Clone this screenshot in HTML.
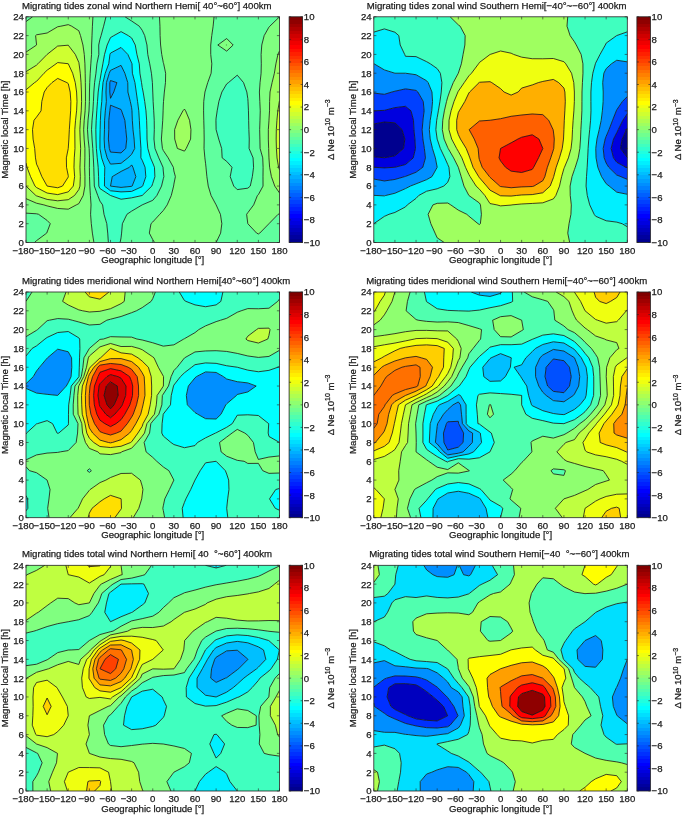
<!DOCTYPE html>
<html><head><meta charset="utf-8"><style>
html,body{margin:0;padding:0;background:#fff;width:685px;height:815px;overflow:hidden}
svg{display:block;will-change:transform}
text{font-family:"Liberation Sans",sans-serif;stroke:#1a1a1a;stroke-width:0.25px}
</style></head><body>
<svg xmlns="http://www.w3.org/2000/svg" width="685" height="815" viewBox="0 0 685 815" font-family="Liberation Sans, sans-serif" font-size="9.6" fill="#1a1a1a">
<clipPath id="clip00"><rect x="26" y="16.8" width="253.5" height="225.7"/></clipPath>
<g clip-path="url(#clip00)">
<path d="M110.5 152.08L121.06 152.88L125.76 148.46L126.75 139.05L125.8 129.65L124.83 120.25L121.59 110.84L121.06 109.5L110.5 105.2L109.83 110.84L108.81 120.25L108.78 129.65L108.39 139.05L109.33 148.46ZM110.5 98.3L113.75 92.03L116.9 82.63L110.5 80.54L109.82 82.63L109.75 92.03Z" fill="#008fff" stroke="#008fff" stroke-width="0.3" fill-rule="evenodd"/>
<path d="M110.5 186.07L121.06 187.42L131.62 186.33L132.15 186.07L135.85 176.67L132.95 167.27L131.62 164.92L129.51 167.27L121.06 171.45L112.26 176.67L110.5 186.07L110.5 186.07ZM110.5 164.13L121.06 163.31L127.9 157.86L131.62 154.34L134.73 148.46L134.11 139.05L132.99 129.65L132.33 120.25L131.97 110.84L131.62 107.71L130.3 101.44L127.9 92.03L127.77 82.63L124.83 73.22L121.06 65.39L110.5 70.4L109.28 73.22L106.41 82.63L105.97 92.03L106.37 101.44L105.33 110.84L104.58 120.25L104.46 129.65L104.16 139.05L104.63 148.46L107.16 157.86ZM109.33 148.46L108.39 139.05L108.78 129.65L108.81 120.25L109.83 110.84L110.5 105.2L121.06 109.5L121.59 110.84L124.83 120.25L125.8 129.65L126.75 139.05L125.76 148.46L121.06 152.88L110.5 152.08ZM109.75 92.03L109.82 82.63L110.5 80.54L116.9 82.63L113.75 92.03L110.5 98.3Z" fill="#00afff" stroke="#00afff" stroke-width="0.3" fill-rule="evenodd"/>
<path d="M110.5 190.78L121.06 191.9L131.62 191.41L142.19 186.52L142.65 186.07L145.83 176.67L145.07 167.27L142.19 160.21L140.87 157.86L140.94 148.46L140.32 139.05L139.8 129.65L139.37 120.25L138.78 110.84L137.57 101.44L136.25 92.03L134.93 82.63L132.38 73.22L131.99 63.82L131.62 62.88L127.82 54.42L121.06 47.45L110.5 53.11L109.96 54.42L108.74 63.82L105.22 73.22L103 82.63L102.2 92.03L101.77 101.44L100.84 110.84L100.36 120.25L100.15 129.65L99.94 139.05L99.94 139.05L99.94 148.46L99.94 148.46L101.61 157.86L104.81 167.27L104.56 176.67L104.46 186.07ZM110.5 186.07L110.5 186.07L112.26 176.67L121.06 171.45L129.51 167.27L131.62 164.92L132.95 167.27L135.85 176.67L132.15 186.07L131.62 186.33L121.06 187.42L110.5 186.07ZM107.16 157.86L104.63 148.46L104.16 139.05L104.46 129.65L104.58 120.25L105.33 110.84L106.37 101.44L105.97 92.03L106.41 82.63L109.28 73.22L110.5 70.4L121.06 65.39L124.83 73.22L127.77 82.63L127.9 92.03L130.3 101.44L131.62 107.71L131.97 110.84L132.33 120.25L132.99 129.65L134.11 139.05L134.73 148.46L131.62 154.34L127.9 157.86L121.06 163.31L110.5 164.13Z" fill="#00cfff" stroke="#00cfff" stroke-width="0.3" fill-rule="evenodd"/>
<path d="M110.5 195.48L121.06 199.24L131.62 197.83L142.19 195.48L142.19 195.48L151.83 186.07L152.75 183.3L154.88 176.67L154.46 167.27L152.75 162.98L150.53 157.86L147.82 148.46L147.01 139.05L146.92 129.65L146.63 120.25L145.96 110.84L144.7 101.44L143.15 92.03L142.19 87.33L141.53 82.63L139.92 73.22L139.27 63.82L136.91 54.42L135.25 45.01L131.62 37.95L128.27 35.61L121.06 31.63L113.86 35.61L110.5 37.57L107.18 45.01L104.54 54.42L102.87 63.82L101.16 73.22L99.94 80.28L99.45 82.63L98.19 92.03L97.5 101.44L96.81 110.84L96.2 120.25L95.84 129.65L96 139.05L96.36 148.46L97.22 157.86L98.18 167.27L98.58 176.67L98.81 186.07L99.94 188.55L110.5 195.48ZM104.46 186.07L104.56 176.67L104.81 167.27L101.61 157.86L99.94 148.46L99.94 148.46L99.94 139.05L99.94 139.05L100.15 129.65L100.36 120.25L100.84 110.84L101.77 101.44L102.2 92.03L103 82.63L105.22 73.22L108.74 63.82L109.96 54.42L110.5 53.11L121.06 47.45L127.82 54.42L131.62 62.88L131.99 63.82L132.38 73.22L134.93 82.63L136.25 92.03L137.57 101.44L138.78 110.84L139.37 120.25L139.8 129.65L140.32 139.05L140.94 148.46L140.87 157.86L142.19 160.21L145.07 167.27L145.83 176.67L142.65 186.07L142.19 186.52L131.62 191.41L121.06 191.9L110.5 190.78Z" fill="#00ffff" stroke="#00ffff" stroke-width="0.3" fill-rule="evenodd"/>
<path d="M110.5 242.5L120.1 242.5L121.06 237.8L121.59 233.1L122.38 223.69L126.93 214.29L131.62 211.15L142.19 204.88L142.19 204.88L152.75 200.33L156.87 195.48L161.54 186.07L163.31 178.75L163.87 176.67L163.31 171.04L163.02 167.27L158.8 157.86L154.98 148.46L153.98 139.05L154.31 129.65L154.23 120.25L153.69 110.84L153.15 101.44L152.75 92.03L152.75 92.03L152.4 82.63L151.43 73.22L149.72 63.82L147.78 54.42L146.95 45.01L144.69 35.61L142.19 30.28L139.27 26.2L131.62 20.99L125.07 16.8L121.06 16.8L110.5 16.8L105.99 16.8L103.62 26.2L101.07 35.61L99.94 39.22L98.71 45.01L98.84 54.42L96.9 63.82L95.94 73.22L94.58 82.63L93.83 92.03L93.45 101.44L92.9 110.84L92.05 120.25L91.53 129.65L92.07 139.05L92.78 148.46L93.34 157.86L93.78 167.27L94.05 176.67L94.32 186.07L97.74 195.48L99.94 201.12L102.58 204.88L104.01 214.29L106.77 223.69L107.72 233.1L108.39 242.5ZM110.5 195.48L99.94 188.55L98.81 186.07L98.58 176.67L98.18 167.27L97.22 157.86L96.36 148.46L96 139.05L95.84 129.65L96.2 120.25L96.81 110.84L97.5 101.44L98.19 92.03L99.45 82.63L99.94 80.28L101.16 73.22L102.87 63.82L104.54 54.42L107.18 45.01L110.5 37.57L113.86 35.61L121.06 31.63L128.27 35.61L131.62 37.95L135.25 45.01L136.91 54.42L139.27 63.82L139.92 73.22L141.53 82.63L142.19 87.33L143.15 92.03L144.7 101.44L145.96 110.84L146.63 120.25L146.92 129.65L147.01 139.05L147.82 148.46L150.53 157.86L152.75 162.98L154.46 167.27L154.88 176.67L152.75 183.3L151.83 186.07L142.19 195.48L142.19 195.48L131.62 197.83L121.06 199.24L110.5 195.48ZM237.25 189.6L247.81 188.18L250.25 186.07L252.34 176.67L253.57 167.27L253.09 157.86L249.08 148.46L249.26 139.05L248.87 129.65L248.65 120.25L248.46 110.84L248.03 101.44L247.81 98.63L246.82 92.03L243.54 82.63L237.25 75.18L228.44 82.63L226.69 83.87L221.89 92.03L218.88 101.44L217.18 110.84L216.12 118.09L215.95 120.25L216.12 129.65L216.12 129.65L218.71 139.05L221.65 148.46L222.16 157.86L226.69 161.39L231.97 167.27L230.21 176.67L233.73 186.07Z" fill="#40ffbf" stroke="#40ffbf" stroke-width="0.3" fill-rule="evenodd"/>
<path d="M36.56 240.62L46.69 233.1L47.12 232.05L50.26 223.69L47.12 220.42L38.54 214.29L36.56 213.79L26 213.15L26 214.29L26 223.69L26 233.1L26 242.5L34.52 242.5ZM99.94 242.5L108.39 242.5L107.72 233.1L106.77 223.69L104.01 214.29L102.58 204.88L99.94 201.12L97.74 195.48L94.32 186.07L94.05 176.67L93.78 167.27L93.34 157.86L92.78 148.46L92.07 139.05L91.53 129.65L92.05 120.25L92.9 110.84L93.45 101.44L93.83 92.03L94.58 82.63L95.94 73.22L96.9 63.82L98.84 54.42L98.71 45.01L99.94 39.22L101.07 35.61L103.62 26.2L105.99 16.8L99.94 16.8L92.91 16.8L92.41 26.2L92.03 35.61L91.61 45.01L91.56 54.42L90.82 63.82L90.23 73.22L89.71 82.63L89.46 92.03L89.39 101.44L89.38 101.71L88.99 110.84L88.02 120.25L87.47 129.65L88.12 139.05L89.16 148.46L89.38 154.99L89.46 157.86L89.38 167.27L89.38 167.27L89.38 167.27L89.53 176.67L89.82 186.07L90.42 195.48L91.04 204.88L90.58 214.29L91.3 223.69L92.39 233.1L93.9 242.5ZM121.06 242.5L131.62 242.5L142.19 242.5L152.75 242.5L154.56 242.5L152.75 239.64L149.32 233.1L150.99 223.69L152.75 221.99L159.77 214.29L163.31 210.56L167.19 204.88L171.29 195.48L173.62 186.07L173.88 184.14L175.38 176.67L173.88 170.97L173.35 167.27L168.19 157.86L163.31 150.48L162.43 148.46L161.39 139.05L162.09 129.65L162.73 120.25L163.12 110.84L163.31 105L163.53 101.44L164.35 92.03L165.47 82.63L165.64 73.22L163.68 63.82L163.31 62.59L161.73 54.42L160.59 45.01L160.12 35.61L159.95 26.2L159.47 16.8L152.75 16.8L142.19 16.8L131.62 16.8L125.07 16.8L131.62 20.99L139.27 26.2L142.19 30.28L144.69 35.61L146.95 45.01L147.78 54.42L149.72 63.82L151.43 73.22L152.4 82.63L152.75 92.03L152.75 92.03L153.15 101.44L153.69 110.84L154.23 120.25L154.31 129.65L153.98 139.05L154.98 148.46L158.8 157.86L163.02 167.27L163.31 171.04L163.87 176.67L163.31 178.75L161.54 186.07L156.87 195.48L152.75 200.33L142.19 204.88L142.19 204.88L131.62 211.15L126.93 214.29L122.38 223.69L121.59 233.1L121.06 237.8L120.1 242.5ZM226.69 242.5L237.25 242.5L247.81 242.5L258.38 242.5L268.94 242.5L279.5 242.5L279.5 233.1L279.5 223.69L279.5 214.29L279.5 213.76L278.12 214.29L268.94 223.69L268.94 223.69L259.75 233.1L258.38 233.95L256.61 233.1L247.81 223.69L247.81 223.69L246.64 214.29L247.81 212.71L253.67 204.88L257.41 195.48L258.38 194.65L263.04 186.07L262.99 176.67L263.1 167.27L262.72 157.86L260.09 148.46L259.88 139.05L259.67 129.65L259.99 120.25L260.25 110.84L259.8 101.44L259.42 92.03L260.06 82.63L261.1 73.22L261.31 63.82L261.11 54.42L261.77 45.01L264.16 35.61L268.94 27.14L269.83 26.2L279.5 16.8L279.5 16.8L268.94 16.8L258.38 16.8L247.81 16.8L237.25 16.8L226.69 16.8L216.12 16.8L214.06 16.8L213.14 26.2L211.75 35.61L210.73 45.01L210.72 54.42L211.81 63.82L211.13 73.22L207.73 82.63L205.56 89.95L204.94 92.03L203.73 101.44L203.58 110.84L203.78 120.25L204.04 129.65L204.18 139.05L204.02 148.46L204.87 157.86L205.56 163.24L205.99 167.27L206.88 176.67L208.24 186.07L211.07 195.48L216.12 204.88L216.12 204.88L220.41 214.29L221.83 223.69L220.61 233.1L216.13 242.5ZM233.73 186.07L230.21 176.67L231.97 167.27L226.69 161.39L222.16 157.86L221.65 148.46L218.71 139.05L216.12 129.65L216.12 129.65L215.95 120.25L216.12 118.09L217.18 110.84L218.88 101.44L221.89 92.03L226.69 83.87L228.44 82.63L237.25 75.18L243.54 82.63L246.82 92.03L247.81 98.63L248.03 101.44L248.46 110.84L248.65 120.25L248.87 129.65L249.26 139.05L249.08 148.46L253.09 157.86L253.57 167.27L252.34 176.67L250.25 186.07L247.81 188.18L237.25 189.6ZM217.84 45.01L226.69 38.53L233.17 45.01L226.69 51.14ZM32.55 16.8L26 16.8L26 21.56Z" fill="#60ff9f" stroke="#60ff9f" stroke-width="0.3" fill-rule="evenodd"/>
<path d="M36.56 242.5L47.12 242.5L57.69 242.5L68.25 242.5L78.81 242.5L89.38 242.5L93.9 242.5L92.39 233.1L91.3 223.69L90.58 214.29L91.04 204.88L90.42 195.48L89.82 186.07L89.53 176.67L89.38 167.27L89.38 167.27L89.38 167.27L89.46 157.86L89.38 154.99L89.16 148.46L88.12 139.05L87.47 129.65L88.02 120.25L88.99 110.84L89.38 101.71L89.39 101.44L89.46 92.03L89.71 82.63L90.23 73.22L90.82 63.82L91.56 54.42L91.61 45.01L92.03 35.61L92.41 26.2L92.91 16.8L89.38 16.8L78.81 16.8L68.25 16.8L57.69 16.8L47.12 16.8L36.56 16.8L32.55 16.8L26 21.56L26 26.2L26 35.61L26 45.01L26 52.1L36.56 45.04L36.58 45.01L36.56 44.81L35.6 35.61L36.56 34.79L47.12 33L57.69 26.74L60.86 26.2L68.25 24.64L71.68 26.2L78.81 30.73L80.51 35.61L82.93 45.01L84.28 54.42L84.92 63.82L85.2 73.22L85.35 82.63L85.44 92.03L85.48 101.44L85.11 110.84L84.21 120.25L83.65 129.65L84.14 139.05L84.9 148.46L84.89 157.86L84.66 167.27L84.94 176.67L84.92 186.07L83.23 195.48L78.81 203.66L76.33 204.88L68.25 209.19L57.69 208.45L47.12 205.91L43.87 204.88L36.56 203.23L26 198.66L26 204.88L26 213.15L36.56 213.79L38.54 214.29L47.12 220.42L50.26 223.69L47.12 232.05L46.69 233.1L36.56 240.62L34.52 242.5ZM152.75 239.64L154.56 242.5L163.31 242.5L173.88 242.5L184.44 242.5L195 242.5L205.56 242.5L216.12 242.5L216.13 242.5L220.61 233.1L221.83 223.69L220.41 214.29L216.12 204.88L216.12 204.88L211.07 195.48L208.24 186.07L206.88 176.67L205.99 167.27L205.56 163.24L204.87 157.86L204.02 148.46L204.18 139.05L204.04 129.65L203.78 120.25L203.58 110.84L203.73 101.44L204.94 92.03L205.56 89.95L207.73 82.63L211.13 73.22L211.81 63.82L210.72 54.42L210.73 45.01L211.75 35.61L213.14 26.2L214.06 16.8L205.56 16.8L195 16.8L184.44 16.8L173.88 16.8L163.31 16.8L159.47 16.8L159.95 26.2L160.12 35.61L160.59 45.01L161.73 54.42L163.31 62.59L163.68 63.82L165.64 73.22L165.47 82.63L164.35 92.03L163.53 101.44L163.31 105L163.12 110.84L162.73 120.25L162.09 129.65L161.39 139.05L162.43 148.46L163.31 150.48L168.19 157.86L173.35 167.27L173.88 170.97L175.38 176.67L173.88 184.14L173.62 186.07L171.29 195.48L167.19 204.88L163.31 210.56L159.77 214.29L152.75 221.99L150.99 223.69L149.32 233.1ZM177.4 148.46L174.71 139.05L174.61 129.65L177.86 120.25L182.93 110.84L184.44 109.08L185.61 110.84L189.55 120.25L190.94 129.65L190.6 139.05L186.2 148.46L184.44 151.12ZM258.38 233.95L259.75 233.1L268.94 223.69L268.94 223.69L278.12 214.29L279.5 213.76L279.5 204.88L279.5 195.48L279.5 192.95L274.75 186.07L271.43 176.67L269.61 167.27L268.94 157.88L268.94 157.86L268.65 148.46L268.33 139.05L268.33 129.65L268.94 120.9L268.98 120.25L269.54 110.84L269.59 101.44L270.02 92.03L272.08 82.63L274.38 73.22L275.9 63.82L277.93 54.42L279.5 50.96L279.5 45.01L279.5 35.61L279.5 26.2L279.5 16.8L269.83 26.2L268.94 27.14L264.16 35.61L261.77 45.01L261.11 54.42L261.31 63.82L261.1 73.22L260.06 82.63L259.42 92.03L259.8 101.44L260.25 110.84L259.99 120.25L259.67 129.65L259.88 139.05L260.09 148.46L262.72 157.86L263.1 167.27L262.99 176.67L263.04 186.07L258.38 194.65L257.41 195.48L253.67 204.88L247.81 212.71L246.64 214.29L247.81 223.69L247.81 223.69L256.61 233.1ZM226.69 51.14L233.17 45.01L226.69 38.53L217.84 45.01ZM226.51 45.01L226.69 44.89L226.81 45.01L226.69 45.13Z" fill="#80ff80" stroke="#80ff80" stroke-width="0.3" fill-rule="evenodd"/>
<path d="M47.12 205.91L57.69 208.45L68.25 209.19L76.33 204.88L78.81 203.66L83.23 195.48L84.92 186.07L84.94 176.67L84.66 167.27L84.89 157.86L84.9 148.46L84.14 139.05L83.65 129.65L84.21 120.25L85.11 110.84L85.48 101.44L85.44 92.03L85.35 82.63L85.2 73.22L84.92 63.82L84.28 54.42L82.93 45.01L80.51 35.61L78.81 30.73L71.68 26.2L68.25 24.64L60.86 26.2L57.69 26.74L47.12 33L36.56 34.79L35.6 35.61L36.56 44.81L36.58 45.01L36.56 45.04L26 52.1L26 54.42L26 63.82L26 71.66L36.56 65.12L37.88 63.82L47.12 54.42L47.12 54.42L57.69 46.06L68.25 45.2L75.3 54.42L78.81 62.41L79.07 63.82L80.29 73.22L81.02 82.63L81.43 92.03L81.57 101.44L81.24 110.84L80.4 120.25L79.84 129.65L80.17 139.05L80.63 148.46L80.31 157.86L79.95 167.27L80.34 176.67L79.96 186.07L78.81 189.62L74.56 195.48L68.25 199.69L57.69 200.79L47.12 199.42L36.56 195.89L35.83 195.48L26 186.08L26 195.48L26 198.66L36.56 203.23L43.87 204.88ZM279.5 192.95L279.5 186.07L279.5 176.67L279.5 169.84L278.6 167.27L277 157.86L276.41 148.46L276.18 139.05L276.32 129.65L276.91 120.25L277.84 110.84L279.34 101.44L279.5 100.73L279.5 92.03L279.5 82.63L279.5 73.22L279.5 63.82L279.5 54.42L279.5 50.96L277.93 54.42L275.9 63.82L274.38 73.22L272.08 82.63L270.02 92.03L269.59 101.44L269.54 110.84L268.98 120.25L268.94 120.9L268.33 129.65L268.33 139.05L268.65 148.46L268.94 157.86L268.94 157.88L269.61 167.27L271.43 176.67L274.75 186.07ZM184.44 151.12L186.2 148.46L190.6 139.05L190.94 129.65L189.55 120.25L185.61 110.84L184.44 109.08L182.93 110.84L177.86 120.25L174.61 129.65L174.71 139.05L177.4 148.46ZM226.69 45.13L226.81 45.01L226.69 44.89L226.51 45.01Z" fill="#9fff60" stroke="#9fff60" stroke-width="0.3" fill-rule="evenodd"/>
<path d="M36.56 195.89L47.12 199.42L57.69 200.79L68.25 199.69L74.56 195.48L78.81 189.62L79.96 186.07L80.34 176.67L79.95 167.27L80.31 157.86L80.63 148.46L80.17 139.05L79.84 129.65L80.4 120.25L81.24 110.84L81.57 101.44L81.43 92.03L81.02 82.63L80.29 73.22L79.07 63.82L78.81 62.41L75.3 54.42L68.25 45.2L57.69 46.06L47.12 54.42L47.12 54.42L37.88 63.82L36.56 65.12L26 71.66L26 73.22L26 82.63L26 89.81L34.52 82.63L36.56 81.32L44.02 73.22L47.12 70.19L56.03 63.82L57.69 62.57L68.25 63.72L68.31 63.82L72.65 73.22L75.26 82.63L76.59 92.03L77.01 101.44L76.59 110.84L75.55 120.25L74.81 129.65L74.86 139.05L74.96 148.46L74.28 157.86L73.98 167.27L74.62 176.67L73.29 186.07L68.25 191.89L57.69 194.62L47.12 193.04L36.56 187.56L34.97 186.07L30.57 176.67L27.01 167.27L26 163.02L26 167.27L26 176.67L26 186.07L26 186.08L35.83 195.48ZM279.5 169.84L279.5 167.27L279.5 157.86L279.5 148.46L279.5 139.05L279.5 129.65L279.5 120.25L279.5 110.84L279.5 101.44L279.5 100.73L279.34 101.44L277.84 110.84L276.91 120.25L276.32 129.65L276.18 139.05L276.41 148.46L277 157.86L278.6 167.27Z" fill="#cfff30" stroke="#cfff30" stroke-width="0.3" fill-rule="evenodd"/>
<path d="M36.56 187.56L47.12 193.04L57.69 194.62L68.25 191.89L73.29 186.07L74.62 176.67L73.98 167.27L74.28 157.86L74.96 148.46L74.86 139.05L74.81 129.65L75.55 120.25L76.59 110.84L77.01 101.44L76.59 92.03L75.26 82.63L72.65 73.22L68.31 63.82L68.25 63.72L57.69 62.57L56.03 63.82L47.12 70.19L44.02 73.22L36.56 81.32L34.52 82.63L26 89.81L26 92.03L26 101.44L26 110.84L26 120.25L26 129.65L26 139.05L26 148.46L26 157.86L26 163.02L27.01 167.27L30.57 176.67L34.97 186.07ZM47.12 186.07L41.87 176.67L38.07 167.27L36.56 164.13L35.48 157.86L34.7 148.46L33.08 139.05L32.5 129.65L33.99 120.25L36.56 117.08L41.05 110.84L41.81 101.44L44.21 92.03L47.12 87.52L51.95 82.63L57.69 78.43L66.96 82.63L68.25 83.63L70.17 92.03L70.86 101.44L70.63 110.84L69.97 120.25L69.34 129.65L68.86 139.05L68.25 148.46L68.25 148.46L66.36 157.86L66.53 167.27L68.25 175.65L68.33 176.67L68.25 177.04L62.47 186.07L57.69 187.77L47.12 186.07Z" fill="#ffff00" stroke="#ffff00" stroke-width="0.3" fill-rule="evenodd"/>
<path d="M47.12 186.07L57.69 187.77L62.47 186.07L68.25 177.04L68.33 176.67L68.25 175.65L66.53 167.27L66.36 157.86L68.25 148.46L68.25 148.46L68.86 139.05L69.34 129.65L69.97 120.25L70.63 110.84L70.86 101.44L70.17 92.03L68.25 83.63L66.96 82.63L57.69 78.43L51.95 82.63L47.12 87.52L44.21 92.03L41.81 101.44L41.05 110.84L36.56 117.08L33.99 120.25L32.5 129.65L33.08 139.05L34.7 148.46L35.48 157.86L36.56 164.13L38.07 167.27L41.87 176.67L47.12 186.07Z" fill="#ffdf00" stroke="#ffdf00" stroke-width="0.3" fill-rule="evenodd"/>
<path d="M110.5 152.08L109.33 148.46L108.39 139.05L108.78 129.65L108.81 120.25L109.83 110.84L110.5 105.2L121.06 109.5L121.59 110.84L124.83 120.25L125.8 129.65L126.75 139.05L125.76 148.46L121.06 152.88ZM110.5 98.3L109.75 92.03L109.82 82.63L110.5 80.54L116.9 82.63L113.75 92.03Z" fill="none" stroke="#111" stroke-width="0.8" stroke-linejoin="round"/>
<path d="M110.5 186.07L110.5 186.07L110.5 186.07L112.26 176.67L121.06 171.45L129.51 167.27L131.62 164.92L132.95 167.27L135.85 176.67L132.15 186.07L131.62 186.33L121.06 187.42ZM110.5 164.13L107.16 157.86L104.63 148.46L104.16 139.05L104.46 129.65L104.58 120.25L105.33 110.84L106.37 101.44L105.97 92.03L106.41 82.63L109.28 73.22L110.5 70.4L121.06 65.39L124.83 73.22L127.77 82.63L127.9 92.03L130.3 101.44L131.62 107.71L131.97 110.84L132.33 120.25L132.99 129.65L134.11 139.05L134.73 148.46L131.62 154.34L127.9 157.86L121.06 163.31Z" fill="none" stroke="#111" stroke-width="0.8" stroke-linejoin="round"/>
<path d="M110.5 190.78L104.46 186.07L104.56 176.67L104.81 167.27L101.61 157.86L99.94 148.46L99.94 148.46L99.94 139.05L99.94 139.05L100.15 129.65L100.36 120.25L100.84 110.84L101.77 101.44L102.2 92.03L103 82.63L105.22 73.22L108.74 63.82L109.96 54.42L110.5 53.11L121.06 47.45L127.82 54.42L131.62 62.88L131.99 63.82L132.38 73.22L134.93 82.63L136.25 92.03L137.57 101.44L138.78 110.84L139.37 120.25L139.8 129.65L140.32 139.05L140.94 148.46L140.87 157.86L142.19 160.21L145.07 167.27L145.83 176.67L142.65 186.07L142.19 186.52L131.62 191.41L121.06 191.9Z" fill="none" stroke="#111" stroke-width="0.8" stroke-linejoin="round"/>
<path d="M110.5 195.48L110.5 195.48L99.94 188.55L98.81 186.07L98.58 176.67L98.18 167.27L97.22 157.86L96.36 148.46L96 139.05L95.84 129.65L96.2 120.25L96.81 110.84L97.5 101.44L98.19 92.03L99.45 82.63L99.94 80.28L101.16 73.22L102.87 63.82L104.54 54.42L107.18 45.01L110.5 37.57L113.86 35.61L121.06 31.63L128.27 35.61L131.62 37.95L135.25 45.01L136.91 54.42L139.27 63.82L139.92 73.22L141.53 82.63L142.19 87.33L143.15 92.03L144.7 101.44L145.96 110.84L146.63 120.25L146.92 129.65L147.01 139.05L147.82 148.46L150.53 157.86L152.75 162.98L154.46 167.27L154.88 176.67L152.75 183.3L151.83 186.07L142.19 195.48L142.19 195.48L131.62 197.83L121.06 199.24Z" fill="none" stroke="#111" stroke-width="0.8" stroke-linejoin="round"/>
<path d="M108.39 242.5L107.72 233.1L106.77 223.69L104.01 214.29L102.58 204.88L99.94 201.12L97.74 195.48L94.32 186.07L94.05 176.67L93.78 167.27L93.34 157.86L92.78 148.46L92.07 139.05L91.53 129.65L92.05 120.25L92.9 110.84L93.45 101.44L93.83 92.03L94.58 82.63L95.94 73.22L96.9 63.82L98.84 54.42L98.71 45.01L99.94 39.22L101.07 35.61L103.62 26.2L105.99 16.8M125.07 16.8L131.62 20.99L139.27 26.2L142.19 30.28L144.69 35.61L146.95 45.01L147.78 54.42L149.72 63.82L151.43 73.22L152.4 82.63L152.75 92.03L152.75 92.03L153.15 101.44L153.69 110.84L154.23 120.25L154.31 129.65L153.98 139.05L154.98 148.46L158.8 157.86L163.02 167.27L163.31 171.04L163.87 176.67L163.31 178.75L161.54 186.07L156.87 195.48L152.75 200.33L142.19 204.88L142.19 204.88L131.62 211.15L126.93 214.29L122.38 223.69L121.59 233.1L121.06 237.8L120.1 242.5M237.25 189.6L233.73 186.07L230.21 176.67L231.97 167.27L226.69 161.39L222.16 157.86L221.65 148.46L218.71 139.05L216.12 129.65L216.12 129.65L215.95 120.25L216.12 118.09L217.18 110.84L218.88 101.44L221.89 92.03L226.69 83.87L228.44 82.63L237.25 75.18L243.54 82.63L246.82 92.03L247.81 98.63L248.03 101.44L248.46 110.84L248.65 120.25L248.87 129.65L249.26 139.05L249.08 148.46L253.09 157.86L253.57 167.27L252.34 176.67L250.25 186.07L247.81 188.18Z" fill="none" stroke="#111" stroke-width="0.8" stroke-linejoin="round"/>
<path d="M93.9 242.5L92.39 233.1L91.3 223.69L90.58 214.29L91.04 204.88L90.42 195.48L89.82 186.07L89.53 176.67L89.38 167.27L89.38 167.27L89.38 167.27L89.46 157.86L89.38 154.99L89.16 148.46L88.12 139.05L87.47 129.65L88.02 120.25L88.99 110.84L89.38 101.71L89.39 101.44L89.46 92.03L89.71 82.63L90.23 73.22L90.82 63.82L91.56 54.42L91.61 45.01L92.03 35.61L92.41 26.2L92.91 16.8M216.13 242.5L220.61 233.1L221.83 223.69L220.41 214.29L216.12 204.88L216.12 204.88L211.07 195.48L208.24 186.07L206.88 176.67L205.99 167.27L205.56 163.24L204.87 157.86L204.02 148.46L204.18 139.05L204.04 129.65L203.78 120.25L203.58 110.84L203.73 101.44L204.94 92.03L205.56 89.95L207.73 82.63L211.13 73.22L211.81 63.82L210.72 54.42L210.73 45.01L211.75 35.61L213.14 26.2L214.06 16.8M26 213.15L36.56 213.79L38.54 214.29L47.12 220.42L50.26 223.69L47.12 232.05L46.69 233.1L36.56 240.62L34.52 242.5M32.55 16.8L26 21.56M159.47 16.8L159.95 26.2L160.12 35.61L160.59 45.01L161.73 54.42L163.31 62.59L163.68 63.82L165.64 73.22L165.47 82.63L164.35 92.03L163.53 101.44L163.31 105L163.12 110.84L162.73 120.25L162.09 129.65L161.39 139.05L162.43 148.46L163.31 150.48L168.19 157.86L173.35 167.27L173.88 170.97L175.38 176.67L173.88 184.14L173.62 186.07L171.29 195.48L167.19 204.88L163.31 210.56L159.77 214.29L152.75 221.99L150.99 223.69L149.32 233.1L152.75 239.64L154.56 242.5M279.5 16.8L269.83 26.2L268.94 27.14L264.16 35.61L261.77 45.01L261.11 54.42L261.31 63.82L261.1 73.22L260.06 82.63L259.42 92.03L259.8 101.44L260.25 110.84L259.99 120.25L259.67 129.65L259.88 139.05L260.09 148.46L262.72 157.86L263.1 167.27L262.99 176.67L263.04 186.07L258.38 194.65L257.41 195.48L253.67 204.88L247.81 212.71L246.64 214.29L247.81 223.69L247.81 223.69L256.61 233.1L258.38 233.95L259.75 233.1L268.94 223.69L268.94 223.69L278.12 214.29L279.5 213.76M226.69 51.14L233.17 45.01L226.69 38.53L217.84 45.01Z" fill="none" stroke="#111" stroke-width="0.8" stroke-linejoin="round"/>
<path d="M26 198.66L36.56 203.23L43.87 204.88L47.12 205.91L57.69 208.45L68.25 209.19L76.33 204.88L78.81 203.66L83.23 195.48L84.92 186.07L84.94 176.67L84.66 167.27L84.89 157.86L84.9 148.46L84.14 139.05L83.65 129.65L84.21 120.25L85.11 110.84L85.48 101.44L85.44 92.03L85.35 82.63L85.2 73.22L84.92 63.82L84.28 54.42L82.93 45.01L80.51 35.61L78.81 30.73L71.68 26.2L68.25 24.64L60.86 26.2L57.69 26.74L47.12 33L36.56 34.79L35.6 35.61L36.56 44.81L36.58 45.01L36.56 45.04L26 52.1M279.5 50.96L277.93 54.42L275.9 63.82L274.38 73.22L272.08 82.63L270.02 92.03L269.59 101.44L269.54 110.84L268.98 120.25L268.94 120.9L268.33 129.65L268.33 139.05L268.65 148.46L268.94 157.86L268.94 157.88L269.61 167.27L271.43 176.67L274.75 186.07L279.5 192.95M184.44 151.12L186.2 148.46L190.6 139.05L190.94 129.65L189.55 120.25L185.61 110.84L184.44 109.08L182.93 110.84L177.86 120.25L174.61 129.65L174.71 139.05L177.4 148.46ZM226.69 45.13L226.81 45.01L226.69 44.89L226.51 45.01Z" fill="none" stroke="#111" stroke-width="0.8" stroke-linejoin="round"/>
<path d="M26 186.08L35.83 195.48L36.56 195.89L47.12 199.42L57.69 200.79L68.25 199.69L74.56 195.48L78.81 189.62L79.96 186.07L80.34 176.67L79.95 167.27L80.31 157.86L80.63 148.46L80.17 139.05L79.84 129.65L80.4 120.25L81.24 110.84L81.57 101.44L81.43 92.03L81.02 82.63L80.29 73.22L79.07 63.82L78.81 62.41L75.3 54.42L68.25 45.2L57.69 46.06L47.12 54.42L47.12 54.42L37.88 63.82L36.56 65.12L26 71.66M279.5 100.73L279.34 101.44L277.84 110.84L276.91 120.25L276.32 129.65L276.18 139.05L276.41 148.46L277 157.86L278.6 167.27L279.5 169.84" fill="none" stroke="#111" stroke-width="0.8" stroke-linejoin="round"/>
<path d="M26 163.02L27.01 167.27L30.57 176.67L34.97 186.07L36.56 187.56L47.12 193.04L57.69 194.62L68.25 191.89L73.29 186.07L74.62 176.67L73.98 167.27L74.28 157.86L74.96 148.46L74.86 139.05L74.81 129.65L75.55 120.25L76.59 110.84L77.01 101.44L76.59 92.03L75.26 82.63L72.65 73.22L68.31 63.82L68.25 63.72L57.69 62.57L56.03 63.82L47.12 70.19L44.02 73.22L36.56 81.32L34.52 82.63L26 89.81" fill="none" stroke="#111" stroke-width="0.8" stroke-linejoin="round"/>
<path d="M47.12 186.07L57.69 187.77L62.47 186.07L68.25 177.04L68.33 176.67L68.25 175.65L66.53 167.27L66.36 157.86L68.25 148.46L68.25 148.46L68.86 139.05L69.34 129.65L69.97 120.25L70.63 110.84L70.86 101.44L70.17 92.03L68.25 83.63L66.96 82.63L57.69 78.43L51.95 82.63L47.12 87.52L44.21 92.03L41.81 101.44L41.05 110.84L36.56 117.08L33.99 120.25L32.5 129.65L33.08 139.05L34.7 148.46L35.48 157.86L36.56 164.13L38.07 167.27L41.87 176.67L47.12 186.07Z" fill="none" stroke="#111" stroke-width="0.8" stroke-linejoin="round"/>
</g>
<path d="M26 242.5v-2.6M26 16.8v2.6M47.12 242.5v-2.6M47.12 16.8v2.6M68.25 242.5v-2.6M68.25 16.8v2.6M89.38 242.5v-2.6M89.38 16.8v2.6M110.5 242.5v-2.6M110.5 16.8v2.6M131.62 242.5v-2.6M131.62 16.8v2.6M152.75 242.5v-2.6M152.75 16.8v2.6M173.88 242.5v-2.6M173.88 16.8v2.6M195 242.5v-2.6M195 16.8v2.6M216.12 242.5v-2.6M216.12 16.8v2.6M237.25 242.5v-2.6M237.25 16.8v2.6M258.38 242.5v-2.6M258.38 16.8v2.6M279.5 242.5v-2.6M279.5 16.8v2.6M26 16.8h2.6M279.5 16.8h-2.6M26 35.61h2.6M279.5 35.61h-2.6M26 54.42h2.6M279.5 54.42h-2.6M26 73.22h2.6M279.5 73.22h-2.6M26 92.03h2.6M279.5 92.03h-2.6M26 110.84h2.6M279.5 110.84h-2.6M26 129.65h2.6M279.5 129.65h-2.6M26 148.46h2.6M279.5 148.46h-2.6M26 167.27h2.6M279.5 167.27h-2.6M26 186.07h2.6M279.5 186.07h-2.6M26 204.88h2.6M279.5 204.88h-2.6M26 223.69h2.6M279.5 223.69h-2.6M26 242.5h2.6M279.5 242.5h-2.6" stroke="#222" stroke-width="0.6" fill="none"/>
<rect x="26" y="16.8" width="253.5" height="225.7" fill="none" stroke="#222" stroke-width="0.8"/>
<text x="23.2" y="253.5" text-anchor="middle">−180</text>
<text x="44.33" y="253.5" text-anchor="middle">−150</text>
<text x="65.45" y="253.5" text-anchor="middle">−120</text>
<text x="86.58" y="253.5" text-anchor="middle">−90</text>
<text x="107.7" y="253.5" text-anchor="middle">−60</text>
<text x="128.82" y="253.5" text-anchor="middle">−30</text>
<text x="152.75" y="253.5" text-anchor="middle">0</text>
<text x="173.88" y="253.5" text-anchor="middle">30</text>
<text x="195" y="253.5" text-anchor="middle">60</text>
<text x="216.12" y="253.5" text-anchor="middle">90</text>
<text x="237.25" y="253.5" text-anchor="middle">120</text>
<text x="258.38" y="253.5" text-anchor="middle">150</text>
<text x="279.5" y="253.5" text-anchor="middle">180</text>
<text x="23.8" y="245.9" text-anchor="end">0</text>
<text x="23.8" y="227.09" text-anchor="end">2</text>
<text x="23.8" y="208.28" text-anchor="end">4</text>
<text x="23.8" y="189.47" text-anchor="end">6</text>
<text x="23.8" y="170.67" text-anchor="end">8</text>
<text x="23.8" y="151.86" text-anchor="end">10</text>
<text x="23.8" y="133.05" text-anchor="end">12</text>
<text x="23.8" y="114.24" text-anchor="end">14</text>
<text x="23.8" y="95.43" text-anchor="end">16</text>
<text x="23.8" y="76.63" text-anchor="end">18</text>
<text x="23.8" y="57.82" text-anchor="end">20</text>
<text x="23.8" y="39.01" text-anchor="end">22</text>
<text x="23.8" y="20.2" text-anchor="end">24</text>
<text x="152.75" y="263.1" text-anchor="middle">Geographic longitude [°]</text>
<text transform="translate(8.4 129.65) rotate(-90)" text-anchor="middle">Magnetic local Time [h]</text>
<text x="22" y="8.8">Migrating tides zonal wind Northern Hemi[ 40°~60°] 400km</text>
<linearGradient id="cb00" x1="0" y1="0" x2="0" y2="1"><stop offset="0.0000%" stop-color="#800000"/><stop offset="1.5625%" stop-color="#800000"/><stop offset="1.5625%" stop-color="#8f0000"/><stop offset="3.1250%" stop-color="#8f0000"/><stop offset="3.1250%" stop-color="#9f0000"/><stop offset="4.6875%" stop-color="#9f0000"/><stop offset="4.6875%" stop-color="#af0000"/><stop offset="6.2500%" stop-color="#af0000"/><stop offset="6.2500%" stop-color="#bf0000"/><stop offset="7.8125%" stop-color="#bf0000"/><stop offset="7.8125%" stop-color="#cf0000"/><stop offset="9.3750%" stop-color="#cf0000"/><stop offset="9.3750%" stop-color="#df0000"/><stop offset="10.9375%" stop-color="#df0000"/><stop offset="10.9375%" stop-color="#ef0000"/><stop offset="12.5000%" stop-color="#ef0000"/><stop offset="12.5000%" stop-color="#ff0000"/><stop offset="14.0625%" stop-color="#ff0000"/><stop offset="14.0625%" stop-color="#ff1000"/><stop offset="15.6250%" stop-color="#ff1000"/><stop offset="15.6250%" stop-color="#ff2000"/><stop offset="17.1875%" stop-color="#ff2000"/><stop offset="17.1875%" stop-color="#ff3000"/><stop offset="18.7500%" stop-color="#ff3000"/><stop offset="18.7500%" stop-color="#ff4000"/><stop offset="20.3125%" stop-color="#ff4000"/><stop offset="20.3125%" stop-color="#ff5000"/><stop offset="21.8750%" stop-color="#ff5000"/><stop offset="21.8750%" stop-color="#ff6000"/><stop offset="23.4375%" stop-color="#ff6000"/><stop offset="23.4375%" stop-color="#ff7000"/><stop offset="25.0000%" stop-color="#ff7000"/><stop offset="25.0000%" stop-color="#ff8000"/><stop offset="26.5625%" stop-color="#ff8000"/><stop offset="26.5625%" stop-color="#ff8f00"/><stop offset="28.1250%" stop-color="#ff8f00"/><stop offset="28.1250%" stop-color="#ff9f00"/><stop offset="29.6875%" stop-color="#ff9f00"/><stop offset="29.6875%" stop-color="#ffaf00"/><stop offset="31.2500%" stop-color="#ffaf00"/><stop offset="31.2500%" stop-color="#ffbf00"/><stop offset="32.8125%" stop-color="#ffbf00"/><stop offset="32.8125%" stop-color="#ffcf00"/><stop offset="34.3750%" stop-color="#ffcf00"/><stop offset="34.3750%" stop-color="#ffdf00"/><stop offset="35.9375%" stop-color="#ffdf00"/><stop offset="35.9375%" stop-color="#ffef00"/><stop offset="37.5000%" stop-color="#ffef00"/><stop offset="37.5000%" stop-color="#ffff00"/><stop offset="39.0625%" stop-color="#ffff00"/><stop offset="39.0625%" stop-color="#efff10"/><stop offset="40.6250%" stop-color="#efff10"/><stop offset="40.6250%" stop-color="#dfff20"/><stop offset="42.1875%" stop-color="#dfff20"/><stop offset="42.1875%" stop-color="#cfff30"/><stop offset="43.7500%" stop-color="#cfff30"/><stop offset="43.7500%" stop-color="#bfff40"/><stop offset="45.3125%" stop-color="#bfff40"/><stop offset="45.3125%" stop-color="#afff50"/><stop offset="46.8750%" stop-color="#afff50"/><stop offset="46.8750%" stop-color="#9fff60"/><stop offset="48.4375%" stop-color="#9fff60"/><stop offset="48.4375%" stop-color="#8fff70"/><stop offset="50.0000%" stop-color="#8fff70"/><stop offset="50.0000%" stop-color="#80ff80"/><stop offset="51.5625%" stop-color="#80ff80"/><stop offset="51.5625%" stop-color="#70ff8f"/><stop offset="53.1250%" stop-color="#70ff8f"/><stop offset="53.1250%" stop-color="#60ff9f"/><stop offset="54.6875%" stop-color="#60ff9f"/><stop offset="54.6875%" stop-color="#50ffaf"/><stop offset="56.2500%" stop-color="#50ffaf"/><stop offset="56.2500%" stop-color="#40ffbf"/><stop offset="57.8125%" stop-color="#40ffbf"/><stop offset="57.8125%" stop-color="#30ffcf"/><stop offset="59.3750%" stop-color="#30ffcf"/><stop offset="59.3750%" stop-color="#20ffdf"/><stop offset="60.9375%" stop-color="#20ffdf"/><stop offset="60.9375%" stop-color="#10ffef"/><stop offset="62.5000%" stop-color="#10ffef"/><stop offset="62.5000%" stop-color="#00ffff"/><stop offset="64.0625%" stop-color="#00ffff"/><stop offset="64.0625%" stop-color="#00efff"/><stop offset="65.6250%" stop-color="#00efff"/><stop offset="65.6250%" stop-color="#00dfff"/><stop offset="67.1875%" stop-color="#00dfff"/><stop offset="67.1875%" stop-color="#00cfff"/><stop offset="68.7500%" stop-color="#00cfff"/><stop offset="68.7500%" stop-color="#00bfff"/><stop offset="70.3125%" stop-color="#00bfff"/><stop offset="70.3125%" stop-color="#00afff"/><stop offset="71.8750%" stop-color="#00afff"/><stop offset="71.8750%" stop-color="#009fff"/><stop offset="73.4375%" stop-color="#009fff"/><stop offset="73.4375%" stop-color="#008fff"/><stop offset="75.0000%" stop-color="#008fff"/><stop offset="75.0000%" stop-color="#0080ff"/><stop offset="76.5625%" stop-color="#0080ff"/><stop offset="76.5625%" stop-color="#0070ff"/><stop offset="78.1250%" stop-color="#0070ff"/><stop offset="78.1250%" stop-color="#0060ff"/><stop offset="79.6875%" stop-color="#0060ff"/><stop offset="79.6875%" stop-color="#0050ff"/><stop offset="81.2500%" stop-color="#0050ff"/><stop offset="81.2500%" stop-color="#0040ff"/><stop offset="82.8125%" stop-color="#0040ff"/><stop offset="82.8125%" stop-color="#0030ff"/><stop offset="84.3750%" stop-color="#0030ff"/><stop offset="84.3750%" stop-color="#0020ff"/><stop offset="85.9375%" stop-color="#0020ff"/><stop offset="85.9375%" stop-color="#0010ff"/><stop offset="87.5000%" stop-color="#0010ff"/><stop offset="87.5000%" stop-color="#0000ff"/><stop offset="89.0625%" stop-color="#0000ff"/><stop offset="89.0625%" stop-color="#0000ef"/><stop offset="90.6250%" stop-color="#0000ef"/><stop offset="90.6250%" stop-color="#0000df"/><stop offset="92.1875%" stop-color="#0000df"/><stop offset="92.1875%" stop-color="#0000cf"/><stop offset="93.7500%" stop-color="#0000cf"/><stop offset="93.7500%" stop-color="#0000bf"/><stop offset="95.3125%" stop-color="#0000bf"/><stop offset="95.3125%" stop-color="#0000af"/><stop offset="96.8750%" stop-color="#0000af"/><stop offset="96.8750%" stop-color="#00009f"/><stop offset="98.4375%" stop-color="#00009f"/><stop offset="98.4375%" stop-color="#00008f"/><stop offset="100.0000%" stop-color="#00008f"/></linearGradient>
<rect x="289.1" y="16.8" width="13.5" height="225.7" fill="url(#cb00)"/>
<path d="M289.1 242.5h2M302.6 242.5h-2M289.1 219.93h2M302.6 219.93h-2M289.1 197.36h2M302.6 197.36h-2M289.1 174.79h2M302.6 174.79h-2M289.1 152.22h2M302.6 152.22h-2M289.1 129.65h2M302.6 129.65h-2M289.1 107.08h2M302.6 107.08h-2M289.1 84.51h2M302.6 84.51h-2M289.1 61.94h2M302.6 61.94h-2M289.1 39.37h2M302.6 39.37h-2M289.1 16.8h2M302.6 16.8h-2" stroke="#222" stroke-width="0.6" fill="none"/>
<rect x="289.1" y="16.8" width="13.5" height="225.7" fill="none" stroke="#222" stroke-width="0.8"/>
<text x="303.8" y="245.9">−10</text>
<text x="303.8" y="223.33">−8</text>
<text x="303.8" y="200.76">−6</text>
<text x="303.8" y="178.19">−4</text>
<text x="303.8" y="155.62">−2</text>
<text x="303.8" y="133.05">0</text>
<text x="303.8" y="110.48">2</text>
<text x="303.8" y="87.91">4</text>
<text x="303.8" y="65.34">6</text>
<text x="303.8" y="42.77">8</text>
<text x="303.8" y="20.2">10</text>
<text transform="translate(333.6 129.65) rotate(-90)" text-anchor="middle">Δ Ne 10<tspan dy="-3.5" font-size="7">10</tspan><tspan dy="3.5"> m</tspan><tspan dy="-3.5" font-size="7">−3</tspan></text>
<clipPath id="clip01"><rect x="373.8" y="16.8" width="253.5" height="225.7"/></clipPath>
<g clip-path="url(#clip01)">
<path d="M384.36 157.77L394.93 155.77L403.54 148.46L404.84 139.05L402 129.65L394.93 122.84L384.36 122.06L373.8 123.97L373.8 129.65L373.8 139.05L373.8 148.46L373.8 156.75ZM627.3 157.54L627.3 148.46L627.3 139.05L627.3 129.65L627.3 128.18L626.48 129.65L622.21 139.05L620.48 148.46Z" fill="#00008f" stroke="#00008f" stroke-width="0.3" fill-rule="evenodd"/>
<path d="M384.36 167.88L394.93 167.27L394.93 167.27L405.49 164.5L413.24 157.86L415.49 148.46L414.9 139.05L413.94 129.65L413.51 120.25L410.98 110.84L405.49 106.32L394.93 107.64L384.36 110.35L373.8 110.84L373.8 110.84L373.8 120.25L373.8 123.97L384.36 122.06L394.93 122.84L402 129.65L404.84 139.05L403.54 148.46L394.93 155.77L384.36 157.77L373.8 156.75L373.8 157.86L373.8 167.27L373.8 167.27ZM627.3 167.82L627.3 167.27L627.3 157.86L627.3 157.54L620.48 148.46L622.21 139.05L626.48 129.65L627.3 128.18L627.3 120.25L627.3 113.69L622.85 120.25L618.26 129.65L616.74 132.73L613.54 139.05L611.16 148.46L613.49 157.86L616.74 162.28L626.07 167.27Z" fill="#0000df" stroke="#0000df" stroke-width="0.3" fill-rule="evenodd"/>
<path d="M384.36 180.94L394.93 179.45L404.47 176.67L405.49 176.42L416.05 172.23L422.8 167.27L425.46 157.86L424.38 148.46L422.88 139.05L422.16 129.65L422.96 120.25L424.1 110.84L423.25 101.44L417.85 92.03L416.05 90.41L405.49 88.85L394.93 91.22L391.9 92.03L384.36 94.31L373.8 93.07L373.8 101.44L373.8 110.84L384.36 110.35L394.93 107.64L405.49 106.32L410.98 110.84L413.51 120.25L413.94 129.65L414.9 139.05L415.49 148.46L413.24 157.86L405.49 164.5L394.93 167.27L394.93 167.27L384.36 167.88L373.8 167.27L373.8 176.67L373.8 179.04ZM627.3 179.39L627.3 176.67L627.3 167.82L626.07 167.27L616.74 162.28L613.49 157.86L611.16 148.46L613.54 139.05L616.74 132.73L618.26 129.65L622.85 120.25L627.3 113.69L627.3 110.84L627.3 101.44L627.3 96.55L622.45 101.44L616.74 109.84L616.3 110.84L612.58 120.25L609.02 129.65L606.17 136.3L605.16 139.05L603.2 148.46L604.19 157.86L606.17 163.03L608.75 167.27L616.74 175.02L620.9 176.67Z" fill="#0040ff" stroke="#0040ff" stroke-width="0.3" fill-rule="evenodd"/>
<path d="M384.36 195.86L385.71 195.48L394.93 193.24L405.49 188.58L410.37 186.07L416.05 183.84L426.61 179.66L431.95 176.67L437.18 167.27L437.18 167.27L437.18 167.27L435.38 157.86L432.46 148.46L430.21 139.05L429.34 129.65L430.24 120.25L431.73 110.84L432.55 101.44L431.96 92.03L428.13 82.63L426.61 80.75L416.05 74.74L405.55 73.22L405.49 73.22L394.93 73.22L394.93 73.23L394.92 73.22L384.36 69.91L374.11 63.82L373.8 63.74L373.8 63.82L373.8 73.22L373.8 82.63L373.8 92.03L373.8 93.07L384.36 94.31L391.9 92.03L394.93 91.22L405.49 88.85L416.05 90.41L417.85 92.03L423.25 101.44L424.1 110.84L422.96 120.25L422.16 129.65L422.88 139.05L424.38 148.46L425.46 157.86L422.8 167.27L416.05 172.23L405.49 176.42L404.47 176.67L394.93 179.45L384.36 180.94L373.8 179.04L373.8 186.07L373.8 195.36L376.07 195.48ZM616.74 192.17L627.3 194.28L627.3 186.07L627.3 179.39L620.9 176.67L616.74 175.02L608.75 167.27L606.17 163.03L604.19 157.86L603.2 148.46L605.16 139.05L606.17 136.3L609.02 129.65L612.58 120.25L616.3 110.84L616.74 109.84L622.45 101.44L627.3 96.55L627.3 92.03L627.3 82.63L627.3 73.22L627.3 63.82L627.3 61.86L616.74 60.25L611.38 63.82L606.17 68.67L603.85 73.22L602.69 82.63L603.22 92.03L603.15 101.44L602.36 110.84L601.19 120.25L599.23 129.65L596.96 139.05L595.76 148.46L596.05 157.86L597.79 167.27L601.58 176.67L606.17 183.73L609.16 186.07Z" fill="#008fff" stroke="#008fff" stroke-width="0.3" fill-rule="evenodd"/>
<path d="M373.8 223.69L384.36 216.36L388.97 214.29L394.93 212.45L405.49 206.92L407.32 204.88L416.05 198.4L418.72 195.48L426.61 191.22L437.18 188.76L443.79 186.07L447.74 182.22L449.88 176.67L448.95 167.27L447.74 164.52L444.8 157.86L440.31 148.46L437.18 139.14L437.15 139.05L435.87 129.65L436.68 120.25L437.18 117.64L438.37 110.84L439.96 101.44L441.27 92.03L441.89 82.63L440.34 73.22L437.18 68.6L430.37 63.82L426.61 61.68L416.05 56.61L405.49 56.3L404.68 54.42L400.21 45.01L398.79 35.61L394.93 32.22L384.36 28.91L373.8 32.12L373.8 35.61L373.8 45.01L373.8 54.42L373.8 63.74L374.11 63.82L384.36 69.91L394.92 73.22L394.93 73.23L394.93 73.22L405.49 73.22L405.55 73.22L416.05 74.74L426.61 80.75L428.13 82.63L431.96 92.03L432.55 101.44L431.73 110.84L430.24 120.25L429.34 129.65L430.21 139.05L432.46 148.46L435.38 157.86L437.18 167.27L437.18 167.27L437.18 167.27L431.95 176.67L426.61 179.66L416.05 183.84L410.37 186.07L405.49 188.58L394.93 193.24L385.71 195.48L384.36 195.86L376.07 195.48L373.8 195.36L373.8 195.48L373.8 204.88L373.8 214.29L373.8 223.69L373.8 223.69ZM627.3 226.8L627.3 223.69L627.3 214.29L627.3 204.88L627.3 195.48L627.3 194.28L616.74 192.17L609.16 186.07L606.17 183.73L601.58 176.67L597.79 167.27L596.05 157.86L595.76 148.46L596.96 139.05L599.23 129.65L601.19 120.25L602.36 110.84L603.15 101.44L603.22 92.03L602.69 82.63L603.85 73.22L606.17 68.67L611.38 63.82L616.74 60.25L627.3 61.86L627.3 54.42L627.3 45.01L627.3 35.61L627.3 31.83L616.74 35.55L616.6 35.61L606.17 43.13L605.3 45.01L600.05 54.42L595.61 63.05L595.38 63.82L592.8 73.22L591.5 82.63L590.9 92.03L590.9 101.44L590.97 110.84L590.57 120.25L589.7 129.65L588.77 139.05L588.11 148.46L587.66 157.86L587.18 167.27L586.49 176.67L586.09 186.07L587.28 195.48L589.73 204.88L594.17 214.29L595.61 216.24L606.17 220.75L616.74 222.12L622.14 223.69Z" fill="#00efff" stroke="#00efff" stroke-width="0.3" fill-rule="evenodd"/>
<path d="M384.36 242.5L394.93 242.5L405.49 242.5L416.05 242.5L426.61 242.5L437.18 242.5L444.22 242.5L437.18 237.8L435.06 233.1L430.84 223.69L428.12 214.29L432.95 204.88L437.18 203.32L447.74 203L450.76 204.88L458.3 210.11L466.75 214.29L468.86 216.17L478.05 223.69L479.43 224.55L480.39 223.69L481.41 214.29L480.47 204.88L479.43 203L468.86 195.48L468.86 195.48L463.98 186.07L461.2 176.67L458.3 167.27L458.3 167.27L453.62 157.86L448.17 148.46L447.74 147.61L444.12 139.05L442.3 129.65L442.74 120.25L444.36 110.84L446.54 101.44L447.74 97.07L449.49 92.03L453.26 82.63L458.3 73.22L458.3 73.22L461.35 63.82L463.08 54.42L464.87 45.01L465.16 35.61L460.15 26.2L458.3 24.82L450.17 16.8L447.74 16.8L437.18 16.8L426.61 16.8L416.05 16.8L405.49 16.8L394.93 16.8L384.36 16.8L373.8 16.8L373.8 26.2L373.8 32.12L384.36 28.91L394.93 32.22L398.79 35.61L400.21 45.01L404.68 54.42L405.49 56.3L416.05 56.61L426.61 61.68L430.37 63.82L437.18 68.6L440.34 73.22L441.89 82.63L441.27 92.03L439.96 101.44L438.37 110.84L437.18 117.64L436.68 120.25L435.87 129.65L437.15 139.05L437.18 139.14L440.31 148.46L444.8 157.86L447.74 164.52L448.95 167.27L449.88 176.67L447.74 182.22L443.79 186.07L437.18 188.76L426.61 191.22L418.72 195.48L416.05 198.4L407.32 204.88L405.49 206.92L394.93 212.45L388.97 214.29L384.36 216.36L373.8 223.69L373.8 223.69L373.8 233.1L373.8 242.5ZM574.49 242.5L585.05 242.5L595.61 242.5L606.17 242.5L616.74 242.5L627.3 242.5L627.3 233.1L627.3 226.8L622.14 223.69L616.74 222.12L606.17 220.75L595.61 216.24L594.17 214.29L589.73 204.88L587.28 195.48L586.09 186.07L586.49 176.67L587.18 167.27L587.66 157.86L588.11 148.46L588.77 139.05L589.7 129.65L590.57 120.25L590.97 110.84L590.9 101.44L590.9 92.03L591.5 82.63L592.8 73.22L595.38 63.82L595.61 63.05L600.05 54.42L605.3 45.01L606.17 43.13L616.6 35.61L616.74 35.55L627.3 31.83L627.3 26.2L627.3 16.8L616.74 16.8L606.17 16.8L595.61 16.8L585.05 16.8L574.49 16.8L567.73 16.8L566.99 26.2L570.11 35.61L574.49 41.85L576.3 45.01L581.11 54.42L582.91 63.82L582.96 73.22L582.43 82.63L582.01 92.03L581.95 101.44L581.88 110.84L581.45 120.25L580.89 129.65L580.5 139.05L579.83 148.46L578.21 157.86L575.27 167.27L574.49 169.41L572.01 176.67L570.09 186.07L570.24 195.48L571.32 204.88L570.93 214.29L569.05 223.69L567.76 233.1L569.67 242.5Z" fill="#40ffbf" stroke="#40ffbf" stroke-width="0.3" fill-rule="evenodd"/>
<path d="M437.18 237.8L444.22 242.5L447.74 242.5L458.3 242.5L468.86 242.5L479.43 242.5L489.99 242.5L500.55 242.5L511.11 242.5L521.67 242.5L532.24 242.5L542.8 242.5L553.36 242.5L563.92 242.5L569.67 242.5L567.76 233.1L569.05 223.69L570.93 214.29L571.32 204.88L570.24 195.48L570.09 186.07L572.01 176.67L574.49 169.41L575.27 167.27L578.21 157.86L579.83 148.46L580.5 139.05L580.89 129.65L581.45 120.25L581.88 110.84L581.95 101.44L582.01 92.03L582.43 82.63L582.96 73.22L582.91 63.82L581.11 54.42L576.3 45.01L574.49 41.85L570.11 35.61L566.99 26.2L567.73 16.8L563.92 16.8L553.36 16.8L542.8 16.8L532.24 16.8L521.67 16.8L511.11 16.8L500.55 16.8L489.99 16.8L479.43 16.8L468.86 16.8L458.3 16.8L450.17 16.8L458.3 24.82L460.15 26.2L465.16 35.61L464.87 45.01L463.08 54.42L461.35 63.82L458.3 73.22L458.3 73.22L453.26 82.63L449.49 92.03L447.74 97.07L446.54 101.44L444.36 110.84L442.74 120.25L442.3 129.65L444.12 139.05L447.74 147.61L448.17 148.46L453.62 157.86L458.3 167.27L458.3 167.27L461.2 176.67L463.98 186.07L468.86 195.48L468.86 195.48L479.43 203L480.47 204.88L481.41 214.29L480.39 223.69L479.43 224.55L478.05 223.69L468.86 216.17L466.75 214.29L458.3 210.11L450.76 204.88L447.74 203L437.18 203.32L432.95 204.88L428.12 214.29L430.84 223.69L435.06 233.1ZM496.88 204.88L489.99 203.55L484.85 195.48L479.43 189.21L476.11 186.07L470.11 176.67L468.86 174.44L465.5 167.27L461.86 157.86L458.3 151.33L456.61 148.46L451.66 139.05L448.93 129.65L449.03 120.25L451.06 110.84L454.03 101.44L457.88 92.03L458.3 91.23L464.21 82.63L468.86 75.87L471.48 73.22L478.53 63.82L479.43 62.47L489.99 54.49L490.24 54.42L500.55 51L511.11 53.21L513.59 54.42L521.67 57.16L532.24 58.72L542.8 58.78L553.36 58.49L563.92 61.71L565.8 63.82L571.56 73.22L573.77 82.63L574.39 92.03L574.36 101.44L573.89 110.84L573.14 120.25L572.51 129.65L572.09 139.05L571.05 148.46L568.41 157.86L564.46 167.27L563.92 168.65L561.62 176.67L559.5 186.07L555.83 195.48L553.36 198.92L542.8 202.82L532.24 203.45L521.67 203.97L511.96 204.88L511.11 205.08L500.55 205.89Z" fill="#9fff60" stroke="#9fff60" stroke-width="0.3" fill-rule="evenodd"/>
<path d="M500.55 205.89L511.11 205.08L511.96 204.88L521.67 203.97L532.24 203.45L542.8 202.82L553.36 198.92L555.83 195.48L559.5 186.07L561.62 176.67L563.92 168.65L564.46 167.27L568.41 157.86L571.05 148.46L572.09 139.05L572.51 129.65L573.14 120.25L573.89 110.84L574.36 101.44L574.39 92.03L573.77 82.63L571.56 73.22L565.8 63.82L563.92 61.71L553.36 58.49L542.8 58.78L532.24 58.72L521.67 57.16L513.59 54.42L511.11 53.21L500.55 51L490.24 54.42L489.99 54.49L479.43 62.47L478.53 63.82L471.48 73.22L468.86 75.87L464.21 82.63L458.3 91.23L457.88 92.03L454.03 101.44L451.06 110.84L449.03 120.25L448.93 129.65L451.66 139.05L456.61 148.46L458.3 151.33L461.86 157.86L465.5 167.27L468.86 174.44L470.11 176.67L476.11 186.07L479.43 189.21L484.85 195.48L489.99 203.55L496.88 204.88ZM499.85 195.48L489.99 190.12L486.64 186.07L479.43 177.68L478.7 176.67L473.09 167.27L469.83 157.86L468.86 155.22L466.2 148.46L460.45 139.05L458.3 134.54L456.74 129.65L456.69 120.25L458.3 112.65L459.25 110.84L464.86 101.44L468.86 93.03L469.65 92.03L479.08 82.63L479.43 82.27L489.99 81.68L491.81 82.63L500.55 88.6L504.07 92.03L511.11 95.1L518.15 92.03L521.67 88.08L532.24 84.94L538.29 82.63L542.8 81.44L553.36 79.44L558.72 82.63L563.92 88.02L564.88 92.03L565.3 101.44L564.83 110.84L564.3 120.25L563.92 129.65L563.92 129.65L563.5 139.05L562.23 148.46L559.45 157.86L556.16 167.27L553.68 176.67L553.36 177.74L550.14 186.07L542.8 192.75L532.24 194.58L521.67 194.94L516.35 195.48L511.11 196.06L500.55 195.77Z" fill="#efff10" stroke="#efff10" stroke-width="0.3" fill-rule="evenodd"/>
<path d="M500.55 195.77L511.11 196.06L516.35 195.48L521.67 194.94L532.24 194.58L542.8 192.75L550.14 186.07L553.36 177.74L553.68 176.67L556.16 167.27L559.45 157.86L562.23 148.46L563.5 139.05L563.92 129.65L563.92 129.65L564.3 120.25L564.83 110.84L565.3 101.44L564.88 92.03L563.92 88.02L558.72 82.63L553.36 79.44L542.8 81.44L538.29 82.63L532.24 84.94L521.67 88.08L518.15 92.03L511.11 95.1L504.07 92.03L500.55 88.6L491.81 82.63L489.99 81.68L479.43 82.27L479.08 82.63L469.65 92.03L468.86 93.03L464.86 101.44L459.25 110.84L458.3 112.65L456.69 120.25L456.74 129.65L458.3 134.54L460.45 139.05L466.2 148.46L468.86 155.22L469.83 157.86L473.09 167.27L478.7 176.67L479.43 177.68L486.64 186.07L489.99 190.12L499.85 195.48ZM499.82 186.07L489.99 177.27L489.49 176.67L482.23 167.27L479.43 159.67L478.99 157.86L478.15 148.46L474.27 139.05L469.16 129.65L479.43 121.03L489.99 120.27L490.18 120.25L500.55 118.71L511.11 116.32L521.67 115L532.24 114L542.8 114.67L548.71 120.25L553.07 129.65L553.36 131.03L554.29 139.05L553.75 148.46L553.36 149.85L550.73 157.86L547.36 167.27L544.82 176.67L542.8 180.72L533.92 186.07L532.24 186.53L521.67 186.88L511.11 187.73L500.55 186.54Z" fill="#ffaf00" stroke="#ffaf00" stroke-width="0.3" fill-rule="evenodd"/>
<path d="M500.55 186.54L511.11 187.73L521.67 186.88L532.24 186.53L533.92 186.07L542.8 180.72L544.82 176.67L547.36 167.27L550.73 157.86L553.36 149.85L553.75 148.46L554.29 139.05L553.36 131.03L553.07 129.65L548.71 120.25L542.8 114.67L532.24 114L521.67 115L511.11 116.32L500.55 118.71L490.18 120.25L489.99 120.27L479.43 121.03L469.16 129.65L474.27 139.05L478.15 148.46L478.99 157.86L479.43 159.67L482.23 167.27L489.49 176.67L489.99 177.27L499.82 186.07ZM505.54 167.27L500.55 160.87L499.05 157.86L500.55 148.46L500.55 148.46L511.11 142.83L517.92 139.05L521.67 137.28L532.24 134.81L538.94 139.05L542.8 148.46L538.5 157.86L533.63 167.27L532.24 169.42L521.67 172.49L511.11 171.13Z" fill="#ff6000" stroke="#ff6000" stroke-width="0.3" fill-rule="evenodd"/>
<path d="M511.11 171.13L521.67 172.49L532.24 169.42L533.63 167.27L538.5 157.86L542.8 148.46L538.94 139.05L532.24 134.81L521.67 137.28L517.92 139.05L511.11 142.83L500.55 148.46L500.55 148.46L499.05 157.86L500.55 160.87L505.54 167.27Z" fill="#ff0000" stroke="#ff0000" stroke-width="0.3" fill-rule="evenodd"/>
<path d="M627.3 157.54L620.48 148.46L622.21 139.05L626.48 129.65L627.3 128.18M373.8 123.97L384.36 122.06L394.93 122.84L402 129.65L404.84 139.05L403.54 148.46L394.93 155.77L384.36 157.77L373.8 156.75" fill="none" stroke="#111" stroke-width="0.8" stroke-linejoin="round"/>
<path d="M627.3 167.82L626.07 167.27L616.74 162.28L613.49 157.86L611.16 148.46L613.54 139.05L616.74 132.73L618.26 129.65L622.85 120.25L627.3 113.69M373.8 110.84L384.36 110.35L394.93 107.64L405.49 106.32L410.98 110.84L413.51 120.25L413.94 129.65L414.9 139.05L415.49 148.46L413.24 157.86L405.49 164.5L394.93 167.27L394.93 167.27L384.36 167.88L373.8 167.27" fill="none" stroke="#111" stroke-width="0.8" stroke-linejoin="round"/>
<path d="M627.3 179.39L620.9 176.67L616.74 175.02L608.75 167.27L606.17 163.03L604.19 157.86L603.2 148.46L605.16 139.05L606.17 136.3L609.02 129.65L612.58 120.25L616.3 110.84L616.74 109.84L622.45 101.44L627.3 96.55M373.8 93.07L384.36 94.31L391.9 92.03L394.93 91.22L405.49 88.85L416.05 90.41L417.85 92.03L423.25 101.44L424.1 110.84L422.96 120.25L422.16 129.65L422.88 139.05L424.38 148.46L425.46 157.86L422.8 167.27L416.05 172.23L405.49 176.42L404.47 176.67L394.93 179.45L384.36 180.94L373.8 179.04" fill="none" stroke="#111" stroke-width="0.8" stroke-linejoin="round"/>
<path d="M627.3 194.28L616.74 192.17L609.16 186.07L606.17 183.73L601.58 176.67L597.79 167.27L596.05 157.86L595.76 148.46L596.96 139.05L599.23 129.65L601.19 120.25L602.36 110.84L603.15 101.44L603.22 92.03L602.69 82.63L603.85 73.22L606.17 68.67L611.38 63.82L616.74 60.25L627.3 61.86M373.8 63.74L374.11 63.82L384.36 69.91L394.92 73.22L394.93 73.23L394.93 73.22L405.49 73.22L405.55 73.22L416.05 74.74L426.61 80.75L428.13 82.63L431.96 92.03L432.55 101.44L431.73 110.84L430.24 120.25L429.34 129.65L430.21 139.05L432.46 148.46L435.38 157.86L437.18 167.27L437.18 167.27L437.18 167.27L431.95 176.67L426.61 179.66L416.05 183.84L410.37 186.07L405.49 188.58L394.93 193.24L385.71 195.48L384.36 195.86L376.07 195.48L373.8 195.36" fill="none" stroke="#111" stroke-width="0.8" stroke-linejoin="round"/>
<path d="M627.3 226.8L622.14 223.69L616.74 222.12L606.17 220.75L595.61 216.24L594.17 214.29L589.73 204.88L587.28 195.48L586.09 186.07L586.49 176.67L587.18 167.27L587.66 157.86L588.11 148.46L588.77 139.05L589.7 129.65L590.57 120.25L590.97 110.84L590.9 101.44L590.9 92.03L591.5 82.63L592.8 73.22L595.38 63.82L595.61 63.05L600.05 54.42L605.3 45.01L606.17 43.13L616.6 35.61L616.74 35.55L627.3 31.83M373.8 32.12L384.36 28.91L394.93 32.22L398.79 35.61L400.21 45.01L404.68 54.42L405.49 56.3L416.05 56.61L426.61 61.68L430.37 63.82L437.18 68.6L440.34 73.22L441.89 82.63L441.27 92.03L439.96 101.44L438.37 110.84L437.18 117.64L436.68 120.25L435.87 129.65L437.15 139.05L437.18 139.14L440.31 148.46L444.8 157.86L447.74 164.52L448.95 167.27L449.88 176.67L447.74 182.22L443.79 186.07L437.18 188.76L426.61 191.22L418.72 195.48L416.05 198.4L407.32 204.88L405.49 206.92L394.93 212.45L388.97 214.29L384.36 216.36L373.8 223.69L373.8 223.69" fill="none" stroke="#111" stroke-width="0.8" stroke-linejoin="round"/>
<path d="M569.67 242.5L567.76 233.1L569.05 223.69L570.93 214.29L571.32 204.88L570.24 195.48L570.09 186.07L572.01 176.67L574.49 169.41L575.27 167.27L578.21 157.86L579.83 148.46L580.5 139.05L580.89 129.65L581.45 120.25L581.88 110.84L581.95 101.44L582.01 92.03L582.43 82.63L582.96 73.22L582.91 63.82L581.11 54.42L576.3 45.01L574.49 41.85L570.11 35.61L566.99 26.2L567.73 16.8M450.17 16.8L458.3 24.82L460.15 26.2L465.16 35.61L464.87 45.01L463.08 54.42L461.35 63.82L458.3 73.22L458.3 73.22L453.26 82.63L449.49 92.03L447.74 97.07L446.54 101.44L444.36 110.84L442.74 120.25L442.3 129.65L444.12 139.05L447.74 147.61L448.17 148.46L453.62 157.86L458.3 167.27L458.3 167.27L461.2 176.67L463.98 186.07L468.86 195.48L468.86 195.48L479.43 203L480.47 204.88L481.41 214.29L480.39 223.69L479.43 224.55L478.05 223.69L468.86 216.17L466.75 214.29L458.3 210.11L450.76 204.88L447.74 203L437.18 203.32L432.95 204.88L428.12 214.29L430.84 223.69L435.06 233.1L437.18 237.8L444.22 242.5" fill="none" stroke="#111" stroke-width="0.8" stroke-linejoin="round"/>
<path d="M500.55 205.89L511.11 205.08L511.96 204.88L521.67 203.97L532.24 203.45L542.8 202.82L553.36 198.92L555.83 195.48L559.5 186.07L561.62 176.67L563.92 168.65L564.46 167.27L568.41 157.86L571.05 148.46L572.09 139.05L572.51 129.65L573.14 120.25L573.89 110.84L574.36 101.44L574.39 92.03L573.77 82.63L571.56 73.22L565.8 63.82L563.92 61.71L553.36 58.49L542.8 58.78L532.24 58.72L521.67 57.16L513.59 54.42L511.11 53.21L500.55 51L490.24 54.42L489.99 54.49L479.43 62.47L478.53 63.82L471.48 73.22L468.86 75.87L464.21 82.63L458.3 91.23L457.88 92.03L454.03 101.44L451.06 110.84L449.03 120.25L448.93 129.65L451.66 139.05L456.61 148.46L458.3 151.33L461.86 157.86L465.5 167.27L468.86 174.44L470.11 176.67L476.11 186.07L479.43 189.21L484.85 195.48L489.99 203.55L496.88 204.88Z" fill="none" stroke="#111" stroke-width="0.8" stroke-linejoin="round"/>
<path d="M500.55 195.77L511.11 196.06L516.35 195.48L521.67 194.94L532.24 194.58L542.8 192.75L550.14 186.07L553.36 177.74L553.68 176.67L556.16 167.27L559.45 157.86L562.23 148.46L563.5 139.05L563.92 129.65L563.92 129.65L564.3 120.25L564.83 110.84L565.3 101.44L564.88 92.03L563.92 88.02L558.72 82.63L553.36 79.44L542.8 81.44L538.29 82.63L532.24 84.94L521.67 88.08L518.15 92.03L511.11 95.1L504.07 92.03L500.55 88.6L491.81 82.63L489.99 81.68L479.43 82.27L479.08 82.63L469.65 92.03L468.86 93.03L464.86 101.44L459.25 110.84L458.3 112.65L456.69 120.25L456.74 129.65L458.3 134.54L460.45 139.05L466.2 148.46L468.86 155.22L469.83 157.86L473.09 167.27L478.7 176.67L479.43 177.68L486.64 186.07L489.99 190.12L499.85 195.48Z" fill="none" stroke="#111" stroke-width="0.8" stroke-linejoin="round"/>
<path d="M500.55 186.54L511.11 187.73L521.67 186.88L532.24 186.53L533.92 186.07L542.8 180.72L544.82 176.67L547.36 167.27L550.73 157.86L553.36 149.85L553.75 148.46L554.29 139.05L553.36 131.03L553.07 129.65L548.71 120.25L542.8 114.67L532.24 114L521.67 115L511.11 116.32L500.55 118.71L490.18 120.25L489.99 120.27L479.43 121.03L469.16 129.65L474.27 139.05L478.15 148.46L478.99 157.86L479.43 159.67L482.23 167.27L489.49 176.67L489.99 177.27L499.82 186.07Z" fill="none" stroke="#111" stroke-width="0.8" stroke-linejoin="round"/>
<path d="M511.11 171.13L521.67 172.49L532.24 169.42L533.63 167.27L538.5 157.86L542.8 148.46L538.94 139.05L532.24 134.81L521.67 137.28L517.92 139.05L511.11 142.83L500.55 148.46L500.55 148.46L499.05 157.86L500.55 160.87L505.54 167.27Z" fill="none" stroke="#111" stroke-width="0.8" stroke-linejoin="round"/>
</g>
<path d="M373.8 242.5v-2.6M373.8 16.8v2.6M394.93 242.5v-2.6M394.93 16.8v2.6M416.05 242.5v-2.6M416.05 16.8v2.6M437.18 242.5v-2.6M437.18 16.8v2.6M458.3 242.5v-2.6M458.3 16.8v2.6M479.43 242.5v-2.6M479.43 16.8v2.6M500.55 242.5v-2.6M500.55 16.8v2.6M521.67 242.5v-2.6M521.67 16.8v2.6M542.8 242.5v-2.6M542.8 16.8v2.6M563.92 242.5v-2.6M563.92 16.8v2.6M585.05 242.5v-2.6M585.05 16.8v2.6M606.17 242.5v-2.6M606.17 16.8v2.6M627.3 242.5v-2.6M627.3 16.8v2.6M373.8 16.8h2.6M627.3 16.8h-2.6M373.8 35.61h2.6M627.3 35.61h-2.6M373.8 54.42h2.6M627.3 54.42h-2.6M373.8 73.22h2.6M627.3 73.22h-2.6M373.8 92.03h2.6M627.3 92.03h-2.6M373.8 110.84h2.6M627.3 110.84h-2.6M373.8 129.65h2.6M627.3 129.65h-2.6M373.8 148.46h2.6M627.3 148.46h-2.6M373.8 167.27h2.6M627.3 167.27h-2.6M373.8 186.07h2.6M627.3 186.07h-2.6M373.8 204.88h2.6M627.3 204.88h-2.6M373.8 223.69h2.6M627.3 223.69h-2.6M373.8 242.5h2.6M627.3 242.5h-2.6" stroke="#222" stroke-width="0.6" fill="none"/>
<rect x="373.8" y="16.8" width="253.5" height="225.7" fill="none" stroke="#222" stroke-width="0.8"/>
<text x="371" y="253.5" text-anchor="middle">−180</text>
<text x="392.12" y="253.5" text-anchor="middle">−150</text>
<text x="413.25" y="253.5" text-anchor="middle">−120</text>
<text x="434.38" y="253.5" text-anchor="middle">−90</text>
<text x="455.5" y="253.5" text-anchor="middle">−60</text>
<text x="476.62" y="253.5" text-anchor="middle">−30</text>
<text x="500.55" y="253.5" text-anchor="middle">0</text>
<text x="521.67" y="253.5" text-anchor="middle">30</text>
<text x="542.8" y="253.5" text-anchor="middle">60</text>
<text x="563.92" y="253.5" text-anchor="middle">90</text>
<text x="585.05" y="253.5" text-anchor="middle">120</text>
<text x="606.17" y="253.5" text-anchor="middle">150</text>
<text x="627.3" y="253.5" text-anchor="middle">180</text>
<text x="371.6" y="245.9" text-anchor="end">0</text>
<text x="371.6" y="227.09" text-anchor="end">2</text>
<text x="371.6" y="208.28" text-anchor="end">4</text>
<text x="371.6" y="189.47" text-anchor="end">6</text>
<text x="371.6" y="170.67" text-anchor="end">8</text>
<text x="371.6" y="151.86" text-anchor="end">10</text>
<text x="371.6" y="133.05" text-anchor="end">12</text>
<text x="371.6" y="114.24" text-anchor="end">14</text>
<text x="371.6" y="95.43" text-anchor="end">16</text>
<text x="371.6" y="76.63" text-anchor="end">18</text>
<text x="371.6" y="57.82" text-anchor="end">20</text>
<text x="371.6" y="39.01" text-anchor="end">22</text>
<text x="371.6" y="20.2" text-anchor="end">24</text>
<text x="500.55" y="263.1" text-anchor="middle">Geographic longitude [°]</text>
<text transform="translate(356.2 129.65) rotate(-90)" text-anchor="middle">Magnetic local Time [h]</text>
<text x="366.8" y="8.8">Migrating tides zonal wind Southern Hemi[−40°~−60°] 400km</text>
<linearGradient id="cb01" x1="0" y1="0" x2="0" y2="1"><stop offset="0.0000%" stop-color="#800000"/><stop offset="1.5625%" stop-color="#800000"/><stop offset="1.5625%" stop-color="#8f0000"/><stop offset="3.1250%" stop-color="#8f0000"/><stop offset="3.1250%" stop-color="#9f0000"/><stop offset="4.6875%" stop-color="#9f0000"/><stop offset="4.6875%" stop-color="#af0000"/><stop offset="6.2500%" stop-color="#af0000"/><stop offset="6.2500%" stop-color="#bf0000"/><stop offset="7.8125%" stop-color="#bf0000"/><stop offset="7.8125%" stop-color="#cf0000"/><stop offset="9.3750%" stop-color="#cf0000"/><stop offset="9.3750%" stop-color="#df0000"/><stop offset="10.9375%" stop-color="#df0000"/><stop offset="10.9375%" stop-color="#ef0000"/><stop offset="12.5000%" stop-color="#ef0000"/><stop offset="12.5000%" stop-color="#ff0000"/><stop offset="14.0625%" stop-color="#ff0000"/><stop offset="14.0625%" stop-color="#ff1000"/><stop offset="15.6250%" stop-color="#ff1000"/><stop offset="15.6250%" stop-color="#ff2000"/><stop offset="17.1875%" stop-color="#ff2000"/><stop offset="17.1875%" stop-color="#ff3000"/><stop offset="18.7500%" stop-color="#ff3000"/><stop offset="18.7500%" stop-color="#ff4000"/><stop offset="20.3125%" stop-color="#ff4000"/><stop offset="20.3125%" stop-color="#ff5000"/><stop offset="21.8750%" stop-color="#ff5000"/><stop offset="21.8750%" stop-color="#ff6000"/><stop offset="23.4375%" stop-color="#ff6000"/><stop offset="23.4375%" stop-color="#ff7000"/><stop offset="25.0000%" stop-color="#ff7000"/><stop offset="25.0000%" stop-color="#ff8000"/><stop offset="26.5625%" stop-color="#ff8000"/><stop offset="26.5625%" stop-color="#ff8f00"/><stop offset="28.1250%" stop-color="#ff8f00"/><stop offset="28.1250%" stop-color="#ff9f00"/><stop offset="29.6875%" stop-color="#ff9f00"/><stop offset="29.6875%" stop-color="#ffaf00"/><stop offset="31.2500%" stop-color="#ffaf00"/><stop offset="31.2500%" stop-color="#ffbf00"/><stop offset="32.8125%" stop-color="#ffbf00"/><stop offset="32.8125%" stop-color="#ffcf00"/><stop offset="34.3750%" stop-color="#ffcf00"/><stop offset="34.3750%" stop-color="#ffdf00"/><stop offset="35.9375%" stop-color="#ffdf00"/><stop offset="35.9375%" stop-color="#ffef00"/><stop offset="37.5000%" stop-color="#ffef00"/><stop offset="37.5000%" stop-color="#ffff00"/><stop offset="39.0625%" stop-color="#ffff00"/><stop offset="39.0625%" stop-color="#efff10"/><stop offset="40.6250%" stop-color="#efff10"/><stop offset="40.6250%" stop-color="#dfff20"/><stop offset="42.1875%" stop-color="#dfff20"/><stop offset="42.1875%" stop-color="#cfff30"/><stop offset="43.7500%" stop-color="#cfff30"/><stop offset="43.7500%" stop-color="#bfff40"/><stop offset="45.3125%" stop-color="#bfff40"/><stop offset="45.3125%" stop-color="#afff50"/><stop offset="46.8750%" stop-color="#afff50"/><stop offset="46.8750%" stop-color="#9fff60"/><stop offset="48.4375%" stop-color="#9fff60"/><stop offset="48.4375%" stop-color="#8fff70"/><stop offset="50.0000%" stop-color="#8fff70"/><stop offset="50.0000%" stop-color="#80ff80"/><stop offset="51.5625%" stop-color="#80ff80"/><stop offset="51.5625%" stop-color="#70ff8f"/><stop offset="53.1250%" stop-color="#70ff8f"/><stop offset="53.1250%" stop-color="#60ff9f"/><stop offset="54.6875%" stop-color="#60ff9f"/><stop offset="54.6875%" stop-color="#50ffaf"/><stop offset="56.2500%" stop-color="#50ffaf"/><stop offset="56.2500%" stop-color="#40ffbf"/><stop offset="57.8125%" stop-color="#40ffbf"/><stop offset="57.8125%" stop-color="#30ffcf"/><stop offset="59.3750%" stop-color="#30ffcf"/><stop offset="59.3750%" stop-color="#20ffdf"/><stop offset="60.9375%" stop-color="#20ffdf"/><stop offset="60.9375%" stop-color="#10ffef"/><stop offset="62.5000%" stop-color="#10ffef"/><stop offset="62.5000%" stop-color="#00ffff"/><stop offset="64.0625%" stop-color="#00ffff"/><stop offset="64.0625%" stop-color="#00efff"/><stop offset="65.6250%" stop-color="#00efff"/><stop offset="65.6250%" stop-color="#00dfff"/><stop offset="67.1875%" stop-color="#00dfff"/><stop offset="67.1875%" stop-color="#00cfff"/><stop offset="68.7500%" stop-color="#00cfff"/><stop offset="68.7500%" stop-color="#00bfff"/><stop offset="70.3125%" stop-color="#00bfff"/><stop offset="70.3125%" stop-color="#00afff"/><stop offset="71.8750%" stop-color="#00afff"/><stop offset="71.8750%" stop-color="#009fff"/><stop offset="73.4375%" stop-color="#009fff"/><stop offset="73.4375%" stop-color="#008fff"/><stop offset="75.0000%" stop-color="#008fff"/><stop offset="75.0000%" stop-color="#0080ff"/><stop offset="76.5625%" stop-color="#0080ff"/><stop offset="76.5625%" stop-color="#0070ff"/><stop offset="78.1250%" stop-color="#0070ff"/><stop offset="78.1250%" stop-color="#0060ff"/><stop offset="79.6875%" stop-color="#0060ff"/><stop offset="79.6875%" stop-color="#0050ff"/><stop offset="81.2500%" stop-color="#0050ff"/><stop offset="81.2500%" stop-color="#0040ff"/><stop offset="82.8125%" stop-color="#0040ff"/><stop offset="82.8125%" stop-color="#0030ff"/><stop offset="84.3750%" stop-color="#0030ff"/><stop offset="84.3750%" stop-color="#0020ff"/><stop offset="85.9375%" stop-color="#0020ff"/><stop offset="85.9375%" stop-color="#0010ff"/><stop offset="87.5000%" stop-color="#0010ff"/><stop offset="87.5000%" stop-color="#0000ff"/><stop offset="89.0625%" stop-color="#0000ff"/><stop offset="89.0625%" stop-color="#0000ef"/><stop offset="90.6250%" stop-color="#0000ef"/><stop offset="90.6250%" stop-color="#0000df"/><stop offset="92.1875%" stop-color="#0000df"/><stop offset="92.1875%" stop-color="#0000cf"/><stop offset="93.7500%" stop-color="#0000cf"/><stop offset="93.7500%" stop-color="#0000bf"/><stop offset="95.3125%" stop-color="#0000bf"/><stop offset="95.3125%" stop-color="#0000af"/><stop offset="96.8750%" stop-color="#0000af"/><stop offset="96.8750%" stop-color="#00009f"/><stop offset="98.4375%" stop-color="#00009f"/><stop offset="98.4375%" stop-color="#00008f"/><stop offset="100.0000%" stop-color="#00008f"/></linearGradient>
<rect x="636.9" y="16.8" width="13.5" height="225.7" fill="url(#cb01)"/>
<path d="M636.9 242.5h2M650.4 242.5h-2M636.9 219.93h2M650.4 219.93h-2M636.9 197.36h2M650.4 197.36h-2M636.9 174.79h2M650.4 174.79h-2M636.9 152.22h2M650.4 152.22h-2M636.9 129.65h2M650.4 129.65h-2M636.9 107.08h2M650.4 107.08h-2M636.9 84.51h2M650.4 84.51h-2M636.9 61.94h2M650.4 61.94h-2M636.9 39.37h2M650.4 39.37h-2M636.9 16.8h2M650.4 16.8h-2" stroke="#222" stroke-width="0.6" fill="none"/>
<rect x="636.9" y="16.8" width="13.5" height="225.7" fill="none" stroke="#222" stroke-width="0.8"/>
<text x="651.6" y="245.9">−10</text>
<text x="651.6" y="223.33">−8</text>
<text x="651.6" y="200.76">−6</text>
<text x="651.6" y="178.19">−4</text>
<text x="651.6" y="155.62">−2</text>
<text x="651.6" y="133.05">0</text>
<text x="651.6" y="110.48">2</text>
<text x="651.6" y="87.91">4</text>
<text x="651.6" y="65.34">6</text>
<text x="651.6" y="42.77">8</text>
<text x="651.6" y="20.2">10</text>
<text transform="translate(681.4 129.65) rotate(-90)" text-anchor="middle">Δ Ne 10<tspan dy="-3.5" font-size="7">10</tspan><tspan dy="3.5"> m</tspan><tspan dy="-3.5" font-size="7">−3</tspan></text>
<clipPath id="clip10"><rect x="26" y="292" width="253.5" height="225.7"/></clipPath>
<g clip-path="url(#clip10)">
<path d="M205.56 418.69L216.12 419.01L220.98 414.25L225.75 404.85L226.69 403.78L236.54 395.45L237.25 394.47L247.81 391.94L256.17 386.04L247.81 382.91L237.25 381.71L226.69 379L223.44 376.64L216.12 372.44L205.56 371.93L196.42 376.64L195 377.82L188.37 386.04L186.33 395.45L187.35 404.85L195 412.59L197.81 414.25ZM36.56 393.07L47.12 394.34L57.69 395.41L66.3 386.04L68.25 382.68L71.08 376.64L71.79 367.23L71.58 357.83L68.25 351.77L57.69 349.2L47.44 357.83L47.12 358.17L39.56 367.23L36.56 370.98L33.29 376.64L26 383.76L26 386.04L26 388.42Z" fill="#008fff" stroke="#008fff" stroke-width="0.3" fill-rule="evenodd"/>
<path d="M27.86 508.3L27.65 498.89L26 495.64L26 498.89L26 508.3L26 510.89ZM184.44 517.7L195 517.7L205.56 517.7L216.12 517.7L226.69 517.7L227.8 517.7L226.69 508.3L227.69 498.89L228.96 489.49L228.66 480.08L226.69 474.03L225.37 470.68L216.12 461.27L205.56 462.83L200.2 470.68L195 480.08L195 480.08L190.71 489.49L185.9 498.89L184.44 502.35L182.25 508.3L183.11 517.7ZM279.5 510.22L279.5 508.3L279.5 498.89L279.5 489.49L279.5 488.48L275.75 489.49L269.49 498.89L275.26 508.3ZM173.88 444.54L184.44 447.72L195 445.56L197.55 442.47L205.56 437.88L215.48 433.06L216.12 432.79L226.69 427.29L232.24 423.66L237.25 415.22L247.81 414.79L258.38 415.5L268.71 423.66L268.18 433.06L268.94 436.45L279.5 442.47L279.5 442.47L279.5 442.47L279.5 433.06L279.5 423.66L279.5 414.25L279.5 404.85L279.5 395.45L279.5 386.04L279.5 376.64L279.5 367.23L279.5 366.53L277.91 367.23L268.94 370.37L258.38 371.76L247.81 370.13L237.25 367.23L237.25 367.23L226.69 365.76L216.12 363.35L205.56 362.91L195 364.68L191.71 367.23L184.44 372.78L180.48 376.64L173.88 385.08L173.51 386.04L171.26 395.45L170.46 404.85L163.31 414.03L163.23 414.25L162.1 423.66L161.77 433.06L163.31 436.07L170.95 442.47ZM197.81 414.25L195 412.59L187.35 404.85L186.33 395.45L188.37 386.04L195 377.82L196.42 376.64L205.56 371.93L216.12 372.44L223.44 376.64L226.69 379L237.25 381.71L247.81 382.91L256.17 386.04L247.81 391.94L237.25 394.47L236.54 395.45L226.69 403.78L225.75 404.85L220.98 414.25L216.12 419.01L205.56 418.69ZM26.55 433.06L36.56 423.88L37.46 423.66L47.12 420.62L52.57 423.66L57.07 433.06L57.69 433.39L58.77 433.06L68.25 424.92L68.46 423.66L68.47 414.25L68.68 404.85L70.13 395.45L71.24 386.04L78.81 376.95L78.98 376.64L79.3 367.23L79.55 357.83L79.91 348.43L79.69 339.02L78.81 337.83L68.25 331.53L57.69 332.54L47.12 337.46L44.96 339.02L36.56 345.85L32.11 348.43L26 355.98L26 357.83L26 367.23L26 376.64L26 383.76L33.29 376.64L36.56 370.98L39.56 367.23L47.12 358.17L47.44 357.83L57.69 349.2L68.25 351.77L71.58 357.83L71.79 367.23L71.08 376.64L68.25 382.68L66.3 386.04L57.69 395.41L47.12 394.34L36.56 393.07L26 388.42L26 395.45L26 404.85L26 414.25L26 423.66L26 433.06L26 433.98ZM195 304.88L205.56 306.74L216.12 304.91L220.83 301.4L222.9 292L216.12 292L205.56 292L195 292L184.44 292L179.28 292L184.44 300.51L185.99 301.4Z" fill="#00ffff" stroke="#00ffff" stroke-width="0.3" fill-rule="evenodd"/>
<path d="M36.56 517.7L47.12 517.7L49.02 517.7L47.66 508.3L48.97 498.89L50.04 489.49L47.12 480.08L47.12 480.08L36.56 472.73L29.54 470.68L26 466.75L26 470.68L26 480.08L26 489.49L26 495.64L27.65 498.89L27.86 508.3L26 510.89L26 517.7ZM163.31 510.52L164.67 517.7L173.88 517.7L183.11 517.7L182.25 508.3L184.44 502.35L185.9 498.89L190.71 489.49L195 480.08L195 480.08L200.2 470.68L205.56 462.83L216.12 461.27L225.37 470.68L226.69 474.03L228.66 480.08L228.96 489.49L227.69 498.89L226.69 508.3L227.8 517.7L237.25 517.7L247.81 517.7L258.38 517.7L268.94 517.7L279.5 517.7L279.5 510.22L275.26 508.3L269.49 498.89L275.75 489.49L279.5 488.48L279.5 480.08L279.5 473.03L268.94 473.37L262.73 470.68L258.38 463.36L247.81 463.44L244.11 461.27L237.25 460.33L226.69 456.24L221.11 451.87L219.52 442.47L226.69 437.07L232.06 433.06L237.25 429.36L244.81 433.06L247.81 435.35L253.4 442.47L255.2 451.87L258.38 459.44L268.94 457.06L279.5 455.91L279.5 451.87L279.5 442.47L279.5 442.47L268.94 436.45L268.18 433.06L268.71 423.66L258.38 415.5L247.81 414.79L237.25 415.22L232.24 423.66L226.69 427.29L216.12 432.79L215.48 433.06L205.56 437.88L197.55 442.47L195 445.56L184.44 447.72L173.88 444.54L170.95 442.47L163.31 436.07L161.77 433.06L162.1 423.66L163.23 414.25L163.31 414.03L170.46 404.85L171.26 395.45L173.51 386.04L173.88 385.08L180.48 376.64L184.44 372.78L191.71 367.23L195 364.68L205.56 362.91L216.12 363.35L226.69 365.76L237.25 367.23L237.25 367.23L247.81 370.13L258.38 371.76L268.94 370.37L277.91 367.23L279.5 366.53L279.5 357.83L279.5 350.3L268.94 356.43L258.38 357.41L247.81 355.98L237.25 353.42L226.69 351.45L216.12 350.7L205.56 350.95L195 351.95L184.63 357.83L184.44 357.95L177.12 367.23L173.88 370.56L171.11 376.64L168.47 386.04L163.31 394.05L162.37 395.45L161.86 404.85L158.82 414.25L152.75 421.15L150.8 423.66L149.57 433.06L144.13 442.47L146.09 451.87L152.75 457.4L156.73 461.27L163.31 466.95L168.9 470.68L173.87 480.08L169.41 489.49L164.79 498.89L163.31 505.85L162.82 508.3ZM89.38 472.34L91.4 470.68L89.38 468.8L87.16 470.68ZM36.56 454.92L47.12 453.09L57.69 452.4L60.29 451.87L68.25 450.57L76.15 442.47L77.57 433.06L77.98 423.66L73.27 414.25L73.21 404.85L73.92 395.45L74.94 386.04L78.81 381.38L81.33 376.64L82.9 367.23L83.93 357.83L89.38 348.43L89.38 348.42L99.94 339.4L103.46 339.02L110.5 336.67L121.06 336.96L131.62 337.14L136.91 339.02L142.19 339.97L152.75 342.78L163.31 346.15L173.88 344.84L183.79 339.02L184.44 338.69L195 332.65L198.76 329.62L205.56 325.88L216.12 321.64L220.62 320.21L226.69 318.3L237.25 312.27L241.11 310.81L247.81 308.59L258.38 308.76L268.94 308.22L277.68 301.4L279.5 298.99L279.5 292L268.94 292L258.38 292L247.81 292L237.25 292L226.69 292L222.9 292L220.83 301.4L216.12 304.91L205.56 306.74L195 304.88L185.99 301.4L184.44 300.51L179.28 292L173.88 292L163.31 292L155.35 292L152.75 298.58L151.14 301.4L142.19 307.62L136.38 310.81L131.62 312.7L121.06 316.49L110.5 319.22L106.82 320.21L99.94 324.33L89.38 325L78.81 321.98L72.17 320.21L68.25 319.19L57.69 318.57L49.29 320.21L47.12 320.72L37.52 329.62L36.56 330.32L26 336.67L26 339.02L26 348.43L26 355.98L32.11 348.43L36.56 345.85L44.96 339.02L47.12 337.46L57.69 332.54L68.25 331.53L78.81 337.83L79.69 339.02L79.91 348.43L79.55 357.83L79.3 367.23L78.98 376.64L78.81 376.95L71.24 386.04L70.13 395.45L68.68 404.85L68.47 414.25L68.46 423.66L68.25 424.92L58.77 433.06L57.69 433.39L57.07 433.06L52.57 423.66L47.12 420.62L37.46 423.66L36.56 423.88L26.55 433.06L26 433.98L26 442.47L26 451.87L26 459.89ZM32.04 292L26 292L26 301.3Z" fill="#40ffbf" stroke="#40ffbf" stroke-width="0.3" fill-rule="evenodd"/>
<path d="M57.69 517.7L68.25 517.7L69.89 517.7L78.03 508.3L78.81 506.91L82.56 498.89L89.38 490.32L90.18 489.49L99.94 482.62L105.91 480.08L110.5 477.53L121.06 473.47L131.62 473.29L140.39 480.08L142.19 486.12L142.92 489.49L142.19 495.05L141.71 498.89L138.82 508.3L133.23 517.7L142.19 517.7L152.75 517.7L163.31 517.7L164.67 517.7L163.31 510.52L162.82 508.3L163.31 505.85L164.79 498.89L169.41 489.49L173.87 480.08L168.9 470.68L163.31 466.95L156.73 461.27L152.75 457.4L146.09 451.87L144.13 442.47L149.57 433.06L150.8 423.66L152.75 421.15L158.82 414.25L161.86 404.85L162.37 395.45L163.31 394.05L168.47 386.04L171.11 376.64L173.88 370.56L177.12 367.23L184.44 357.95L184.63 357.83L195 351.95L205.56 350.95L216.12 350.7L226.69 351.45L237.25 353.42L247.81 355.98L258.38 357.41L268.94 356.43L279.5 350.3L279.5 348.43L279.5 339.02L279.5 329.62L279.5 320.21L279.5 310.81L279.5 301.4L279.5 298.99L277.68 301.4L268.94 308.22L258.38 308.76L247.81 308.59L241.11 310.81L237.25 312.27L226.69 318.3L220.62 320.21L216.12 321.64L205.56 325.88L198.76 329.62L195 332.65L184.44 338.69L183.79 339.02L173.88 344.84L163.31 346.15L152.75 342.78L142.19 339.97L136.91 339.02L131.62 337.14L121.06 336.96L110.5 336.67L103.46 339.02L99.94 339.4L89.38 348.42L89.38 348.43L83.93 357.83L82.9 367.23L81.33 376.64L78.81 381.38L74.94 386.04L73.92 395.45L73.21 404.85L73.27 414.25L77.98 423.66L77.57 433.06L76.15 442.47L68.25 450.57L60.29 451.87L57.69 452.4L47.12 453.09L36.56 454.92L26 459.89L26 461.27L26 466.75L29.54 470.68L36.56 472.73L47.12 480.08L47.12 480.08L50.04 489.49L48.97 498.89L47.66 508.3L49.02 517.7ZM87.16 470.68L89.38 468.8L91.4 470.68L89.38 472.34ZM97.95 451.87L89.38 448.41L85.46 442.47L82.57 433.06L81.78 423.66L78.81 415.62L78.07 414.25L77.75 404.85L77.71 395.45L78.63 386.04L78.81 385.82L83.69 376.64L86.5 367.23L88.32 357.83L89.38 356.01L98.18 348.43L99.94 346.92L110.5 343.48L121.06 346.52L131.62 346.41L138.98 348.43L142.19 349.7L152.75 356.85L154.02 357.83L158.34 367.23L163.31 376.13L163.54 376.64L163.42 386.04L163.31 386.21L157.1 395.45L156.34 404.85L154.4 414.25L152.75 416.13L146.91 423.66L144.49 433.06L142.19 436.19L136.98 442.47L131.62 448.25L121.51 451.87L121.06 452.6L110.5 454.6L99.94 453.84ZM245.92 339.02L247.81 336.19L256.5 329.62L258.38 328.38L268.94 328.13L270.02 329.62L268.94 335.4L267.82 339.02L258.38 343.05L247.81 340.53ZM268.94 473.37L279.5 473.03L279.5 470.68L279.5 461.27L279.5 455.91L268.94 457.06L258.38 459.44L255.2 451.87L253.4 442.47L247.81 435.35L244.81 433.06L237.25 429.36L232.06 433.06L226.69 437.07L219.52 442.47L221.11 451.87L226.69 456.24L237.25 460.33L244.11 461.27L247.81 463.44L258.38 463.36L262.73 470.68ZM36.56 330.32L37.52 329.62L47.12 320.72L49.29 320.21L57.69 318.57L68.25 319.19L72.17 320.21L78.81 321.98L89.38 325L99.94 324.33L106.82 320.21L110.5 319.22L121.06 316.49L131.62 312.7L136.38 310.81L142.19 307.62L151.14 301.4L152.75 298.58L155.35 292L152.75 292L142.19 292L131.62 292L125.18 292L124.26 301.4L121.06 303.65L110.5 308.73L101.89 310.81L99.94 311.3L89.38 312L82.78 310.81L78.81 309.86L68.25 304.99L62.6 301.4L66.03 292L57.69 292L47.12 292L36.56 292L32.04 292L26 301.3L26 301.4L26 310.81L26 320.21L26 329.62L26 336.67Z" fill="#80ff80" stroke="#80ff80" stroke-width="0.3" fill-rule="evenodd"/>
<path d="M78.81 517.7L88.1 517.7L89.38 513L92.02 508.3L99.94 501.76L104.13 498.89L110.5 495.35L121.06 498.74L121.16 498.89L121.49 508.3L121.06 509.13L114.8 517.7L121.06 517.7L131.62 517.7L133.23 517.7L138.82 508.3L141.71 498.89L142.19 495.05L142.92 489.49L142.19 486.12L140.39 480.08L131.62 473.29L121.06 473.47L110.5 477.53L105.91 480.08L99.94 482.62L90.18 489.49L89.38 490.32L82.56 498.89L78.81 506.91L78.03 508.3L69.89 517.7ZM99.94 453.84L110.5 454.6L121.06 452.6L121.51 451.87L131.62 448.25L136.98 442.47L142.19 436.19L144.49 433.06L146.91 423.66L152.75 416.13L154.4 414.25L156.34 404.85L157.1 395.45L163.31 386.21L163.42 386.04L163.54 376.64L163.31 376.13L158.34 367.23L154.02 357.83L152.75 356.85L142.19 349.7L138.98 348.43L131.62 346.41L121.06 346.52L110.5 343.48L99.94 346.92L98.18 348.43L89.38 356.01L88.32 357.83L86.5 367.23L83.69 376.64L78.81 385.82L78.63 386.04L77.71 395.45L77.75 404.85L78.07 414.25L78.81 415.62L81.78 423.66L82.57 433.06L85.46 442.47L89.38 448.41L97.95 451.87ZM93.72 442.47L89.38 438.25L86.81 433.06L85.02 423.66L82.25 414.25L81.72 404.85L81.54 395.45L82.37 386.04L86.05 376.64L89.38 368.42L90.15 367.23L99.94 358.02L100.56 357.83L110.5 348.43L121.06 352.85L131.62 354.11L138.05 357.83L142.19 361.11L148.39 367.23L151.21 376.64L151.65 386.04L151.59 395.45L150.23 404.85L148.12 414.25L143.02 423.66L142.19 426.3L137.92 433.06L131.62 441.76L130.67 442.47L121.06 446.26L110.5 447.54L99.94 446.51ZM247.81 340.53L258.38 343.05L267.82 339.02L268.94 335.4L270.02 329.62L268.94 328.13L258.38 328.38L256.5 329.62L247.81 336.19L245.92 339.02ZM89.38 312L99.94 311.3L101.89 310.81L110.5 308.73L121.06 303.65L124.26 301.4L125.18 292L121.06 292L110.5 292L108.96 292L99.94 299.16L89.38 296.86L85.04 292L78.81 292L68.25 292L66.03 292L62.6 301.4L68.25 304.99L78.81 309.86L82.78 310.81Z" fill="#bfff40" stroke="#bfff40" stroke-width="0.3" fill-rule="evenodd"/>
<path d="M89.38 517.7L99.94 517.7L110.5 517.7L114.8 517.7L121.06 509.13L121.49 508.3L121.16 498.89L121.06 498.74L110.5 495.35L104.13 498.89L99.94 501.76L92.02 508.3L89.38 513L88.1 517.7ZM99.94 446.51L110.5 447.54L121.06 446.26L130.67 442.47L131.62 441.76L137.92 433.06L142.19 426.3L143.02 423.66L148.12 414.25L150.23 404.85L151.59 395.45L151.65 386.04L151.21 376.64L148.39 367.23L142.19 361.11L138.05 357.83L131.62 354.11L121.06 352.85L110.5 348.43L100.56 357.83L99.94 358.02L90.15 367.23L89.38 368.42L86.05 376.64L82.37 386.04L81.54 395.45L81.72 404.85L82.25 414.25L85.02 423.66L86.81 433.06L89.38 438.25L93.72 442.47ZM108.35 442.47L99.94 440.08L92.67 433.06L89.38 428.01L88.27 423.66L86.33 414.25L85.51 404.85L85.39 395.45L86.12 386.04L88.4 376.64L89.38 374.23L93.93 367.23L99.94 361.58L110.5 358.63L121.06 358.6L131.62 361.55L138.55 367.23L142.19 372.78L144.18 376.64L144.72 386.04L144.96 395.45L143.04 404.85L142.19 408.36L140.7 414.25L135.83 423.66L131.62 430.5L129.58 433.06L121.06 439.7L112.43 442.47L110.5 442.83ZM89.38 296.86L99.94 299.16L108.96 292L99.94 292L89.38 292L85.04 292Z" fill="#ffdf00" stroke="#ffdf00" stroke-width="0.3" fill-rule="evenodd"/>
<path d="M110.5 442.83L112.43 442.47L121.06 439.7L129.58 433.06L131.62 430.5L135.83 423.66L140.7 414.25L142.19 408.36L143.04 404.85L144.96 395.45L144.72 386.04L144.18 376.64L142.19 372.78L138.55 367.23L131.62 361.55L121.06 358.6L110.5 358.63L99.94 361.58L93.93 367.23L89.38 374.23L88.4 376.64L86.12 386.04L85.39 395.45L85.51 404.85L86.33 414.25L88.27 423.66L89.38 428.01L92.67 433.06L99.94 440.08L108.35 442.47ZM103.54 433.06L99.94 431.63L94.51 423.66L90.88 414.25L89.38 405.45L89.31 404.85L89.24 395.45L89.38 393.47L89.97 386.04L92.57 376.64L97.72 367.23L99.94 365.15L110.5 363.48L121.06 364.51L128.14 367.23L131.62 369.32L137.18 376.64L138.5 386.04L138.63 395.45L136.52 404.85L133.18 414.25L131.62 417.1L127.29 423.66L121.06 431.09L116.51 433.06L110.5 435.01Z" fill="#ff9f00" stroke="#ff9f00" stroke-width="0.3" fill-rule="evenodd"/>
<path d="M110.5 435.01L116.51 433.06L121.06 431.09L127.29 423.66L131.62 417.1L133.18 414.25L136.52 404.85L138.63 395.45L138.5 386.04L137.18 376.64L131.62 369.32L128.14 367.23L121.06 364.51L110.5 363.48L99.94 365.15L97.72 367.23L92.57 376.64L89.97 386.04L89.38 393.47L89.24 395.45L89.31 404.85L89.38 405.45L90.88 414.25L94.51 423.66L99.94 431.63L103.54 433.06ZM104.88 423.66L99.94 420.16L96.87 414.25L94.35 404.85L93.61 395.45L94.48 386.04L98.02 376.64L99.94 372.32L110.5 368.59L121.06 370.86L129.58 376.64L131.62 381.61L132.69 386.04L132.5 395.45L131.62 398.96L129.83 404.85L124.79 414.25L121.06 419.71L116.05 423.66L110.5 426.6Z" fill="#ff4000" stroke="#ff4000" stroke-width="0.3" fill-rule="evenodd"/>
<path d="M110.5 426.6L116.05 423.66L121.06 419.71L124.79 414.25L129.83 404.85L131.62 398.96L132.5 395.45L132.69 386.04L131.62 381.61L129.58 376.64L121.06 370.86L110.5 368.59L99.94 372.32L98.02 376.64L94.48 386.04L93.61 395.45L94.35 404.85L96.87 414.25L99.94 420.16L104.88 423.66ZM105.85 414.25L99.94 406.51L99.41 404.85L98 395.45L98.99 386.04L99.94 383.75L106.93 376.64L110.5 374.64L117.92 376.64L121.06 378.19L125.97 386.04L125.68 395.45L122.3 404.85L121.06 406.95L114.76 414.25L110.5 417.73Z" fill="#ff0000" stroke="#ff0000" stroke-width="0.3" fill-rule="evenodd"/>
<path d="M110.5 417.73L114.76 414.25L121.06 406.95L122.3 404.85L125.68 395.45L125.97 386.04L121.06 378.19L117.92 376.64L110.5 374.64L106.93 376.64L99.94 383.75L98.99 386.04L98 395.45L99.41 404.85L99.94 406.51L105.85 414.25ZM107.02 404.85L104.08 395.45L106.27 386.04L110.5 381.9L117.29 386.04L118.12 395.45L114.14 404.85L110.5 408.77Z" fill="#cf0000" stroke="#cf0000" stroke-width="0.3" fill-rule="evenodd"/>
<path d="M110.5 408.77L114.14 404.85L118.12 395.45L117.29 386.04L110.5 381.9L106.27 386.04L104.08 395.45L107.02 404.85Z" fill="#8f0000" stroke="#8f0000" stroke-width="0.3" fill-rule="evenodd"/>
<path d="M26 383.76L33.29 376.64L36.56 370.98L39.56 367.23L47.12 358.17L47.44 357.83L57.69 349.2L68.25 351.77L71.58 357.83L71.79 367.23L71.08 376.64L68.25 382.68L66.3 386.04L57.69 395.41L47.12 394.34L36.56 393.07L26 388.42M205.56 418.69L197.81 414.25L195 412.59L187.35 404.85L186.33 395.45L188.37 386.04L195 377.82L196.42 376.64L205.56 371.93L216.12 372.44L223.44 376.64L226.69 379L237.25 381.71L247.81 382.91L256.17 386.04L247.81 391.94L237.25 394.47L236.54 395.45L226.69 403.78L225.75 404.85L220.98 414.25L216.12 419.01Z" fill="none" stroke="#111" stroke-width="0.8" stroke-linejoin="round"/>
<path d="M183.11 517.7L182.25 508.3L184.44 502.35L185.9 498.89L190.71 489.49L195 480.08L195 480.08L200.2 470.68L205.56 462.83L216.12 461.27L225.37 470.68L226.69 474.03L228.66 480.08L228.96 489.49L227.69 498.89L226.69 508.3L227.8 517.7M279.5 510.22L275.26 508.3L269.49 498.89L275.75 489.49L279.5 488.48M26 495.64L27.65 498.89L27.86 508.3L26 510.89M279.5 442.47L279.5 442.47L268.94 436.45L268.18 433.06L268.71 423.66L258.38 415.5L247.81 414.79L237.25 415.22L232.24 423.66L226.69 427.29L216.12 432.79L215.48 433.06L205.56 437.88L197.55 442.47L195 445.56L184.44 447.72L173.88 444.54L170.95 442.47L163.31 436.07L161.77 433.06L162.1 423.66L163.23 414.25L163.31 414.03L170.46 404.85L171.26 395.45L173.51 386.04L173.88 385.08L180.48 376.64L184.44 372.78L191.71 367.23L195 364.68L205.56 362.91L216.12 363.35L226.69 365.76L237.25 367.23L237.25 367.23L247.81 370.13L258.38 371.76L268.94 370.37L277.91 367.23L279.5 366.53M26 355.98L32.11 348.43L36.56 345.85L44.96 339.02L47.12 337.46L57.69 332.54L68.25 331.53L78.81 337.83L79.69 339.02L79.91 348.43L79.55 357.83L79.3 367.23L78.98 376.64L78.81 376.95L71.24 386.04L70.13 395.45L68.68 404.85L68.47 414.25L68.46 423.66L68.25 424.92L58.77 433.06L57.69 433.39L57.07 433.06L52.57 423.66L47.12 420.62L37.46 423.66L36.56 423.88L26.55 433.06L26 433.98M222.9 292L220.83 301.4L216.12 304.91L205.56 306.74L195 304.88L185.99 301.4L184.44 300.51L179.28 292" fill="none" stroke="#111" stroke-width="0.8" stroke-linejoin="round"/>
<path d="M164.67 517.7L163.31 510.52L162.82 508.3L163.31 505.85L164.79 498.89L169.41 489.49L173.87 480.08L168.9 470.68L163.31 466.95L156.73 461.27L152.75 457.4L146.09 451.87L144.13 442.47L149.57 433.06L150.8 423.66L152.75 421.15L158.82 414.25L161.86 404.85L162.37 395.45L163.31 394.05L168.47 386.04L171.11 376.64L173.88 370.56L177.12 367.23L184.44 357.95L184.63 357.83L195 351.95L205.56 350.95L216.12 350.7L226.69 351.45L237.25 353.42L247.81 355.98L258.38 357.41L268.94 356.43L279.5 350.3M26 466.75L29.54 470.68L36.56 472.73L47.12 480.08L47.12 480.08L50.04 489.49L48.97 498.89L47.66 508.3L49.02 517.7M279.5 455.91L268.94 457.06L258.38 459.44L255.2 451.87L253.4 442.47L247.81 435.35L244.81 433.06L237.25 429.36L232.06 433.06L226.69 437.07L219.52 442.47L221.11 451.87L226.69 456.24L237.25 460.33L244.11 461.27L247.81 463.44L258.38 463.36L262.73 470.68L268.94 473.37L279.5 473.03M26 336.67L36.56 330.32L37.52 329.62L47.12 320.72L49.29 320.21L57.69 318.57L68.25 319.19L72.17 320.21L78.81 321.98L89.38 325L99.94 324.33L106.82 320.21L110.5 319.22L121.06 316.49L131.62 312.7L136.38 310.81L142.19 307.62L151.14 301.4L152.75 298.58L155.35 292M32.04 292L26 301.3M279.5 298.99L277.68 301.4L268.94 308.22L258.38 308.76L247.81 308.59L241.11 310.81L237.25 312.27L226.69 318.3L220.62 320.21L216.12 321.64L205.56 325.88L198.76 329.62L195 332.65L184.44 338.69L183.79 339.02L173.88 344.84L163.31 346.15L152.75 342.78L142.19 339.97L136.91 339.02L131.62 337.14L121.06 336.96L110.5 336.67L103.46 339.02L99.94 339.4L89.38 348.42L89.38 348.43L83.93 357.83L82.9 367.23L81.33 376.64L78.81 381.38L74.94 386.04L73.92 395.45L73.21 404.85L73.27 414.25L77.98 423.66L77.57 433.06L76.15 442.47L68.25 450.57L60.29 451.87L57.69 452.4L47.12 453.09L36.56 454.92L26 459.89M89.38 472.34L87.16 470.68L89.38 468.8L91.4 470.68L89.38 472.34" fill="none" stroke="#111" stroke-width="0.8" stroke-linejoin="round"/>
<path d="M133.23 517.7L138.82 508.3L141.71 498.89L142.19 495.05L142.92 489.49L142.19 486.12L140.39 480.08L131.62 473.29L121.06 473.47L110.5 477.53L105.91 480.08L99.94 482.62L90.18 489.49L89.38 490.32L82.56 498.89L78.81 506.91L78.03 508.3L69.89 517.7M66.03 292L62.6 301.4L68.25 304.99L78.81 309.86L82.78 310.81L89.38 312L99.94 311.3L101.89 310.81L110.5 308.73L121.06 303.65L124.26 301.4L125.18 292M99.94 453.84L110.5 454.6L121.06 452.6L121.51 451.87L131.62 448.25L136.98 442.47L142.19 436.19L144.49 433.06L146.91 423.66L152.75 416.13L154.4 414.25L156.34 404.85L157.1 395.45L163.31 386.21L163.42 386.04L163.54 376.64L163.31 376.13L158.34 367.23L154.02 357.83L152.75 356.85L142.19 349.7L138.98 348.43L131.62 346.41L121.06 346.52L110.5 343.48L99.94 346.92L98.18 348.43L89.38 356.01L88.32 357.83L86.5 367.23L83.69 376.64L78.81 385.82L78.63 386.04L77.71 395.45L77.75 404.85L78.07 414.25L78.81 415.62L81.78 423.66L82.57 433.06L85.46 442.47L89.38 448.41L97.95 451.87ZM247.81 340.53L258.38 343.05L267.82 339.02L268.94 335.4L270.02 329.62L268.94 328.13L258.38 328.38L256.5 329.62L247.81 336.19L245.92 339.02Z" fill="none" stroke="#111" stroke-width="0.8" stroke-linejoin="round"/>
<path d="M114.8 517.7L121.06 509.13L121.49 508.3L121.16 498.89L121.06 498.74L110.5 495.35L104.13 498.89L99.94 501.76L92.02 508.3L89.38 513L88.1 517.7M85.04 292L89.38 296.86L99.94 299.16L108.96 292M99.94 446.51L110.5 447.54L121.06 446.26L130.67 442.47L131.62 441.76L137.92 433.06L142.19 426.3L143.02 423.66L148.12 414.25L150.23 404.85L151.59 395.45L151.65 386.04L151.21 376.64L148.39 367.23L142.19 361.11L138.05 357.83L131.62 354.11L121.06 352.85L110.5 348.43L100.56 357.83L99.94 358.02L90.15 367.23L89.38 368.42L86.05 376.64L82.37 386.04L81.54 395.45L81.72 404.85L82.25 414.25L85.02 423.66L86.81 433.06L89.38 438.25L93.72 442.47Z" fill="none" stroke="#111" stroke-width="0.8" stroke-linejoin="round"/>
<path d="M110.5 442.83L112.43 442.47L121.06 439.7L129.58 433.06L131.62 430.5L135.83 423.66L140.7 414.25L142.19 408.36L143.04 404.85L144.96 395.45L144.72 386.04L144.18 376.64L142.19 372.78L138.55 367.23L131.62 361.55L121.06 358.6L110.5 358.63L99.94 361.58L93.93 367.23L89.38 374.23L88.4 376.64L86.12 386.04L85.39 395.45L85.51 404.85L86.33 414.25L88.27 423.66L89.38 428.01L92.67 433.06L99.94 440.08L108.35 442.47Z" fill="none" stroke="#111" stroke-width="0.8" stroke-linejoin="round"/>
<path d="M110.5 435.01L116.51 433.06L121.06 431.09L127.29 423.66L131.62 417.1L133.18 414.25L136.52 404.85L138.63 395.45L138.5 386.04L137.18 376.64L131.62 369.32L128.14 367.23L121.06 364.51L110.5 363.48L99.94 365.15L97.72 367.23L92.57 376.64L89.97 386.04L89.38 393.47L89.24 395.45L89.31 404.85L89.38 405.45L90.88 414.25L94.51 423.66L99.94 431.63L103.54 433.06Z" fill="none" stroke="#111" stroke-width="0.8" stroke-linejoin="round"/>
<path d="M110.5 426.6L116.05 423.66L121.06 419.71L124.79 414.25L129.83 404.85L131.62 398.96L132.5 395.45L132.69 386.04L131.62 381.61L129.58 376.64L121.06 370.86L110.5 368.59L99.94 372.32L98.02 376.64L94.48 386.04L93.61 395.45L94.35 404.85L96.87 414.25L99.94 420.16L104.88 423.66Z" fill="none" stroke="#111" stroke-width="0.8" stroke-linejoin="round"/>
<path d="M110.5 417.73L114.76 414.25L121.06 406.95L122.3 404.85L125.68 395.45L125.97 386.04L121.06 378.19L117.92 376.64L110.5 374.64L106.93 376.64L99.94 383.75L98.99 386.04L98 395.45L99.41 404.85L99.94 406.51L105.85 414.25Z" fill="none" stroke="#111" stroke-width="0.8" stroke-linejoin="round"/>
<path d="M110.5 408.77L114.14 404.85L118.12 395.45L117.29 386.04L110.5 381.9L106.27 386.04L104.08 395.45L107.02 404.85Z" fill="none" stroke="#111" stroke-width="0.8" stroke-linejoin="round"/>
</g>
<path d="M26 517.7v-2.6M26 292v2.6M47.12 517.7v-2.6M47.12 292v2.6M68.25 517.7v-2.6M68.25 292v2.6M89.38 517.7v-2.6M89.38 292v2.6M110.5 517.7v-2.6M110.5 292v2.6M131.62 517.7v-2.6M131.62 292v2.6M152.75 517.7v-2.6M152.75 292v2.6M173.88 517.7v-2.6M173.88 292v2.6M195 517.7v-2.6M195 292v2.6M216.12 517.7v-2.6M216.12 292v2.6M237.25 517.7v-2.6M237.25 292v2.6M258.38 517.7v-2.6M258.38 292v2.6M279.5 517.7v-2.6M279.5 292v2.6M26 292h2.6M279.5 292h-2.6M26 310.81h2.6M279.5 310.81h-2.6M26 329.62h2.6M279.5 329.62h-2.6M26 348.43h2.6M279.5 348.43h-2.6M26 367.23h2.6M279.5 367.23h-2.6M26 386.04h2.6M279.5 386.04h-2.6M26 404.85h2.6M279.5 404.85h-2.6M26 423.66h2.6M279.5 423.66h-2.6M26 442.47h2.6M279.5 442.47h-2.6M26 461.27h2.6M279.5 461.27h-2.6M26 480.08h2.6M279.5 480.08h-2.6M26 498.89h2.6M279.5 498.89h-2.6M26 517.7h2.6M279.5 517.7h-2.6" stroke="#222" stroke-width="0.6" fill="none"/>
<rect x="26" y="292" width="253.5" height="225.7" fill="none" stroke="#222" stroke-width="0.8"/>
<text x="23.2" y="528.7" text-anchor="middle">−180</text>
<text x="44.33" y="528.7" text-anchor="middle">−150</text>
<text x="65.45" y="528.7" text-anchor="middle">−120</text>
<text x="86.58" y="528.7" text-anchor="middle">−90</text>
<text x="107.7" y="528.7" text-anchor="middle">−60</text>
<text x="128.82" y="528.7" text-anchor="middle">−30</text>
<text x="152.75" y="528.7" text-anchor="middle">0</text>
<text x="173.88" y="528.7" text-anchor="middle">30</text>
<text x="195" y="528.7" text-anchor="middle">60</text>
<text x="216.12" y="528.7" text-anchor="middle">90</text>
<text x="237.25" y="528.7" text-anchor="middle">120</text>
<text x="258.38" y="528.7" text-anchor="middle">150</text>
<text x="279.5" y="528.7" text-anchor="middle">180</text>
<text x="23.8" y="521.1" text-anchor="end">0</text>
<text x="23.8" y="502.29" text-anchor="end">2</text>
<text x="23.8" y="483.48" text-anchor="end">4</text>
<text x="23.8" y="464.68" text-anchor="end">6</text>
<text x="23.8" y="445.87" text-anchor="end">8</text>
<text x="23.8" y="427.06" text-anchor="end">10</text>
<text x="23.8" y="408.25" text-anchor="end">12</text>
<text x="23.8" y="389.44" text-anchor="end">14</text>
<text x="23.8" y="370.63" text-anchor="end">16</text>
<text x="23.8" y="351.83" text-anchor="end">18</text>
<text x="23.8" y="333.02" text-anchor="end">20</text>
<text x="23.8" y="314.21" text-anchor="end">22</text>
<text x="23.8" y="295.4" text-anchor="end">24</text>
<text x="152.75" y="538.3" text-anchor="middle">Geographic longitude [°]</text>
<text transform="translate(8.4 404.85) rotate(-90)" text-anchor="middle">Magnetic local Time [h]</text>
<text x="22" y="284">Migrating tides meridional wind Northern Hemi[40°~60°] 400km</text>
<linearGradient id="cb10" x1="0" y1="0" x2="0" y2="1"><stop offset="0.0000%" stop-color="#800000"/><stop offset="1.5625%" stop-color="#800000"/><stop offset="1.5625%" stop-color="#8f0000"/><stop offset="3.1250%" stop-color="#8f0000"/><stop offset="3.1250%" stop-color="#9f0000"/><stop offset="4.6875%" stop-color="#9f0000"/><stop offset="4.6875%" stop-color="#af0000"/><stop offset="6.2500%" stop-color="#af0000"/><stop offset="6.2500%" stop-color="#bf0000"/><stop offset="7.8125%" stop-color="#bf0000"/><stop offset="7.8125%" stop-color="#cf0000"/><stop offset="9.3750%" stop-color="#cf0000"/><stop offset="9.3750%" stop-color="#df0000"/><stop offset="10.9375%" stop-color="#df0000"/><stop offset="10.9375%" stop-color="#ef0000"/><stop offset="12.5000%" stop-color="#ef0000"/><stop offset="12.5000%" stop-color="#ff0000"/><stop offset="14.0625%" stop-color="#ff0000"/><stop offset="14.0625%" stop-color="#ff1000"/><stop offset="15.6250%" stop-color="#ff1000"/><stop offset="15.6250%" stop-color="#ff2000"/><stop offset="17.1875%" stop-color="#ff2000"/><stop offset="17.1875%" stop-color="#ff3000"/><stop offset="18.7500%" stop-color="#ff3000"/><stop offset="18.7500%" stop-color="#ff4000"/><stop offset="20.3125%" stop-color="#ff4000"/><stop offset="20.3125%" stop-color="#ff5000"/><stop offset="21.8750%" stop-color="#ff5000"/><stop offset="21.8750%" stop-color="#ff6000"/><stop offset="23.4375%" stop-color="#ff6000"/><stop offset="23.4375%" stop-color="#ff7000"/><stop offset="25.0000%" stop-color="#ff7000"/><stop offset="25.0000%" stop-color="#ff8000"/><stop offset="26.5625%" stop-color="#ff8000"/><stop offset="26.5625%" stop-color="#ff8f00"/><stop offset="28.1250%" stop-color="#ff8f00"/><stop offset="28.1250%" stop-color="#ff9f00"/><stop offset="29.6875%" stop-color="#ff9f00"/><stop offset="29.6875%" stop-color="#ffaf00"/><stop offset="31.2500%" stop-color="#ffaf00"/><stop offset="31.2500%" stop-color="#ffbf00"/><stop offset="32.8125%" stop-color="#ffbf00"/><stop offset="32.8125%" stop-color="#ffcf00"/><stop offset="34.3750%" stop-color="#ffcf00"/><stop offset="34.3750%" stop-color="#ffdf00"/><stop offset="35.9375%" stop-color="#ffdf00"/><stop offset="35.9375%" stop-color="#ffef00"/><stop offset="37.5000%" stop-color="#ffef00"/><stop offset="37.5000%" stop-color="#ffff00"/><stop offset="39.0625%" stop-color="#ffff00"/><stop offset="39.0625%" stop-color="#efff10"/><stop offset="40.6250%" stop-color="#efff10"/><stop offset="40.6250%" stop-color="#dfff20"/><stop offset="42.1875%" stop-color="#dfff20"/><stop offset="42.1875%" stop-color="#cfff30"/><stop offset="43.7500%" stop-color="#cfff30"/><stop offset="43.7500%" stop-color="#bfff40"/><stop offset="45.3125%" stop-color="#bfff40"/><stop offset="45.3125%" stop-color="#afff50"/><stop offset="46.8750%" stop-color="#afff50"/><stop offset="46.8750%" stop-color="#9fff60"/><stop offset="48.4375%" stop-color="#9fff60"/><stop offset="48.4375%" stop-color="#8fff70"/><stop offset="50.0000%" stop-color="#8fff70"/><stop offset="50.0000%" stop-color="#80ff80"/><stop offset="51.5625%" stop-color="#80ff80"/><stop offset="51.5625%" stop-color="#70ff8f"/><stop offset="53.1250%" stop-color="#70ff8f"/><stop offset="53.1250%" stop-color="#60ff9f"/><stop offset="54.6875%" stop-color="#60ff9f"/><stop offset="54.6875%" stop-color="#50ffaf"/><stop offset="56.2500%" stop-color="#50ffaf"/><stop offset="56.2500%" stop-color="#40ffbf"/><stop offset="57.8125%" stop-color="#40ffbf"/><stop offset="57.8125%" stop-color="#30ffcf"/><stop offset="59.3750%" stop-color="#30ffcf"/><stop offset="59.3750%" stop-color="#20ffdf"/><stop offset="60.9375%" stop-color="#20ffdf"/><stop offset="60.9375%" stop-color="#10ffef"/><stop offset="62.5000%" stop-color="#10ffef"/><stop offset="62.5000%" stop-color="#00ffff"/><stop offset="64.0625%" stop-color="#00ffff"/><stop offset="64.0625%" stop-color="#00efff"/><stop offset="65.6250%" stop-color="#00efff"/><stop offset="65.6250%" stop-color="#00dfff"/><stop offset="67.1875%" stop-color="#00dfff"/><stop offset="67.1875%" stop-color="#00cfff"/><stop offset="68.7500%" stop-color="#00cfff"/><stop offset="68.7500%" stop-color="#00bfff"/><stop offset="70.3125%" stop-color="#00bfff"/><stop offset="70.3125%" stop-color="#00afff"/><stop offset="71.8750%" stop-color="#00afff"/><stop offset="71.8750%" stop-color="#009fff"/><stop offset="73.4375%" stop-color="#009fff"/><stop offset="73.4375%" stop-color="#008fff"/><stop offset="75.0000%" stop-color="#008fff"/><stop offset="75.0000%" stop-color="#0080ff"/><stop offset="76.5625%" stop-color="#0080ff"/><stop offset="76.5625%" stop-color="#0070ff"/><stop offset="78.1250%" stop-color="#0070ff"/><stop offset="78.1250%" stop-color="#0060ff"/><stop offset="79.6875%" stop-color="#0060ff"/><stop offset="79.6875%" stop-color="#0050ff"/><stop offset="81.2500%" stop-color="#0050ff"/><stop offset="81.2500%" stop-color="#0040ff"/><stop offset="82.8125%" stop-color="#0040ff"/><stop offset="82.8125%" stop-color="#0030ff"/><stop offset="84.3750%" stop-color="#0030ff"/><stop offset="84.3750%" stop-color="#0020ff"/><stop offset="85.9375%" stop-color="#0020ff"/><stop offset="85.9375%" stop-color="#0010ff"/><stop offset="87.5000%" stop-color="#0010ff"/><stop offset="87.5000%" stop-color="#0000ff"/><stop offset="89.0625%" stop-color="#0000ff"/><stop offset="89.0625%" stop-color="#0000ef"/><stop offset="90.6250%" stop-color="#0000ef"/><stop offset="90.6250%" stop-color="#0000df"/><stop offset="92.1875%" stop-color="#0000df"/><stop offset="92.1875%" stop-color="#0000cf"/><stop offset="93.7500%" stop-color="#0000cf"/><stop offset="93.7500%" stop-color="#0000bf"/><stop offset="95.3125%" stop-color="#0000bf"/><stop offset="95.3125%" stop-color="#0000af"/><stop offset="96.8750%" stop-color="#0000af"/><stop offset="96.8750%" stop-color="#00009f"/><stop offset="98.4375%" stop-color="#00009f"/><stop offset="98.4375%" stop-color="#00008f"/><stop offset="100.0000%" stop-color="#00008f"/></linearGradient>
<rect x="289.1" y="292" width="13.5" height="225.7" fill="url(#cb10)"/>
<path d="M289.1 517.7h2M302.6 517.7h-2M289.1 495.13h2M302.6 495.13h-2M289.1 472.56h2M302.6 472.56h-2M289.1 449.99h2M302.6 449.99h-2M289.1 427.42h2M302.6 427.42h-2M289.1 404.85h2M302.6 404.85h-2M289.1 382.28h2M302.6 382.28h-2M289.1 359.71h2M302.6 359.71h-2M289.1 337.14h2M302.6 337.14h-2M289.1 314.57h2M302.6 314.57h-2M289.1 292h2M302.6 292h-2" stroke="#222" stroke-width="0.6" fill="none"/>
<rect x="289.1" y="292" width="13.5" height="225.7" fill="none" stroke="#222" stroke-width="0.8"/>
<text x="303.8" y="521.1">−10</text>
<text x="303.8" y="498.53">−8</text>
<text x="303.8" y="475.96">−6</text>
<text x="303.8" y="453.39">−4</text>
<text x="303.8" y="430.82">−2</text>
<text x="303.8" y="408.25">0</text>
<text x="303.8" y="385.68">2</text>
<text x="303.8" y="363.11">4</text>
<text x="303.8" y="340.54">6</text>
<text x="303.8" y="317.97">8</text>
<text x="303.8" y="295.4">10</text>
<text transform="translate(333.6 404.85) rotate(-90)" text-anchor="middle">Δ Ne 10<tspan dy="-3.5" font-size="7">10</tspan><tspan dy="3.5"> m</tspan><tspan dy="-3.5" font-size="7">−3</tspan></text>
<clipPath id="clip11"><rect x="373.8" y="292" width="253.5" height="225.7"/></clipPath>
<g clip-path="url(#clip11)">
<path d="M447.74 449.99L458.3 447.17L463.1 442.47L463.58 433.06L458.68 423.66L458.3 421.31L447.74 421.78L446.42 423.66L443.46 433.06L443.93 442.47ZM553.36 391.38L563.92 392.71L569.51 386.04L571.2 376.64L569.45 367.23L563.92 360.71L553.36 358.98L546.14 367.23L545.02 376.64L547.59 386.04Z" fill="#0050ff" stroke="#0050ff" stroke-width="0.3" fill-rule="evenodd"/>
<path d="M447.74 454.89L458.3 453.23L463.1 451.87L468.86 446.23L472.38 442.47L472.59 433.06L468.86 430.93L462.45 423.66L461.51 414.25L460.52 404.85L458.3 401.96L453.02 404.85L447.74 409.55L443.51 414.25L437.62 423.66L437.18 426.42L436.38 433.06L435.4 442.47L437.18 443.91L443.94 451.87ZM443.93 442.47L443.46 433.06L446.42 423.66L447.74 421.78L458.3 421.31L458.68 423.66L463.58 433.06L463.1 442.47L458.3 447.17L447.74 449.99ZM553.36 400.61L563.92 401.76L573.4 395.45L574.49 393.96L578.65 386.04L579.74 376.64L578.17 367.23L574.53 357.83L574.49 357.78L563.92 351.05L553.36 349.44L542.8 355.04L539.96 357.83L535.62 367.23L535.57 376.64L538.8 386.04L542.8 392.29L546.19 395.45ZM547.59 386.04L545.02 376.64L546.14 367.23L553.36 358.98L563.92 360.71L569.45 367.23L571.2 376.64L569.51 386.04L563.92 392.71L553.36 391.38Z" fill="#008fff" stroke="#008fff" stroke-width="0.3" fill-rule="evenodd"/>
<path d="M437.18 517.7L447.74 517.7L458.3 517.7L468.86 517.7L479.43 517.7L487.88 517.7L486.03 508.3L480.31 498.89L479.43 498L468.86 493.25L458.3 491.25L447.74 493.01L438.14 498.89L437.18 500.46L433.11 508.3L432.95 517.7ZM447.74 458.25L458.3 455.96L468.86 453.96L473.56 451.87L479.43 445.15L481.55 442.47L480.29 433.06L479.43 432.37L468.86 426.65L466.22 423.66L466.11 414.25L466.08 404.85L460.41 395.45L458.3 394.64L457.34 395.45L447.74 401.32L439.29 404.85L437.18 407.41L433.33 414.25L430.21 423.66L429.73 433.06L429.3 442.47L437.18 448.89L439.71 451.87ZM443.94 451.87L437.18 443.91L435.4 442.47L436.38 433.06L437.18 426.42L437.62 423.66L443.51 414.25L447.74 409.55L453.02 404.85L458.3 401.96L460.52 404.85L461.51 414.25L462.45 423.66L468.86 430.93L472.59 433.06L472.38 442.47L468.86 446.23L463.1 451.87L458.3 453.23L447.74 454.89ZM563.92 414.61L565 414.25L574.49 409.41L579.98 404.85L585.05 398.48L586.12 395.45L587.03 386.04L587.41 376.64L586.11 367.23L585.05 365.12L581.32 357.83L574.49 349.52L572.84 348.43L563.92 343.02L553.36 341.78L542.8 344.49L535.41 348.43L532.24 351.62L525.85 357.83L521.67 364.77L514.14 367.23L520.74 376.64L521.67 378.19L526.75 386.04L528.58 395.45L531.54 404.85L532.24 405.72L542.8 410.68L553.36 413.53L558.96 414.25ZM546.19 395.45L542.8 392.29L538.8 386.04L535.57 376.64L535.62 367.23L539.96 357.83L542.8 355.04L553.36 349.44L563.92 351.05L574.49 357.78L574.53 357.83L578.17 367.23L579.74 376.64L578.65 386.04L574.49 393.96L573.4 395.45L563.92 401.76L553.36 400.61ZM489.99 381.33L500.55 380.96L505.37 376.64L510.4 367.23L511.11 359.14L511.35 357.83L511.11 357.7L500.55 353.61L491.11 357.83L489.99 358.61L482.77 367.23L483.78 376.64ZM479.43 295.11L489.99 296.44L500.55 293.39L501.63 292L500.55 292L489.99 292L479.43 292L471.23 292Z" fill="#00bfff" stroke="#00bfff" stroke-width="0.3" fill-rule="evenodd"/>
<path d="M426.61 517.7L432.95 517.7L433.11 508.3L437.18 500.46L438.14 498.89L447.74 493.01L458.3 491.25L468.86 493.25L479.43 498L480.31 498.89L486.03 508.3L487.88 517.7L489.99 517.7L500.55 517.7L500.55 517.7L502.87 508.3L500.55 506.17L489.99 500.07L489.11 498.89L480.93 489.49L479.43 488.55L468.86 483.85L458.3 482.54L447.74 484L437.18 488.44L435.41 489.49L427.62 498.89L426.61 500.24L419.09 508.3L420.93 517.7ZM447.74 462.03L448.74 461.27L458.3 458.69L468.86 459.19L479.43 457.75L489.99 451.87L489.99 451.87L494.29 442.47L491.34 433.06L489.99 432.05L479.43 424.07L477.92 423.66L477.31 414.25L476.41 404.85L477.92 395.45L479.43 394.27L489.99 392.87L500.55 393.56L511.11 394.28L521.67 395.45L521.67 404.85L521.67 404.85L525.84 414.25L532.24 418.31L542.8 420.63L553.36 423.17L563.92 423.66L563.92 423.66L563.92 423.66L574.49 419.66L582.01 414.25L585.05 411.68L590.58 404.85L593.61 395.45L593.75 386.04L593.73 376.64L592.76 367.23L588.82 357.83L585.05 353.37L581.19 348.43L574.49 341.62L570.12 339.02L563.92 335.54L553.36 333.84L542.8 335.13L533.05 339.02L532.24 339.35L521.67 344.15L511.11 344.71L500.55 344.66L489.99 347.15L488.73 348.43L479.43 356.48L478.15 357.83L470.04 367.23L468.86 369.58L465.98 376.64L459.26 386.04L458.3 386.6L447.74 395.45L447.74 395.45L437.18 401.13L426.61 404.71L426.31 404.85L424.43 414.25L422.9 423.66L422.95 433.06L422.89 442.47L426.61 449.4L430.13 451.87L437.18 456.57L445.62 461.27ZM439.71 451.87L437.18 448.89L429.3 442.47L429.73 433.06L430.21 423.66L433.33 414.25L437.18 407.41L439.29 404.85L447.74 401.32L457.34 395.45L458.3 394.64L460.41 395.45L466.08 404.85L466.11 414.25L466.22 423.66L468.86 426.65L479.43 432.37L480.29 433.06L481.55 442.47L479.43 445.15L473.56 451.87L468.86 453.96L458.3 455.96L447.74 458.25ZM558.96 414.25L553.36 413.53L542.8 410.68L532.24 405.72L531.54 404.85L528.58 395.45L526.75 386.04L521.67 378.19L520.74 376.64L514.14 367.23L521.67 364.77L525.85 357.83L532.24 351.62L535.41 348.43L542.8 344.49L553.36 341.78L563.92 343.02L572.84 348.43L574.49 349.52L581.32 357.83L585.05 365.12L586.11 367.23L587.41 376.64L587.03 386.04L586.12 395.45L585.05 398.48L579.98 404.85L574.49 409.41L565 414.25L563.92 414.61ZM483.78 376.64L482.77 367.23L489.99 358.61L491.11 357.83L500.55 353.61L511.11 357.7L511.35 357.83L511.11 359.14L510.4 367.23L505.37 376.64L500.55 380.96L489.99 381.33ZM458.3 310.81L468.86 311.11L471.9 310.81L479.43 310.08L489.99 307.76L500.55 305.71L511.11 302.31L512.66 301.4L512.37 292L511.11 292L501.63 292L500.55 293.39L489.99 296.44L479.43 295.11L471.23 292L468.86 292L458.3 292L447.74 292L437.18 292L426.61 292L424.41 292L426.43 301.4L426.61 301.68L437.18 308.74L447.74 310.38L458.3 310.81Z" fill="#00ffff" stroke="#00ffff" stroke-width="0.3" fill-rule="evenodd"/>
<path d="M416.05 517.7L420.93 517.7L419.09 508.3L426.61 500.24L427.62 498.89L435.41 489.49L437.18 488.44L447.74 484L458.3 482.54L468.86 483.85L479.43 488.55L480.93 489.49L489.11 498.89L489.99 500.07L500.55 506.17L502.87 508.3L500.55 517.7L500.55 517.7L500.55 517.7L511.11 517.7L519.05 517.7L520.8 508.3L511.11 499.99L509.94 498.89L511.11 495.07L512.69 489.49L511.11 487.64L503.19 480.08L511.11 474.1L514.74 470.68L521.67 462.52L523.18 461.27L531.88 451.87L531.06 442.47L532.24 440.93L542.8 436.22L553.36 438.09L563.92 434.7L566.88 433.06L574.49 428.36L579.85 423.66L585.05 419.85L590.56 414.25L595.61 408.14L598.07 404.85L600.57 395.45L600.32 386.04L599.99 376.64L599.58 367.23L597.69 357.83L595.61 354.43L591.42 348.43L585.05 342.34L581.99 339.02L574.49 332.66L567.99 329.62L563.92 325.98L554.83 320.21L553.84 310.81L553.36 309.49L547.72 301.4L542.8 299.83L532.24 296.77L524.12 292L521.67 292L512.37 292L512.66 301.4L511.11 302.31L500.55 305.71L489.99 307.76L479.43 310.08L471.9 310.81L468.86 311.11L458.3 310.81L458.3 310.81L447.74 310.38L437.18 308.74L426.61 301.68L426.43 301.4L424.41 292L416.05 292L410.09 292L407.45 301.4L406.11 310.81L416.05 319.53L418.17 320.21L426.61 321.36L437.18 322.06L447.74 321.82L458.3 322.57L468.86 325.59L479.43 328.76L481.54 329.62L480.6 339.02L479.43 340.36L473.09 348.43L468.86 353.8L467.69 357.83L462.07 367.23L458.3 373.95L457.19 376.64L450.91 386.04L447.74 388.73L439.61 395.45L437.18 396.76L426.61 401.15L418.82 404.85L417.14 414.25L416.05 420.97L415.62 423.66L416.05 433.06L416.05 433.06L416.25 442.47L416.05 451.87L416.05 451.87L416.05 451.87L426.61 459.79L428.73 461.27L437.18 467.21L447.74 469.55L458.3 462.84L468.86 470.38L469.37 470.68L468.86 470.98L458.3 473.15L447.74 472.85L437.18 476.66L431.89 480.08L426.61 482.77L416.05 488.44L414.54 489.49L409.9 498.89L407.48 508.3L410.64 517.7ZM445.62 461.27L437.18 456.57L430.13 451.87L426.61 449.4L422.89 442.47L422.95 433.06L422.9 423.66L424.43 414.25L426.31 404.85L426.61 404.71L437.18 401.13L447.74 395.45L447.74 395.45L458.3 386.6L459.26 386.04L465.98 376.64L468.86 369.58L470.04 367.23L478.15 357.83L479.43 356.48L488.73 348.43L489.99 347.15L500.55 344.66L511.11 344.71L521.67 344.15L532.24 339.35L533.05 339.02L542.8 335.13L553.36 333.84L563.92 335.54L570.12 339.02L574.49 341.62L581.19 348.43L585.05 353.37L588.82 357.83L592.76 367.23L593.73 376.64L593.75 386.04L593.61 395.45L590.58 404.85L585.05 411.68L582.01 414.25L574.49 419.66L563.92 423.66L563.92 423.66L563.92 423.66L553.36 423.17L542.8 420.63L532.24 418.31L525.84 414.25L521.67 404.85L521.67 404.85L521.67 395.45L511.11 394.28L500.55 393.56L489.99 392.87L479.43 394.27L477.92 395.45L476.41 404.85L477.31 414.25L477.92 423.66L479.43 424.07L489.99 432.05L491.34 433.06L494.29 442.47L489.99 451.87L489.99 451.87L479.43 457.75L468.86 459.19L458.3 458.69L448.74 461.27L447.74 462.03ZM487.35 414.25L489.37 404.85L489.99 404.22L490.69 404.85L493.51 414.25L489.99 417.78ZM494.21 329.62L492.63 320.21L500.55 316.69L511.11 315.63L521.67 320.21L521.67 320.21L523.34 329.62L521.67 330.66L511.11 336.93L500.55 336.67ZM553.36 473.87L563.92 475.38L565.47 470.68L563.92 469.78L553.36 468.88L550.98 470.68Z" fill="#50ffaf" stroke="#50ffaf" stroke-width="0.3" fill-rule="evenodd"/>
<path d="M405.49 517.7L410.64 517.7L407.48 508.3L409.9 498.89L414.54 489.49L416.05 488.44L426.61 482.77L431.89 480.08L437.18 476.66L447.74 472.85L458.3 473.15L468.86 470.98L469.37 470.68L468.86 470.38L458.3 462.84L447.74 469.55L437.18 467.21L428.73 461.27L426.61 459.79L416.05 451.87L416.05 451.87L416.05 451.87L416.25 442.47L416.05 433.06L416.05 433.06L415.62 423.66L416.05 420.97L417.14 414.25L418.82 404.85L426.61 401.15L437.18 396.76L439.61 395.45L447.74 388.73L450.91 386.04L457.19 376.64L458.3 373.95L462.07 367.23L467.69 357.83L468.86 353.8L473.09 348.43L479.43 340.36L480.6 339.02L481.54 329.62L479.43 328.76L468.86 325.59L458.3 322.57L447.74 321.82L437.18 322.06L426.61 321.36L418.17 320.21L416.05 319.53L406.11 310.81L407.45 301.4L410.09 292L405.49 292L394.93 292L394.93 292L392.04 301.4L386.8 310.81L384.36 314.84L380.14 320.21L373.8 324.91L373.8 329.62L373.8 336.67L384.36 335.26L394.93 333.65L405.49 331.71L416.05 330.43L426.61 330.4L437.18 330.79L447.74 330.96L456.79 339.02L458.3 341.37L461.18 348.43L459.86 357.83L458.3 360.52L455.79 367.23L451.63 376.64L447.74 381.7L444.22 386.04L437.18 391.98L431.49 395.45L426.61 397.58L416.05 402.6L411.97 404.85L410.26 414.25L408.54 423.66L408.11 433.06L407.58 442.47L405.49 445.52L401.54 451.87L400.21 461.27L398.73 470.68L398.89 480.08L394.93 489.49L394.93 489.49L394.93 489.49L398.29 498.89L396.99 508.3L396.39 517.7ZM521.67 517.7L532.24 517.7L542.8 517.7L553.36 517.7L562.32 517.7L555.32 508.3L563.92 498.89L563.92 498.89L574.49 495.42L585.05 490.71L587.83 489.49L595.61 484.51L606.17 481.07L609.47 480.08L606.17 474.76L603.24 470.68L595.61 468.95L585.05 466.51L574.49 463.45L566.95 461.27L563.92 459.39L556.88 451.87L563.92 444.35L565.96 442.47L574.49 439.62L579.1 433.06L585.05 427.84L588.83 423.66L595.61 416.76L597.78 414.25L604.82 404.85L606.17 399.77L607.26 395.45L606.84 386.04L606.23 376.64L606.61 367.23L609.77 357.83L616.74 349.78L618.93 348.43L616.74 342.67L606.17 339.91L604.54 339.02L595.61 335.97L587.37 329.62L585.05 328.01L576.58 320.21L574.49 316.39L572.1 310.81L568.91 301.4L563.92 296.61L556.13 292L553.36 292L542.8 292L532.24 292L524.12 292L532.24 296.77L542.8 299.83L547.72 301.4L553.36 309.49L553.84 310.81L554.83 320.21L563.92 325.98L567.99 329.62L574.49 332.66L581.99 339.02L585.05 342.34L591.42 348.43L595.61 354.43L597.69 357.83L599.58 367.23L599.99 376.64L600.32 386.04L600.57 395.45L598.07 404.85L595.61 408.14L590.56 414.25L585.05 419.85L579.85 423.66L574.49 428.36L566.88 433.06L563.92 434.7L553.36 438.09L542.8 436.22L532.24 440.93L531.06 442.47L531.88 451.87L523.18 461.27L521.67 462.52L514.74 470.68L511.11 474.1L503.19 480.08L511.11 487.64L512.69 489.49L511.11 495.07L509.94 498.89L511.11 499.99L520.8 508.3L519.05 517.7ZM550.98 470.68L553.36 468.88L563.92 469.78L565.47 470.68L563.92 475.38L553.36 473.87ZM489.99 417.78L493.51 414.25L490.69 404.85L489.99 404.22L489.37 404.85L487.35 414.25ZM500.55 336.67L511.11 336.93L521.67 330.66L523.34 329.62L521.67 320.21L521.67 320.21L511.11 315.63L500.55 316.69L492.63 320.21L494.21 329.62Z" fill="#8fff70" stroke="#8fff70" stroke-width="0.3" fill-rule="evenodd"/>
<path d="M384.36 517.7L394.93 517.7L396.39 517.7L396.99 508.3L398.29 498.89L394.93 489.49L394.93 489.49L394.93 489.49L398.89 480.08L398.73 470.68L400.21 461.27L401.54 451.87L405.49 445.52L407.58 442.47L408.11 433.06L408.54 423.66L410.26 414.25L411.97 404.85L416.05 402.6L426.61 397.58L431.49 395.45L437.18 391.98L444.22 386.04L447.74 381.7L451.63 376.64L455.79 367.23L458.3 360.52L459.86 357.83L461.18 348.43L458.3 341.37L456.79 339.02L447.74 330.96L437.18 330.79L426.61 330.4L416.05 330.43L405.49 331.71L394.93 333.65L384.36 335.26L373.8 336.67L373.8 339.02L373.8 346.72L384.36 344.81L394.93 343.05L405.49 340.9L414.54 339.02L416.05 338.61L426.61 338.24L437.18 338.63L438.35 339.02L447.74 342.16L453.37 348.43L452.67 357.83L450.76 367.23L447.74 373.5L445.62 376.64L438.35 386.04L437.18 387.03L426.61 393.81L423.59 395.45L416.05 399.02L405.49 404.85L405.49 404.85L403.38 414.25L401.45 423.66L400.32 433.06L399.01 442.47L394.93 449.49L391.82 451.87L384.36 456.41L373.8 459.52L373.8 461.27L373.8 470.68L373.8 480.08L373.8 487.61L375.91 489.49L384.36 498.89L383.04 508.3L380.84 517.7ZM563.92 517.7L574.49 517.7L583.24 517.7L585.05 508.33L585.06 508.3L595.61 501.15L600.06 498.89L606.17 496.46L616.74 494.24L627.3 493.91L627.3 489.49L627.3 480.08L627.3 470.68L627.3 464.33L621.54 461.27L616.74 459.29L606.17 456.72L595.61 454.9L586.62 451.87L585.05 450.1L582.92 442.47L585.05 439.2L588.72 433.06L595.61 424.85L596.39 423.66L604.45 414.25L606.17 411.96L611.41 404.85L613.64 395.45L613.5 386.04L613.35 376.64L615.26 367.23L616.74 364.95L626.77 357.83L627.3 357.46L627.3 348.43L627.3 339.02L627.3 329.62L627.3 320.21L627.3 310.81L627.3 309.6L626.35 310.81L618.25 320.21L616.74 321.65L606.17 323.19L597.64 320.21L595.61 319.49L585.05 310.81L585.05 310.81L580.59 301.4L574.49 292.22L574.27 292L563.92 292L556.13 292L563.92 296.61L568.91 301.4L572.1 310.81L574.49 316.39L576.58 320.21L585.05 328.01L587.37 329.62L595.61 335.97L604.54 339.02L606.17 339.91L616.74 342.67L618.93 348.43L616.74 349.78L609.77 357.83L606.61 367.23L606.23 376.64L606.84 386.04L607.26 395.45L606.17 399.77L604.82 404.85L597.78 414.25L595.61 416.76L588.83 423.66L585.05 427.84L579.1 433.06L574.49 439.62L565.96 442.47L563.92 444.35L556.88 451.87L563.92 459.39L566.95 461.27L574.49 463.45L585.05 466.51L595.61 468.95L603.24 470.68L606.17 474.76L609.47 480.08L606.17 481.07L595.61 484.51L587.83 489.49L585.05 490.71L574.49 495.42L563.92 498.89L563.92 498.89L555.32 508.3L562.32 517.7ZM380.14 320.21L384.36 314.84L386.8 310.81L392.04 301.4L394.93 292L385.32 292L384.36 295.13L380.14 301.4L374.91 310.81L373.8 311.98L373.8 320.21L373.8 324.91Z" fill="#bfff40" stroke="#bfff40" stroke-width="0.3" fill-rule="evenodd"/>
<path d="M383.04 508.3L384.36 498.89L375.91 489.49L373.8 487.61L373.8 489.49L373.8 498.89L373.8 508.3L373.8 517.7L380.84 517.7ZM585.05 517.7L595.61 517.7L601.64 517.7L606.17 511.2L611.6 508.3L616.74 507.14L619.16 508.3L620.7 517.7L627.3 517.7L627.3 508.3L627.3 498.89L627.3 493.91L616.74 494.24L606.17 496.46L600.06 498.89L595.61 501.15L585.06 508.3L585.05 508.33L583.24 517.7ZM627.3 464.33L627.3 461.27L627.3 452.29L626.34 451.87L616.74 447.59L606.17 444.9L600.19 442.47L599.11 433.06L603.92 423.66L606.17 420.95L611.9 414.25L616.74 407.01L618.06 404.85L619.96 395.45L620.45 386.04L621.9 376.64L627.3 368.68L627.3 367.23L627.3 357.83L627.3 357.46L626.77 357.83L616.74 364.95L615.26 367.23L613.35 376.64L613.5 386.04L613.64 395.45L611.41 404.85L606.17 411.96L604.45 414.25L596.39 423.66L595.61 424.85L588.72 433.06L585.05 439.2L582.92 442.47L585.05 450.1L586.62 451.87L595.61 454.9L606.17 456.72L616.74 459.29L621.54 461.27ZM384.36 456.41L391.82 451.87L394.93 449.49L399.01 442.47L400.32 433.06L401.45 423.66L403.38 414.25L405.49 404.85L405.49 404.85L416.05 399.02L423.59 395.45L426.61 393.81L437.18 387.03L438.35 386.04L445.62 376.64L447.74 373.5L450.76 367.23L452.67 357.83L453.37 348.43L447.74 342.16L438.35 339.02L437.18 338.63L426.61 338.24L416.05 338.61L414.54 339.02L405.49 340.9L394.93 343.05L384.36 344.81L373.8 346.72L373.8 348.43L373.8 357.83L373.8 361.86L381.72 357.83L384.36 356.26L394.93 350.78L400.21 348.43L405.49 347.17L416.05 345.4L426.61 344.86L437.18 345.64L444.22 348.43L443.78 357.83L443.51 367.23L438.58 376.64L437.18 378.52L432.2 386.04L426.61 389.72L416.05 395.45L416.05 395.45L405.49 400.15L398.45 404.85L396.33 414.25L394.93 420.97L394.34 423.66L392.28 433.06L389.08 442.47L384.36 446.3L373.8 450.91L373.8 451.87L373.8 459.52ZM606.17 323.19L616.74 321.65L618.25 320.21L626.35 310.81L627.3 309.6L627.3 301.4L627.3 292L620.06 292L616.74 297.5L610.48 301.4L606.17 303.57L599.56 301.4L595.61 297.22L594.1 292L585.05 292L574.49 292L574.27 292L574.49 292.22L580.59 301.4L585.05 310.81L585.05 310.81L595.61 319.49L597.64 320.21ZM374.91 310.81L380.14 301.4L384.36 295.13L385.32 292L384.36 292L373.8 292L373.8 301.4L373.8 310.81L373.8 311.98Z" fill="#efff10" stroke="#efff10" stroke-width="0.3" fill-rule="evenodd"/>
<path d="M606.17 517.7L616.74 517.7L620.7 517.7L619.16 508.3L616.74 507.14L611.6 508.3L606.17 511.2L601.64 517.7ZM627.3 452.29L627.3 451.87L627.3 442.47L627.3 438.19L616.74 434.98L614.06 433.06L613.73 423.66L616.74 419.64L621.89 414.25L625.17 404.85L626.22 395.45L627.3 388.15L627.3 386.04L627.3 376.64L627.3 368.68L621.9 376.64L620.45 386.04L619.96 395.45L618.06 404.85L616.74 407.01L611.9 414.25L606.17 420.95L603.92 423.66L599.11 433.06L600.19 442.47L606.17 444.9L616.74 447.59L626.34 451.87ZM384.36 446.3L389.08 442.47L392.28 433.06L394.34 423.66L394.93 420.97L396.33 414.25L398.45 404.85L405.49 400.15L416.05 395.45L416.05 395.45L426.61 389.72L432.2 386.04L437.18 378.52L438.58 376.64L443.51 367.23L443.78 357.83L444.22 348.43L437.18 345.64L426.61 344.86L416.05 345.4L405.49 347.17L400.21 348.43L394.93 350.78L384.36 356.26L381.72 357.83L373.8 361.86L373.8 367.23L373.8 375.29L381.72 367.23L384.36 365.52L394.93 360.96L405.49 357.83L405.49 357.83L416.05 356.38L421.33 357.83L426.61 359.4L432.48 367.23L430.13 376.64L426.61 384.16L425.8 386.04L416.05 391.17L405.49 395.45L405.49 395.45L394.93 401.49L391.62 404.85L388.67 414.25L387 423.66L384.36 431.02L383.04 433.06L375.35 442.47L373.8 443.23L373.8 450.91ZM606.17 303.57L610.48 301.4L616.74 297.5L620.06 292L616.74 292L606.17 292L595.61 292L594.1 292L595.61 297.22L599.56 301.4Z" fill="#ffcf00" stroke="#ffcf00" stroke-width="0.3" fill-rule="evenodd"/>
<path d="M375.35 442.47L383.04 433.06L384.36 431.02L387 423.66L388.67 414.25L391.62 404.85L394.93 401.49L405.49 395.45L405.49 395.45L416.05 391.17L425.8 386.04L426.61 384.16L430.13 376.64L432.48 367.23L426.61 359.4L421.33 357.83L416.05 356.38L405.49 357.83L405.49 357.83L394.93 360.96L384.36 365.52L381.72 367.23L373.8 375.29L373.8 376.64L373.8 386.04L373.8 395.45L373.8 395.45L373.8 395.45L380.84 386.04L384.36 379.77L386.48 376.64L394.93 370.37L401.97 367.23L405.49 366.38L416.05 364.88L420.01 367.23L420.27 376.64L417.68 386.04L416.05 386.9L405.49 389.57L394.93 393.88L392.28 395.45L385.02 404.85L384.36 406.56L378.77 414.25L377.17 423.66L373.8 428.36L373.8 433.06L373.8 442.47L373.8 443.23ZM616.74 434.98L627.3 438.19L627.3 433.06L627.3 423.66L627.3 414.25L627.3 404.85L627.3 395.45L627.3 388.15L626.22 395.45L625.17 404.85L621.89 414.25L616.74 419.64L613.73 423.66L614.06 433.06Z" fill="#ff8f00" stroke="#ff8f00" stroke-width="0.3" fill-rule="evenodd"/>
<path d="M377.17 423.66L378.77 414.25L384.36 406.56L385.02 404.85L392.28 395.45L394.93 393.88L405.49 389.57L416.05 386.9L417.68 386.04L420.27 376.64L420.01 367.23L416.05 364.88L405.49 366.38L401.97 367.23L394.93 370.37L386.48 376.64L384.36 379.77L380.84 386.04L373.8 395.45L373.8 395.45L373.8 404.85L373.8 414.25L373.8 423.66L373.8 428.36Z" fill="#ff7000" stroke="#ff7000" stroke-width="0.3" fill-rule="evenodd"/>
<path d="M447.74 449.99L443.93 442.47L443.46 433.06L446.42 423.66L447.74 421.78L458.3 421.31L458.68 423.66L463.58 433.06L463.1 442.47L458.3 447.17L447.74 449.99M553.36 391.38L547.59 386.04L545.02 376.64L546.14 367.23L553.36 358.98L563.92 360.71L569.45 367.23L571.2 376.64L569.51 386.04L563.92 392.71Z" fill="none" stroke="#111" stroke-width="0.8" stroke-linejoin="round"/>
<path d="M447.74 454.89L443.94 451.87L437.18 443.91L435.4 442.47L436.38 433.06L437.18 426.42L437.62 423.66L443.51 414.25L447.74 409.55L453.02 404.85L458.3 401.96L460.52 404.85L461.51 414.25L462.45 423.66L468.86 430.93L472.59 433.06L472.38 442.47L468.86 446.23L463.1 451.87L458.3 453.23ZM553.36 400.61L546.19 395.45L542.8 392.29L538.8 386.04L535.57 376.64L535.62 367.23L539.96 357.83L542.8 355.04L553.36 349.44L563.92 351.05L574.49 357.78L574.53 357.83L578.17 367.23L579.74 376.64L578.65 386.04L574.49 393.96L573.4 395.45L563.92 401.76L553.36 400.61" fill="none" stroke="#111" stroke-width="0.8" stroke-linejoin="round"/>
<path d="M432.95 517.7L433.11 508.3L437.18 500.46L438.14 498.89L447.74 493.01L458.3 491.25L468.86 493.25L479.43 498L480.31 498.89L486.03 508.3L487.88 517.7M501.63 292L500.55 293.39L489.99 296.44L479.43 295.11L471.23 292M447.74 458.25L439.71 451.87L437.18 448.89L429.3 442.47L429.73 433.06L430.21 423.66L433.33 414.25L437.18 407.41L439.29 404.85L447.74 401.32L457.34 395.45L458.3 394.64L460.41 395.45L466.08 404.85L466.11 414.25L466.22 423.66L468.86 426.65L479.43 432.37L480.29 433.06L481.55 442.47L479.43 445.15L473.56 451.87L468.86 453.96L458.3 455.96ZM563.92 414.61L558.96 414.25L553.36 413.53L542.8 410.68L532.24 405.72L531.54 404.85L528.58 395.45L526.75 386.04L521.67 378.19L520.74 376.64L514.14 367.23L521.67 364.77L525.85 357.83L532.24 351.62L535.41 348.43L542.8 344.49L553.36 341.78L563.92 343.02L572.84 348.43L574.49 349.52L581.32 357.83L585.05 365.12L586.11 367.23L587.41 376.64L587.03 386.04L586.12 395.45L585.05 398.48L579.98 404.85L574.49 409.41L565 414.25ZM489.99 381.33L483.78 376.64L482.77 367.23L489.99 358.61L491.11 357.83L500.55 353.61L511.11 357.7L511.35 357.83L511.11 359.14L510.4 367.23L505.37 376.64L500.55 380.96Z" fill="none" stroke="#111" stroke-width="0.8" stroke-linejoin="round"/>
<path d="M420.93 517.7L419.09 508.3L426.61 500.24L427.62 498.89L435.41 489.49L437.18 488.44L447.74 484L458.3 482.54L468.86 483.85L479.43 488.55L480.93 489.49L489.11 498.89L489.99 500.07L500.55 506.17L502.87 508.3L500.55 517.7L500.55 517.7M512.37 292L512.66 301.4L511.11 302.31L500.55 305.71L489.99 307.76L479.43 310.08L471.9 310.81L468.86 311.11L458.3 310.81L458.3 310.81L447.74 310.38L437.18 308.74L426.61 301.68L426.43 301.4L424.41 292M447.74 462.03L445.62 461.27L437.18 456.57L430.13 451.87L426.61 449.4L422.89 442.47L422.95 433.06L422.9 423.66L424.43 414.25L426.31 404.85L426.61 404.71L437.18 401.13L447.74 395.45L447.74 395.45L458.3 386.6L459.26 386.04L465.98 376.64L468.86 369.58L470.04 367.23L478.15 357.83L479.43 356.48L488.73 348.43L489.99 347.15L500.55 344.66L511.11 344.71L521.67 344.15L532.24 339.35L533.05 339.02L542.8 335.13L553.36 333.84L563.92 335.54L570.12 339.02L574.49 341.62L581.19 348.43L585.05 353.37L588.82 357.83L592.76 367.23L593.73 376.64L593.75 386.04L593.61 395.45L590.58 404.85L585.05 411.68L582.01 414.25L574.49 419.66L563.92 423.66L563.92 423.66L563.92 423.66L553.36 423.17L542.8 420.63L532.24 418.31L525.84 414.25L521.67 404.85L521.67 404.85L521.67 395.45L511.11 394.28L500.55 393.56L489.99 392.87L479.43 394.27L477.92 395.45L476.41 404.85L477.31 414.25L477.92 423.66L479.43 424.07L489.99 432.05L491.34 433.06L494.29 442.47L489.99 451.87L489.99 451.87L479.43 457.75L468.86 459.19L458.3 458.69L448.74 461.27Z" fill="none" stroke="#111" stroke-width="0.8" stroke-linejoin="round"/>
<path d="M410.64 517.7L407.48 508.3L409.9 498.89L414.54 489.49L416.05 488.44L426.61 482.77L431.89 480.08L437.18 476.66L447.74 472.85L458.3 473.15L468.86 470.98L469.37 470.68L468.86 470.38L458.3 462.84L447.74 469.55L437.18 467.21L428.73 461.27L426.61 459.79L416.05 451.87L416.05 451.87L416.05 451.87L416.25 442.47L416.05 433.06L416.05 433.06L415.62 423.66L416.05 420.97L417.14 414.25L418.82 404.85L426.61 401.15L437.18 396.76L439.61 395.45L447.74 388.73L450.91 386.04L457.19 376.64L458.3 373.95L462.07 367.23L467.69 357.83L468.86 353.8L473.09 348.43L479.43 340.36L480.6 339.02L481.54 329.62L479.43 328.76L468.86 325.59L458.3 322.57L447.74 321.82L437.18 322.06L426.61 321.36L418.17 320.21L416.05 319.53L406.11 310.81L407.45 301.4L410.09 292M524.12 292L532.24 296.77L542.8 299.83L547.72 301.4L553.36 309.49L553.84 310.81L554.83 320.21L563.92 325.98L567.99 329.62L574.49 332.66L581.99 339.02L585.05 342.34L591.42 348.43L595.61 354.43L597.69 357.83L599.58 367.23L599.99 376.64L600.32 386.04L600.57 395.45L598.07 404.85L595.61 408.14L590.56 414.25L585.05 419.85L579.85 423.66L574.49 428.36L566.88 433.06L563.92 434.7L553.36 438.09L542.8 436.22L532.24 440.93L531.06 442.47L531.88 451.87L523.18 461.27L521.67 462.52L514.74 470.68L511.11 474.1L503.19 480.08L511.11 487.64L512.69 489.49L511.11 495.07L509.94 498.89L511.11 499.99L520.8 508.3L519.05 517.7M553.36 473.87L550.98 470.68L553.36 468.88L563.92 469.78L565.47 470.68L563.92 475.38ZM489.99 417.78L493.51 414.25L490.69 404.85L489.99 404.22L489.37 404.85L487.35 414.25ZM500.55 336.67L511.11 336.93L521.67 330.66L523.34 329.62L521.67 320.21L521.67 320.21L511.11 315.63L500.55 316.69L492.63 320.21L494.21 329.62Z" fill="none" stroke="#111" stroke-width="0.8" stroke-linejoin="round"/>
<path d="M396.39 517.7L396.99 508.3L398.29 498.89L394.93 489.49L394.93 489.49L394.93 489.49L398.89 480.08L398.73 470.68L400.21 461.27L401.54 451.87L405.49 445.52L407.58 442.47L408.11 433.06L408.54 423.66L410.26 414.25L411.97 404.85L416.05 402.6L426.61 397.58L431.49 395.45L437.18 391.98L444.22 386.04L447.74 381.7L451.63 376.64L455.79 367.23L458.3 360.52L459.86 357.83L461.18 348.43L458.3 341.37L456.79 339.02L447.74 330.96L437.18 330.79L426.61 330.4L416.05 330.43L405.49 331.71L394.93 333.65L384.36 335.26L373.8 336.67M373.8 324.91L380.14 320.21L384.36 314.84L386.8 310.81L392.04 301.4L394.93 292M556.13 292L563.92 296.61L568.91 301.4L572.1 310.81L574.49 316.39L576.58 320.21L585.05 328.01L587.37 329.62L595.61 335.97L604.54 339.02L606.17 339.91L616.74 342.67L618.93 348.43L616.74 349.78L609.77 357.83L606.61 367.23L606.23 376.64L606.84 386.04L607.26 395.45L606.17 399.77L604.82 404.85L597.78 414.25L595.61 416.76L588.83 423.66L585.05 427.84L579.1 433.06L574.49 439.62L565.96 442.47L563.92 444.35L556.88 451.87L563.92 459.39L566.95 461.27L574.49 463.45L585.05 466.51L595.61 468.95L603.24 470.68L606.17 474.76L609.47 480.08L606.17 481.07L595.61 484.51L587.83 489.49L585.05 490.71L574.49 495.42L563.92 498.89L563.92 498.89L555.32 508.3L562.32 517.7" fill="none" stroke="#111" stroke-width="0.8" stroke-linejoin="round"/>
<path d="M380.84 517.7L383.04 508.3L384.36 498.89L375.91 489.49L373.8 487.61M627.3 493.91L616.74 494.24L606.17 496.46L600.06 498.89L595.61 501.15L585.06 508.3L585.05 508.33L583.24 517.7M373.8 459.52L384.36 456.41L391.82 451.87L394.93 449.49L399.01 442.47L400.32 433.06L401.45 423.66L403.38 414.25L405.49 404.85L405.49 404.85L416.05 399.02L423.59 395.45L426.61 393.81L437.18 387.03L438.35 386.04L445.62 376.64L447.74 373.5L450.76 367.23L452.67 357.83L453.37 348.43L447.74 342.16L438.35 339.02L437.18 338.63L426.61 338.24L416.05 338.61L414.54 339.02L405.49 340.9L394.93 343.05L384.36 344.81L373.8 346.72M627.3 357.46L626.77 357.83L616.74 364.95L615.26 367.23L613.35 376.64L613.5 386.04L613.64 395.45L611.41 404.85L606.17 411.96L604.45 414.25L596.39 423.66L595.61 424.85L588.72 433.06L585.05 439.2L582.92 442.47L585.05 450.1L586.62 451.87L595.61 454.9L606.17 456.72L616.74 459.29L621.54 461.27L627.3 464.33M373.8 311.98L374.91 310.81L380.14 301.4L384.36 295.13L385.32 292M574.27 292L574.49 292.22L580.59 301.4L585.05 310.81L585.05 310.81L595.61 319.49L597.64 320.21L606.17 323.19L616.74 321.65L618.25 320.21L626.35 310.81L627.3 309.6" fill="none" stroke="#111" stroke-width="0.8" stroke-linejoin="round"/>
<path d="M620.7 517.7L619.16 508.3L616.74 507.14L611.6 508.3L606.17 511.2L601.64 517.7M373.8 450.91L384.36 446.3L389.08 442.47L392.28 433.06L394.34 423.66L394.93 420.97L396.33 414.25L398.45 404.85L405.49 400.15L416.05 395.45L416.05 395.45L426.61 389.72L432.2 386.04L437.18 378.52L438.58 376.64L443.51 367.23L443.78 357.83L444.22 348.43L437.18 345.64L426.61 344.86L416.05 345.4L405.49 347.17L400.21 348.43L394.93 350.78L384.36 356.26L381.72 357.83L373.8 361.86M627.3 368.68L621.9 376.64L620.45 386.04L619.96 395.45L618.06 404.85L616.74 407.01L611.9 414.25L606.17 420.95L603.92 423.66L599.11 433.06L600.19 442.47L606.17 444.9L616.74 447.59L626.34 451.87L627.3 452.29M594.1 292L595.61 297.22L599.56 301.4L606.17 303.57L610.48 301.4L616.74 297.5L620.06 292" fill="none" stroke="#111" stroke-width="0.8" stroke-linejoin="round"/>
<path d="M373.8 443.23L375.35 442.47L383.04 433.06L384.36 431.02L387 423.66L388.67 414.25L391.62 404.85L394.93 401.49L405.49 395.45L405.49 395.45L416.05 391.17L425.8 386.04L426.61 384.16L430.13 376.64L432.48 367.23L426.61 359.4L421.33 357.83L416.05 356.38L405.49 357.83L405.49 357.83L394.93 360.96L384.36 365.52L381.72 367.23L373.8 375.29M627.3 388.15L626.22 395.45L625.17 404.85L621.89 414.25L616.74 419.64L613.73 423.66L614.06 433.06L616.74 434.98L627.3 438.19" fill="none" stroke="#111" stroke-width="0.8" stroke-linejoin="round"/>
<path d="M373.8 428.36L377.17 423.66L378.77 414.25L384.36 406.56L385.02 404.85L392.28 395.45L394.93 393.88L405.49 389.57L416.05 386.9L417.68 386.04L420.27 376.64L420.01 367.23L416.05 364.88L405.49 366.38L401.97 367.23L394.93 370.37L386.48 376.64L384.36 379.77L380.84 386.04L373.8 395.45L373.8 395.45" fill="none" stroke="#111" stroke-width="0.8" stroke-linejoin="round"/>
</g>
<path d="M373.8 517.7v-2.6M373.8 292v2.6M394.93 517.7v-2.6M394.93 292v2.6M416.05 517.7v-2.6M416.05 292v2.6M437.18 517.7v-2.6M437.18 292v2.6M458.3 517.7v-2.6M458.3 292v2.6M479.43 517.7v-2.6M479.43 292v2.6M500.55 517.7v-2.6M500.55 292v2.6M521.67 517.7v-2.6M521.67 292v2.6M542.8 517.7v-2.6M542.8 292v2.6M563.92 517.7v-2.6M563.92 292v2.6M585.05 517.7v-2.6M585.05 292v2.6M606.17 517.7v-2.6M606.17 292v2.6M627.3 517.7v-2.6M627.3 292v2.6M373.8 292h2.6M627.3 292h-2.6M373.8 310.81h2.6M627.3 310.81h-2.6M373.8 329.62h2.6M627.3 329.62h-2.6M373.8 348.43h2.6M627.3 348.43h-2.6M373.8 367.23h2.6M627.3 367.23h-2.6M373.8 386.04h2.6M627.3 386.04h-2.6M373.8 404.85h2.6M627.3 404.85h-2.6M373.8 423.66h2.6M627.3 423.66h-2.6M373.8 442.47h2.6M627.3 442.47h-2.6M373.8 461.27h2.6M627.3 461.27h-2.6M373.8 480.08h2.6M627.3 480.08h-2.6M373.8 498.89h2.6M627.3 498.89h-2.6M373.8 517.7h2.6M627.3 517.7h-2.6" stroke="#222" stroke-width="0.6" fill="none"/>
<rect x="373.8" y="292" width="253.5" height="225.7" fill="none" stroke="#222" stroke-width="0.8"/>
<text x="371" y="528.7" text-anchor="middle">−180</text>
<text x="392.12" y="528.7" text-anchor="middle">−150</text>
<text x="413.25" y="528.7" text-anchor="middle">−120</text>
<text x="434.38" y="528.7" text-anchor="middle">−90</text>
<text x="455.5" y="528.7" text-anchor="middle">−60</text>
<text x="476.62" y="528.7" text-anchor="middle">−30</text>
<text x="500.55" y="528.7" text-anchor="middle">0</text>
<text x="521.67" y="528.7" text-anchor="middle">30</text>
<text x="542.8" y="528.7" text-anchor="middle">60</text>
<text x="563.92" y="528.7" text-anchor="middle">90</text>
<text x="585.05" y="528.7" text-anchor="middle">120</text>
<text x="606.17" y="528.7" text-anchor="middle">150</text>
<text x="627.3" y="528.7" text-anchor="middle">180</text>
<text x="371.6" y="521.1" text-anchor="end">0</text>
<text x="371.6" y="502.29" text-anchor="end">2</text>
<text x="371.6" y="483.48" text-anchor="end">4</text>
<text x="371.6" y="464.68" text-anchor="end">6</text>
<text x="371.6" y="445.87" text-anchor="end">8</text>
<text x="371.6" y="427.06" text-anchor="end">10</text>
<text x="371.6" y="408.25" text-anchor="end">12</text>
<text x="371.6" y="389.44" text-anchor="end">14</text>
<text x="371.6" y="370.63" text-anchor="end">16</text>
<text x="371.6" y="351.83" text-anchor="end">18</text>
<text x="371.6" y="333.02" text-anchor="end">20</text>
<text x="371.6" y="314.21" text-anchor="end">22</text>
<text x="371.6" y="295.4" text-anchor="end">24</text>
<text x="500.55" y="538.3" text-anchor="middle">Geographic longitude [°]</text>
<text transform="translate(356.2 404.85) rotate(-90)" text-anchor="middle">Magnetic local Time [h]</text>
<text x="366.2" y="284">Migrating tides meridional wind Southern Hemi[−40°~−60°] 400km</text>
<linearGradient id="cb11" x1="0" y1="0" x2="0" y2="1"><stop offset="0.0000%" stop-color="#800000"/><stop offset="1.5625%" stop-color="#800000"/><stop offset="1.5625%" stop-color="#8f0000"/><stop offset="3.1250%" stop-color="#8f0000"/><stop offset="3.1250%" stop-color="#9f0000"/><stop offset="4.6875%" stop-color="#9f0000"/><stop offset="4.6875%" stop-color="#af0000"/><stop offset="6.2500%" stop-color="#af0000"/><stop offset="6.2500%" stop-color="#bf0000"/><stop offset="7.8125%" stop-color="#bf0000"/><stop offset="7.8125%" stop-color="#cf0000"/><stop offset="9.3750%" stop-color="#cf0000"/><stop offset="9.3750%" stop-color="#df0000"/><stop offset="10.9375%" stop-color="#df0000"/><stop offset="10.9375%" stop-color="#ef0000"/><stop offset="12.5000%" stop-color="#ef0000"/><stop offset="12.5000%" stop-color="#ff0000"/><stop offset="14.0625%" stop-color="#ff0000"/><stop offset="14.0625%" stop-color="#ff1000"/><stop offset="15.6250%" stop-color="#ff1000"/><stop offset="15.6250%" stop-color="#ff2000"/><stop offset="17.1875%" stop-color="#ff2000"/><stop offset="17.1875%" stop-color="#ff3000"/><stop offset="18.7500%" stop-color="#ff3000"/><stop offset="18.7500%" stop-color="#ff4000"/><stop offset="20.3125%" stop-color="#ff4000"/><stop offset="20.3125%" stop-color="#ff5000"/><stop offset="21.8750%" stop-color="#ff5000"/><stop offset="21.8750%" stop-color="#ff6000"/><stop offset="23.4375%" stop-color="#ff6000"/><stop offset="23.4375%" stop-color="#ff7000"/><stop offset="25.0000%" stop-color="#ff7000"/><stop offset="25.0000%" stop-color="#ff8000"/><stop offset="26.5625%" stop-color="#ff8000"/><stop offset="26.5625%" stop-color="#ff8f00"/><stop offset="28.1250%" stop-color="#ff8f00"/><stop offset="28.1250%" stop-color="#ff9f00"/><stop offset="29.6875%" stop-color="#ff9f00"/><stop offset="29.6875%" stop-color="#ffaf00"/><stop offset="31.2500%" stop-color="#ffaf00"/><stop offset="31.2500%" stop-color="#ffbf00"/><stop offset="32.8125%" stop-color="#ffbf00"/><stop offset="32.8125%" stop-color="#ffcf00"/><stop offset="34.3750%" stop-color="#ffcf00"/><stop offset="34.3750%" stop-color="#ffdf00"/><stop offset="35.9375%" stop-color="#ffdf00"/><stop offset="35.9375%" stop-color="#ffef00"/><stop offset="37.5000%" stop-color="#ffef00"/><stop offset="37.5000%" stop-color="#ffff00"/><stop offset="39.0625%" stop-color="#ffff00"/><stop offset="39.0625%" stop-color="#efff10"/><stop offset="40.6250%" stop-color="#efff10"/><stop offset="40.6250%" stop-color="#dfff20"/><stop offset="42.1875%" stop-color="#dfff20"/><stop offset="42.1875%" stop-color="#cfff30"/><stop offset="43.7500%" stop-color="#cfff30"/><stop offset="43.7500%" stop-color="#bfff40"/><stop offset="45.3125%" stop-color="#bfff40"/><stop offset="45.3125%" stop-color="#afff50"/><stop offset="46.8750%" stop-color="#afff50"/><stop offset="46.8750%" stop-color="#9fff60"/><stop offset="48.4375%" stop-color="#9fff60"/><stop offset="48.4375%" stop-color="#8fff70"/><stop offset="50.0000%" stop-color="#8fff70"/><stop offset="50.0000%" stop-color="#80ff80"/><stop offset="51.5625%" stop-color="#80ff80"/><stop offset="51.5625%" stop-color="#70ff8f"/><stop offset="53.1250%" stop-color="#70ff8f"/><stop offset="53.1250%" stop-color="#60ff9f"/><stop offset="54.6875%" stop-color="#60ff9f"/><stop offset="54.6875%" stop-color="#50ffaf"/><stop offset="56.2500%" stop-color="#50ffaf"/><stop offset="56.2500%" stop-color="#40ffbf"/><stop offset="57.8125%" stop-color="#40ffbf"/><stop offset="57.8125%" stop-color="#30ffcf"/><stop offset="59.3750%" stop-color="#30ffcf"/><stop offset="59.3750%" stop-color="#20ffdf"/><stop offset="60.9375%" stop-color="#20ffdf"/><stop offset="60.9375%" stop-color="#10ffef"/><stop offset="62.5000%" stop-color="#10ffef"/><stop offset="62.5000%" stop-color="#00ffff"/><stop offset="64.0625%" stop-color="#00ffff"/><stop offset="64.0625%" stop-color="#00efff"/><stop offset="65.6250%" stop-color="#00efff"/><stop offset="65.6250%" stop-color="#00dfff"/><stop offset="67.1875%" stop-color="#00dfff"/><stop offset="67.1875%" stop-color="#00cfff"/><stop offset="68.7500%" stop-color="#00cfff"/><stop offset="68.7500%" stop-color="#00bfff"/><stop offset="70.3125%" stop-color="#00bfff"/><stop offset="70.3125%" stop-color="#00afff"/><stop offset="71.8750%" stop-color="#00afff"/><stop offset="71.8750%" stop-color="#009fff"/><stop offset="73.4375%" stop-color="#009fff"/><stop offset="73.4375%" stop-color="#008fff"/><stop offset="75.0000%" stop-color="#008fff"/><stop offset="75.0000%" stop-color="#0080ff"/><stop offset="76.5625%" stop-color="#0080ff"/><stop offset="76.5625%" stop-color="#0070ff"/><stop offset="78.1250%" stop-color="#0070ff"/><stop offset="78.1250%" stop-color="#0060ff"/><stop offset="79.6875%" stop-color="#0060ff"/><stop offset="79.6875%" stop-color="#0050ff"/><stop offset="81.2500%" stop-color="#0050ff"/><stop offset="81.2500%" stop-color="#0040ff"/><stop offset="82.8125%" stop-color="#0040ff"/><stop offset="82.8125%" stop-color="#0030ff"/><stop offset="84.3750%" stop-color="#0030ff"/><stop offset="84.3750%" stop-color="#0020ff"/><stop offset="85.9375%" stop-color="#0020ff"/><stop offset="85.9375%" stop-color="#0010ff"/><stop offset="87.5000%" stop-color="#0010ff"/><stop offset="87.5000%" stop-color="#0000ff"/><stop offset="89.0625%" stop-color="#0000ff"/><stop offset="89.0625%" stop-color="#0000ef"/><stop offset="90.6250%" stop-color="#0000ef"/><stop offset="90.6250%" stop-color="#0000df"/><stop offset="92.1875%" stop-color="#0000df"/><stop offset="92.1875%" stop-color="#0000cf"/><stop offset="93.7500%" stop-color="#0000cf"/><stop offset="93.7500%" stop-color="#0000bf"/><stop offset="95.3125%" stop-color="#0000bf"/><stop offset="95.3125%" stop-color="#0000af"/><stop offset="96.8750%" stop-color="#0000af"/><stop offset="96.8750%" stop-color="#00009f"/><stop offset="98.4375%" stop-color="#00009f"/><stop offset="98.4375%" stop-color="#00008f"/><stop offset="100.0000%" stop-color="#00008f"/></linearGradient>
<rect x="636.9" y="292" width="13.5" height="225.7" fill="url(#cb11)"/>
<path d="M636.9 517.7h2M650.4 517.7h-2M636.9 495.13h2M650.4 495.13h-2M636.9 472.56h2M650.4 472.56h-2M636.9 449.99h2M650.4 449.99h-2M636.9 427.42h2M650.4 427.42h-2M636.9 404.85h2M650.4 404.85h-2M636.9 382.28h2M650.4 382.28h-2M636.9 359.71h2M650.4 359.71h-2M636.9 337.14h2M650.4 337.14h-2M636.9 314.57h2M650.4 314.57h-2M636.9 292h2M650.4 292h-2" stroke="#222" stroke-width="0.6" fill="none"/>
<rect x="636.9" y="292" width="13.5" height="225.7" fill="none" stroke="#222" stroke-width="0.8"/>
<text x="651.6" y="521.1">−10</text>
<text x="651.6" y="498.53">−8</text>
<text x="651.6" y="475.96">−6</text>
<text x="651.6" y="453.39">−4</text>
<text x="651.6" y="430.82">−2</text>
<text x="651.6" y="408.25">0</text>
<text x="651.6" y="385.68">2</text>
<text x="651.6" y="363.11">4</text>
<text x="651.6" y="340.54">6</text>
<text x="651.6" y="317.97">8</text>
<text x="651.6" y="295.4">10</text>
<text transform="translate(681.4 404.85) rotate(-90)" text-anchor="middle">Δ Ne 10<tspan dy="-3.5" font-size="7">10</tspan><tspan dy="3.5"> m</tspan><tspan dy="-3.5" font-size="7">−3</tspan></text>
<clipPath id="clip20"><rect x="26" y="565.3" width="253.5" height="225.7"/></clipPath>
<g clip-path="url(#clip20)">
<path d="M216.12 682.41L225.44 678.15L226.69 677.7L237.25 669.75L238.61 668.75L247.81 659.49L247.97 659.34L247.81 659.07L237.25 650.22L226.69 650.89L216.12 657.24L214.68 659.34L211.55 668.75L210.7 678.15Z" fill="#008fff" stroke="#008fff" stroke-width="0.3" fill-rule="evenodd"/>
<path d="M205.56 695.25L216.12 696.96L226.69 692.15L233.29 687.55L237.25 684.12L243.84 678.15L247.81 675.15L256.66 668.75L258.38 667.19L265.84 659.34L263.52 649.94L258.38 646.85L247.81 642.8L237.25 641.4L226.69 642.98L216.12 647.55L213.63 649.94L207.48 659.34L205.56 662.91L202.36 668.75L197.09 678.15L197.04 687.55ZM210.7 678.15L211.55 668.75L214.68 659.34L216.12 657.24L226.69 650.89L237.25 650.22L247.81 659.07L247.97 659.34L247.81 659.49L238.61 668.75L237.25 669.75L226.69 677.7L225.44 678.15L216.12 682.41Z" fill="#00bfff" stroke="#00bfff" stroke-width="0.3" fill-rule="evenodd"/>
<path d="M205.56 791L216.12 791L226.69 791L237.25 791L237.25 791L237.25 791L229.94 781.6L226.69 774.22L225.04 772.19L216.12 766.55L208.3 772.19L205.56 774.17L199.4 781.6L195 791ZM216.12 758.09L220.75 753.38L224.61 743.98L216.9 734.57L216.12 734.24L213.96 734.57L209.77 743.98L213.89 753.38ZM131.62 729.62L142.19 728.78L152.75 726.42L155.86 725.17L163.31 717.41L164.24 715.77L166.54 706.36L163.31 699.68L162.2 696.96L152.75 689.22L142.19 691.17L131.62 696.96L131.62 696.96L126.85 706.36L124.52 715.77L123.48 725.17ZM195 703.54L205.56 706.16L216.12 705.59L226.69 702.11L237.25 697.48L238.98 696.96L247.81 691.89L252.18 687.55L258.38 680.45L259.92 678.15L268.94 670.96L271.09 668.75L277.37 659.34L279.35 649.94L268.94 640.71L268.6 640.53L258.38 637.51L247.81 635.54L237.25 634.88L226.69 635.89L216.12 639.67L214.84 640.53L205.56 649.76L205.45 649.94L200.82 659.34L195.01 668.75L195 668.75L188.97 678.15L186.2 687.55L186.39 696.96ZM197.04 687.55L197.09 678.15L202.36 668.75L205.56 662.91L207.48 659.34L213.63 649.94L216.12 647.55L226.69 642.98L237.25 641.4L247.81 642.8L258.38 646.85L263.52 649.94L265.84 659.34L258.38 667.19L256.66 668.75L247.81 675.15L243.84 678.15L237.25 684.12L233.29 687.55L226.69 692.15L216.12 696.96L205.56 695.25ZM110.5 621.72L121.06 616.74L131.62 612.47L132.14 612.32L142.19 605L144.83 602.92L148.53 593.51L143.95 584.11L142.19 583.7L131.62 583.82L121.06 584.11L121.06 584.11L110.5 592.16L108.94 593.51L106.49 602.92L104.76 612.32ZM205.56 565.34L216.12 567.96L226.26 565.3L216.12 565.3L205.56 565.3L205.51 565.3Z" fill="#00efff" stroke="#00efff" stroke-width="0.3" fill-rule="evenodd"/>
<path d="M32.81 781.6L36.56 775.88L38.5 772.19L42.13 762.79L37.68 753.38L36.56 752.86L26 747.42L26 753.38L26 762.79L26 772.19L26 781.6L26 791L32.86 791ZM173.88 791L184.44 791L195 791L195 791L199.4 781.6L205.56 774.17L208.3 772.19L216.12 766.55L225.04 772.19L226.69 774.22L229.94 781.6L237.25 791L237.25 791L247.81 791L258.38 791L268.94 791L279.5 791L279.5 781.6L279.5 772.19L279.5 762.79L279.5 756.16L268.94 754.64L264.2 753.38L259.28 743.98L259.9 734.57L259.23 725.17L258.93 715.77L260.7 706.36L268.79 696.96L268.94 696L269.71 687.55L275.07 678.15L279.5 673.43L279.5 668.75L279.5 659.34L279.5 649.94L279.5 640.53L279.5 632.32L268.94 631.29L267.87 631.13L258.38 629.81L247.81 628.73L237.25 628.22L226.69 628.49L216.12 631.02L215.93 631.13L205.56 637.05L201.76 640.53L197.31 649.94L195 656.89L193.86 659.34L186.71 668.75L184.44 672.58L173.88 675.04L163.31 675.59L152.75 677.3L151.26 678.15L142.19 682.82L136.91 687.55L131.62 691.14L125.48 696.96L121.06 703.3L118.09 706.36L110.5 714.81L108.71 715.77L103.5 725.17L104.61 734.57L108.44 743.98L110.5 745.46L121.06 746.7L131.62 745.52L142.19 744.16L144.57 743.98L152.75 743.35L162.89 743.98L163.31 744.02L173.88 745.98L184.44 748.48L191.45 753.38L189.31 762.79L184.44 766.69L173.88 772.19L173.88 772.19L166.91 781.6L170.93 791ZM213.89 753.38L209.77 743.98L213.96 734.57L216.12 734.24L216.9 734.57L224.61 743.98L220.75 753.38L216.12 758.09ZM123.48 725.17L124.52 715.77L126.85 706.36L131.62 696.96L131.62 696.96L142.19 691.17L152.75 689.22L162.2 696.96L163.31 699.68L166.54 706.36L164.24 715.77L163.31 717.41L155.86 725.17L152.75 726.42L142.19 728.78L131.62 729.62ZM231.82 725.17L226.69 721.45L221.63 715.77L226.69 713.26L237.25 708.85L247.81 710.48L256.32 715.77L256.11 725.17L247.81 727.62L237.25 727.44ZM186.39 696.96L186.2 687.55L188.97 678.15L195 668.75L195.01 668.75L200.82 659.34L205.45 649.94L205.56 649.76L214.84 640.53L216.12 639.67L226.69 635.89L237.25 634.88L247.81 635.54L258.38 637.51L268.6 640.53L268.94 640.71L279.35 649.94L277.37 659.34L271.09 668.75L268.94 670.96L259.92 678.15L258.38 680.45L252.18 687.55L247.81 691.89L238.98 696.96L237.25 697.48L226.69 702.11L216.12 705.59L205.56 706.16L195 703.54ZM36.56 664.22L47.12 659.81L47.92 659.34L57.69 652.6L68.25 650.03L71.21 649.94L78.81 649.53L89.37 640.53L89.38 640.53L99.94 634.57L110.5 631.69L113.03 631.13L121.06 626.25L129.91 621.72L131.62 620.88L142.19 618.66L152.75 616.18L158.87 612.32L163.31 607.61L168.6 602.92L173.88 597.73L183.03 593.51L184.44 592.78L195 590.05L205.56 587.12L216.12 584.74L220.06 584.11L226.69 582.98L237.25 581.19L247.81 579.16L258.38 576.32L261.91 574.7L268.94 571.03L279.5 565.91L279.5 565.3L268.94 565.3L258.38 565.3L247.81 565.3L237.25 565.3L226.69 565.3L226.26 565.3L216.12 567.96L205.56 565.34L205.51 565.3L195 565.3L184.44 565.3L173.88 565.3L163.31 565.3L152.75 565.3L151.58 565.3L144.83 574.7L142.19 575.52L131.62 578.12L121.06 579.52L112.94 584.11L110.5 585.97L101.78 593.51L99.94 598.99L98.29 602.92L92.01 612.32L89.38 615.6L78.81 619.71L68.25 621.72L68.25 621.73L57.69 623.68L47.12 626.56L36.56 630.34L33.97 631.13L26 633.08L26 640.53L26 649.94L26 659.34L26 665.69ZM104.76 612.32L106.49 602.92L108.94 593.51L110.5 592.16L121.06 584.11L121.06 584.11L131.62 583.82L142.19 583.7L143.95 584.11L148.53 593.51L144.83 602.92L142.19 605L132.14 612.32L131.62 612.47L121.06 616.74L110.5 621.72Z" fill="#40ffbf" stroke="#40ffbf" stroke-width="0.3" fill-rule="evenodd"/>
<path d="M36.56 791L47.12 791L50.66 791L48.75 781.6L52.51 772.19L56.5 762.79L57.49 753.38L47.12 747.6L36.56 744.02L36.49 743.98L26 735.73L26 743.98L26 747.42L36.56 752.86L37.68 753.38L42.13 762.79L38.5 772.19L36.56 775.88L32.81 781.6L32.86 791ZM142.19 789.03L142.98 791L152.75 791L163.31 791L170.93 791L166.91 781.6L173.88 772.19L173.88 772.19L184.44 766.69L189.31 762.79L191.45 753.38L184.44 748.48L173.88 745.98L163.31 744.02L162.89 743.98L152.75 743.35L144.57 743.98L142.19 744.16L131.62 745.52L121.06 746.7L110.5 745.46L108.44 743.98L104.61 734.57L103.5 725.17L108.71 715.77L110.5 714.81L118.09 706.36L121.06 703.3L125.48 696.96L131.62 691.14L136.91 687.55L142.19 682.82L151.26 678.15L152.75 677.3L163.31 675.59L173.88 675.04L184.44 672.58L186.71 668.75L193.86 659.34L195 656.89L197.31 649.94L201.76 640.53L205.56 637.05L215.93 631.13L216.12 631.02L226.69 628.49L237.25 628.22L247.81 628.73L258.38 629.81L267.87 631.13L268.94 631.29L279.5 632.32L279.5 631.13L279.5 621.72L279.5 620.66L268.94 620.52L258.38 620.86L247.81 620.94L237.25 620.1L226.69 618.23L216.12 617.35L207.42 621.72L205.56 622.43L195 629.81L193.1 631.13L184.63 640.53L184.44 642.91L183.78 649.94L180.55 659.34L174.04 668.75L173.88 668.82L163.31 669.2L152.75 668.84L142.19 674.04L140.41 678.15L131.62 686L129.94 687.55L121.06 695.81L119.19 696.96L110.5 705.6L108.11 706.36L99.94 710.44L89.38 715.77L89.38 715.77L87.91 725.17L89.38 734.57L86.03 743.98L89.38 753.38L89.38 753.38L99.94 757.04L110.5 758.57L121.06 759.32L131.62 761.48L134.03 762.79L138.6 772.19L139.75 781.6ZM268.94 754.64L279.5 756.16L279.5 753.38L279.5 743.98L279.5 737.19L277.64 734.57L275.35 725.17L270.35 715.77L270.35 706.36L275.96 696.96L279.5 690.3L279.5 687.55L279.5 678.15L279.5 673.43L275.07 678.15L269.71 687.55L268.94 696L268.79 696.96L260.7 706.36L258.93 715.77L259.23 725.17L259.9 734.57L259.28 743.98L264.2 753.38ZM237.25 727.44L247.81 727.62L256.11 725.17L256.32 715.77L247.81 710.48L237.25 708.85L226.69 713.26L221.63 715.77L226.69 721.45L231.82 725.17ZM26.66 678.15L36.56 672.3L47.12 669.2L48.58 668.75L57.69 664.76L68.25 661.42L78.81 664.44L80.62 659.34L89.38 651.48L90.42 649.94L99.94 641.36L101.23 640.53L110.5 634.88L121.06 632.75L127.71 631.13L131.62 629.01L142.19 627.38L152.75 627.54L163.31 626.06L171.15 621.72L173.88 619.51L184.43 612.32L184.44 612.32L195 609.02L205.56 604.33L207.15 602.92L216.12 599.18L226.69 596.7L237.25 595.47L247.81 593.88L249.42 593.51L258.38 591.9L268.94 588.48L274.52 584.11L279.5 580.17L279.5 574.7L279.5 565.91L268.94 571.03L261.91 574.7L258.38 576.32L247.81 579.16L237.25 581.19L226.69 582.98L220.06 584.11L216.12 584.74L205.56 587.12L195 590.05L184.44 592.78L183.03 593.51L173.88 597.73L168.6 602.92L163.31 607.61L158.87 612.32L152.75 616.18L142.19 618.66L131.62 620.88L129.91 621.72L121.06 626.25L113.03 631.13L110.5 631.69L99.94 634.57L89.38 640.53L89.37 640.53L78.81 649.53L71.21 649.94L68.25 650.03L57.69 652.6L47.92 659.34L47.12 659.81L36.56 664.22L26 665.69L26 668.75L26 678.15L26 679.71ZM33.97 631.13L36.56 630.34L47.12 626.56L57.69 623.68L68.25 621.72L68.25 621.72L78.81 619.71L89.38 615.6L92.01 612.32L98.29 602.92L99.94 598.99L101.78 593.51L110.5 585.97L112.94 584.11L121.06 579.52L131.62 578.12L142.19 575.52L144.83 574.7L151.58 565.3L142.19 565.3L131.62 565.3L121.06 565.3L121.06 565.3L121.06 565.3L122.24 574.7L121.06 574.93L110.5 579.41L101.26 584.11L99.94 585.22L93.88 593.51L89.38 602.92L89.38 602.92L78.81 604.72L74.77 602.92L68.25 598.62L57.69 598.2L50.8 602.92L47.12 605.62L38.23 612.32L36.56 613.22L26 620.45L26 621.72L26 631.13L26 633.08ZM27.03 574.7L36.56 570.37L44.83 565.3L36.56 565.3L26 565.3L26 574.7L26 575.64Z" fill="#80ff80" stroke="#80ff80" stroke-width="0.3" fill-rule="evenodd"/>
<path d="M57.69 791L67.44 791L64.38 781.6L68.25 772.19L68.25 772.19L78.81 767.52L89.38 767.59L99.94 767.83L108.56 772.19L110.5 781.6L110.5 781.6L111.67 791L121.06 791L131.62 791L142.19 791L142.98 791L142.19 789.03L139.75 781.6L138.6 772.19L134.03 762.79L131.62 761.48L121.06 759.32L110.5 758.57L99.94 757.04L89.38 753.38L89.38 753.38L86.03 743.98L89.38 734.57L87.91 725.17L89.38 715.77L89.38 715.77L99.94 710.44L108.11 706.36L110.5 705.6L119.19 696.96L121.06 695.81L129.94 687.55L131.62 686L140.41 678.15L142.19 674.04L152.75 668.84L163.31 669.2L173.88 668.82L174.04 668.75L180.55 659.34L183.78 649.94L184.44 642.91L184.63 640.53L193.1 631.13L195 629.81L205.56 622.43L207.42 621.72L216.12 617.35L226.69 618.23L237.25 620.1L247.81 620.94L258.38 620.86L268.94 620.52L279.5 620.66L279.5 612.32L279.5 602.92L279.5 593.51L279.5 584.11L279.5 580.17L274.52 584.11L268.94 588.48L258.38 591.9L249.42 593.51L247.81 593.88L237.25 595.47L226.69 596.7L216.12 599.18L207.15 602.92L205.56 604.33L195 609.02L184.44 612.32L184.43 612.32L173.88 619.51L171.15 621.72L163.31 626.06L152.75 627.54L142.19 627.38L131.62 629.01L127.71 631.13L121.06 632.75L110.5 634.88L101.23 640.53L99.94 641.36L90.42 649.94L89.38 651.48L80.62 659.34L78.81 664.44L68.25 661.42L57.69 664.76L48.58 668.75L47.12 669.2L36.56 672.3L26.66 678.15L26 679.71L26 687.55L26 696.96L26 706.36L26 715.77L26 725.17L26 734.57L26 735.73L36.49 743.98L36.56 744.02L47.12 747.6L57.49 753.38L56.5 762.79L52.51 772.19L48.75 781.6L50.66 791ZM35.82 734.57L32.27 725.17L32.84 715.77L33.15 706.36L32.97 696.96L33.6 687.55L36.56 682.51L47.12 680.18L56.99 687.55L57.69 688.83L62.44 696.96L67.34 706.36L68.25 715.77L63.71 725.17L57.69 731.69L53.77 734.57L47.12 736.7L36.56 735.17ZM86.17 696.96L82.43 687.55L81.71 678.15L83.24 668.75L86.74 659.34L89.38 656.97L94.16 649.94L99.94 644.73L106.48 640.53L110.5 638.08L121.06 636.38L131.62 636.17L142.19 637.27L152.75 639.54L156.18 640.53L163.27 649.94L152.75 659.34L152.75 659.34L142.19 664.5L140 668.75L135.87 678.15L131.62 681.94L125.54 687.55L121.06 691.72L112.5 696.96L110.5 698.95L99.94 697.38L89.38 698.49ZM279.5 737.19L279.5 734.57L279.5 725.17L279.5 715.77L279.5 706.36L279.5 696.96L279.5 690.3L275.96 696.96L270.35 706.36L270.35 715.77L275.35 725.17L277.64 734.57ZM36.56 613.22L38.23 612.32L47.12 605.62L50.8 602.92L57.69 598.2L68.25 598.62L74.77 602.92L78.81 604.72L89.38 602.92L89.38 602.92L93.88 593.51L99.94 585.22L101.26 584.11L110.5 579.41L121.06 574.93L122.24 574.7L121.06 565.3L121.06 565.3L111 565.3L110.5 566.64L104.16 574.7L99.94 576.41L89.38 583.06L78.81 577.06L68.25 574.7L68.25 574.7L65.85 565.3L57.69 565.3L47.12 565.3L44.83 565.3L36.56 570.37L27.03 574.7L26 575.64L26 584.11L26 593.51L26 602.92L26 612.32L26 620.45Z" fill="#bfff40" stroke="#bfff40" stroke-width="0.3" fill-rule="evenodd"/>
<path d="M68.25 791L78.81 791L86.54 791L87.89 781.6L89.38 780.98L99.94 780.49L100.66 781.6L99.94 785.55L94.61 791L99.94 791L110.5 791L111.67 791L110.5 781.6L110.5 781.6L108.56 772.19L99.94 767.83L89.38 767.59L78.81 767.52L68.25 772.19L68.25 772.19L64.38 781.6L67.44 791ZM36.56 735.17L47.12 736.7L53.77 734.57L57.69 731.69L63.71 725.17L68.25 715.77L67.34 706.36L62.44 696.96L57.69 688.83L56.99 687.55L47.12 680.18L36.56 682.51L33.6 687.55L32.97 696.96L33.15 706.36L32.84 715.77L32.27 725.17L35.82 734.57ZM43.23 706.36L47.12 698L51.15 706.36L47.12 714.72ZM89.38 698.49L99.94 697.38L110.5 698.95L112.5 696.96L121.06 691.72L125.54 687.55L131.62 681.94L135.87 678.15L140 668.75L142.19 664.5L152.75 659.34L152.75 659.34L163.27 649.94L156.18 640.53L152.75 639.54L142.19 637.27L131.62 636.17L121.06 636.38L110.5 638.08L106.48 640.53L99.94 644.73L94.16 649.94L89.38 656.97L86.74 659.34L83.24 668.75L81.71 678.15L82.43 687.55L86.17 696.96ZM94.74 687.55L89.38 679.07L88.94 678.15L89.13 668.75L89.38 668.11L91.41 659.34L97.89 649.94L99.94 648.1L110.5 641.39L117.04 640.53L121.06 640.01L124.07 640.53L131.62 643.05L139.94 649.94L139.67 659.34L135.58 668.75L131.62 677.51L131.2 678.15L121.14 687.55L121.06 687.63L110.5 692.21L99.94 690.88ZM78.81 577.06L89.38 583.06L99.94 576.41L104.16 574.7L110.5 566.64L111 565.3L110.5 565.3L100.47 565.3L99.94 565.85L89.38 566.64L87.26 565.3L78.81 565.3L68.25 565.3L65.85 565.3L68.25 574.7L68.25 574.7Z" fill="#efff10" stroke="#efff10" stroke-width="0.3" fill-rule="evenodd"/>
<path d="M89.38 791L94.61 791L99.94 785.55L100.66 781.6L99.94 780.49L89.38 780.98L87.89 781.6L86.54 791ZM47.12 714.72L51.15 706.36L47.12 698L43.23 706.36ZM99.94 690.88L110.5 692.21L121.06 687.63L121.14 687.55L131.2 678.15L131.62 677.51L135.58 668.75L139.67 659.34L139.94 649.94L131.62 643.05L124.07 640.53L121.06 640.01L117.04 640.53L110.5 641.39L99.94 648.1L97.89 649.94L91.41 659.34L89.38 668.11L89.13 668.75L88.94 678.15L89.38 679.07L94.74 687.55ZM94.07 678.15L92.8 668.75L94.98 659.34L99.94 652.25L102.62 649.94L110.5 645.05L121.06 644.8L131.5 649.94L131.62 650.34L133.39 659.34L131.62 666.18L130.88 668.75L124.68 678.15L121.06 681.55L110.5 685.86L99.94 684.87ZM89.38 566.64L99.94 565.85L100.47 565.3L99.94 565.3L89.38 565.3L87.26 565.3Z" fill="#ffcf00" stroke="#ffcf00" stroke-width="0.3" fill-rule="evenodd"/>
<path d="M99.94 684.87L110.5 685.86L121.06 681.55L124.68 678.15L130.88 668.75L131.62 666.18L133.39 659.34L131.62 650.34L131.5 649.94L121.06 644.8L110.5 645.05L102.62 649.94L99.94 652.25L94.98 659.34L92.8 668.75L94.07 678.15ZM99.06 678.15L96.38 668.75L98.55 659.34L99.94 657.36L108.53 649.94L110.5 648.71L121.06 649.78L121.39 649.94L126.57 659.34L123.81 668.75L121.06 673.13L115.68 678.15L110.5 680.46L99.94 679.15Z" fill="#ff9f00" stroke="#ff9f00" stroke-width="0.3" fill-rule="evenodd"/>
<path d="M99.94 679.15L110.5 680.46L115.68 678.15L121.06 673.13L123.81 668.75L126.57 659.34L121.39 649.94L121.06 649.78L110.5 648.71L108.53 649.94L99.94 657.36L98.55 659.34L96.38 668.75L99.06 678.15ZM100.01 668.75L104.99 659.34L110.5 654.64L118.46 659.34L115.77 668.75L110.5 673.59Z" fill="#ff7000" stroke="#ff7000" stroke-width="0.3" fill-rule="evenodd"/>
<path d="M110.5 673.59L115.77 668.75L118.46 659.34L110.5 654.64L104.99 659.34L100.01 668.75Z" fill="#ff4000" stroke="#ff4000" stroke-width="0.3" fill-rule="evenodd"/>
<path d="M216.12 682.41L210.7 678.15L211.55 668.75L214.68 659.34L216.12 657.24L226.69 650.89L237.25 650.22L247.81 659.07L247.97 659.34L247.81 659.49L238.61 668.75L237.25 669.75L226.69 677.7L225.44 678.15Z" fill="none" stroke="#111" stroke-width="0.8" stroke-linejoin="round"/>
<path d="M205.56 695.25L197.04 687.55L197.09 678.15L202.36 668.75L205.56 662.91L207.48 659.34L213.63 649.94L216.12 647.55L226.69 642.98L237.25 641.4L247.81 642.8L258.38 646.85L263.52 649.94L265.84 659.34L258.38 667.19L256.66 668.75L247.81 675.15L243.84 678.15L237.25 684.12L233.29 687.55L226.69 692.15L216.12 696.96Z" fill="none" stroke="#111" stroke-width="0.8" stroke-linejoin="round"/>
<path d="M195 791L199.4 781.6L205.56 774.17L208.3 772.19L216.12 766.55L225.04 772.19L226.69 774.22L229.94 781.6L237.25 791L237.25 791M226.26 565.3L216.12 567.96L205.56 565.34L205.51 565.3M216.12 758.09L213.89 753.38L209.77 743.98L213.96 734.57L216.12 734.24L216.9 734.57L224.61 743.98L220.75 753.38ZM131.62 729.62L123.48 725.17L124.52 715.77L126.85 706.36L131.62 696.96L131.62 696.96L142.19 691.17L152.75 689.22L162.2 696.96L163.31 699.68L166.54 706.36L164.24 715.77L163.31 717.41L155.86 725.17L152.75 726.42L142.19 728.78ZM195 703.54L186.39 696.96L186.2 687.55L188.97 678.15L195 668.75L195.01 668.75L200.82 659.34L205.45 649.94L205.56 649.76L214.84 640.53L216.12 639.67L226.69 635.89L237.25 634.88L247.81 635.54L258.38 637.51L268.6 640.53L268.94 640.71L279.35 649.94L277.37 659.34L271.09 668.75L268.94 670.96L259.92 678.15L258.38 680.45L252.18 687.55L247.81 691.89L238.98 696.96L237.25 697.48L226.69 702.11L216.12 705.59L205.56 706.16ZM110.5 621.72L104.76 612.32L106.49 602.92L108.94 593.51L110.5 592.16L121.06 584.11L121.06 584.11L131.62 583.82L142.19 583.7L143.95 584.11L148.53 593.51L144.83 602.92L142.19 605L132.14 612.32L131.62 612.47L121.06 616.74Z" fill="none" stroke="#111" stroke-width="0.8" stroke-linejoin="round"/>
<path d="M170.93 791L166.91 781.6L173.88 772.19L173.88 772.19L184.44 766.69L189.31 762.79L191.45 753.38L184.44 748.48L173.88 745.98L163.31 744.02L162.89 743.98L152.75 743.35L144.57 743.98L142.19 744.16L131.62 745.52L121.06 746.7L110.5 745.46L108.44 743.98L104.61 734.57L103.5 725.17L108.71 715.77L110.5 714.81L118.09 706.36L121.06 703.3L125.48 696.96L131.62 691.14L136.91 687.55L142.19 682.82L151.26 678.15L152.75 677.3L163.31 675.59L173.88 675.04L184.44 672.58L186.71 668.75L193.86 659.34L195 656.89L197.31 649.94L201.76 640.53L205.56 637.05L215.93 631.13L216.12 631.02L226.69 628.49L237.25 628.22L247.81 628.73L258.38 629.81L267.87 631.13L268.94 631.29L279.5 632.32M26 747.42L36.56 752.86L37.68 753.38L42.13 762.79L38.5 772.19L36.56 775.88L32.81 781.6L32.86 791M279.5 673.43L275.07 678.15L269.71 687.55L268.94 696L268.79 696.96L260.7 706.36L258.93 715.77L259.23 725.17L259.9 734.57L259.28 743.98L264.2 753.38L268.94 754.64L279.5 756.16M26 633.08L33.97 631.13L36.56 630.34L47.12 626.56L57.69 623.68L68.25 621.72L68.25 621.72L78.81 619.71L89.38 615.6L92.01 612.32L98.29 602.92L99.94 598.99L101.78 593.51L110.5 585.97L112.94 584.11L121.06 579.52L131.62 578.12L142.19 575.52L144.83 574.7L151.58 565.3M279.5 565.91L268.94 571.03L261.91 574.7L258.38 576.32L247.81 579.16L237.25 581.19L226.69 582.98L220.06 584.11L216.12 584.74L205.56 587.12L195 590.05L184.44 592.78L183.03 593.51L173.88 597.73L168.6 602.92L163.31 607.61L158.87 612.32L152.75 616.18L142.19 618.66L131.62 620.88L129.91 621.72L121.06 626.25L113.03 631.13L110.5 631.69L99.94 634.57L89.38 640.53L89.37 640.53L78.81 649.53L71.21 649.94L68.25 650.03L57.69 652.6L47.92 659.34L47.12 659.81L36.56 664.22L26 665.69M237.25 727.44L247.81 727.62L256.11 725.17L256.32 715.77L247.81 710.48L237.25 708.85L226.69 713.26L221.63 715.77L226.69 721.45L231.82 725.17Z" fill="none" stroke="#111" stroke-width="0.8" stroke-linejoin="round"/>
<path d="M142.98 791L142.19 789.03L139.75 781.6L138.6 772.19L134.03 762.79L131.62 761.48L121.06 759.32L110.5 758.57L99.94 757.04L89.38 753.38L89.38 753.38L86.03 743.98L89.38 734.57L87.91 725.17L89.38 715.77L89.38 715.77L99.94 710.44L108.11 706.36L110.5 705.6L119.19 696.96L121.06 695.81L129.94 687.55L131.62 686L140.41 678.15L142.19 674.04L152.75 668.84L163.31 669.2L173.88 668.82L174.04 668.75L180.55 659.34L183.78 649.94L184.44 642.91L184.63 640.53L193.1 631.13L195 629.81L205.56 622.43L207.42 621.72L216.12 617.35L226.69 618.23L237.25 620.1L247.81 620.94L258.38 620.86L268.94 620.52L279.5 620.66M26 735.73L36.49 743.98L36.56 744.02L47.12 747.6L57.49 753.38L56.5 762.79L52.51 772.19L48.75 781.6L50.66 791M279.5 690.3L275.96 696.96L270.35 706.36L270.35 715.77L275.35 725.17L277.64 734.57L279.5 737.19M26 620.45L36.56 613.22L38.23 612.32L47.12 605.62L50.8 602.92L57.69 598.2L68.25 598.62L74.77 602.92L78.81 604.72L89.38 602.92L89.38 602.92L93.88 593.51L99.94 585.22L101.26 584.11L110.5 579.41L121.06 574.93L122.24 574.7L121.06 565.3L121.06 565.3M279.5 580.17L274.52 584.11L268.94 588.48L258.38 591.9L249.42 593.51L247.81 593.88L237.25 595.47L226.69 596.7L216.12 599.18L207.15 602.92L205.56 604.33L195 609.02L184.44 612.32L184.43 612.32L173.88 619.51L171.15 621.72L163.31 626.06L152.75 627.54L142.19 627.38L131.62 629.01L127.71 631.13L121.06 632.75L110.5 634.88L101.23 640.53L99.94 641.36L90.42 649.94L89.38 651.48L80.62 659.34L78.81 664.44L68.25 661.42L57.69 664.76L48.58 668.75L47.12 669.2L36.56 672.3L26.66 678.15L26 679.71M44.83 565.3L36.56 570.37L27.03 574.7L26 575.64" fill="none" stroke="#111" stroke-width="0.8" stroke-linejoin="round"/>
<path d="M111.67 791L110.5 781.6L110.5 781.6L108.56 772.19L99.94 767.83L89.38 767.59L78.81 767.52L68.25 772.19L68.25 772.19L64.38 781.6L67.44 791M65.85 565.3L68.25 574.7L68.25 574.7L78.81 577.06L89.38 583.06L99.94 576.41L104.16 574.7L110.5 566.64L111 565.3M36.56 735.17L47.12 736.7L53.77 734.57L57.69 731.69L63.71 725.17L68.25 715.77L67.34 706.36L62.44 696.96L57.69 688.83L56.99 687.55L47.12 680.18L36.56 682.51L33.6 687.55L32.97 696.96L33.15 706.36L32.84 715.77L32.27 725.17L35.82 734.57ZM89.38 698.49L99.94 697.38L110.5 698.95L112.5 696.96L121.06 691.72L125.54 687.55L131.62 681.94L135.87 678.15L140 668.75L142.19 664.5L152.75 659.34L152.75 659.34L163.27 649.94L156.18 640.53L152.75 639.54L142.19 637.27L131.62 636.17L121.06 636.38L110.5 638.08L106.48 640.53L99.94 644.73L94.16 649.94L89.38 656.97L86.74 659.34L83.24 668.75L81.71 678.15L82.43 687.55L86.17 696.96Z" fill="none" stroke="#111" stroke-width="0.8" stroke-linejoin="round"/>
<path d="M94.61 791L99.94 785.55L100.66 781.6L99.94 780.49L89.38 780.98L87.89 781.6L86.54 791M87.26 565.3L89.38 566.64L99.94 565.85L100.47 565.3M47.12 714.72L51.15 706.36L47.12 698L43.23 706.36ZM99.94 690.88L110.5 692.21L121.06 687.63L121.14 687.55L131.2 678.15L131.62 677.51L135.58 668.75L139.67 659.34L139.94 649.94L131.62 643.05L124.07 640.53L121.06 640.01L117.04 640.53L110.5 641.39L99.94 648.1L97.89 649.94L91.41 659.34L89.38 668.11L89.13 668.75L88.94 678.15L89.38 679.07L94.74 687.55Z" fill="none" stroke="#111" stroke-width="0.8" stroke-linejoin="round"/>
<path d="M99.94 684.87L110.5 685.86L121.06 681.55L124.68 678.15L130.88 668.75L131.62 666.18L133.39 659.34L131.62 650.34L131.5 649.94L121.06 644.8L110.5 645.05L102.62 649.94L99.94 652.25L94.98 659.34L92.8 668.75L94.07 678.15Z" fill="none" stroke="#111" stroke-width="0.8" stroke-linejoin="round"/>
<path d="M99.94 679.15L110.5 680.46L115.68 678.15L121.06 673.13L123.81 668.75L126.57 659.34L121.39 649.94L121.06 649.78L110.5 648.71L108.53 649.94L99.94 657.36L98.55 659.34L96.38 668.75L99.06 678.15Z" fill="none" stroke="#111" stroke-width="0.8" stroke-linejoin="round"/>
<path d="M110.5 673.59L115.77 668.75L118.46 659.34L110.5 654.64L104.99 659.34L100.01 668.75Z" fill="none" stroke="#111" stroke-width="0.8" stroke-linejoin="round"/>
</g>
<path d="M26 791v-2.6M26 565.3v2.6M47.12 791v-2.6M47.12 565.3v2.6M68.25 791v-2.6M68.25 565.3v2.6M89.38 791v-2.6M89.38 565.3v2.6M110.5 791v-2.6M110.5 565.3v2.6M131.62 791v-2.6M131.62 565.3v2.6M152.75 791v-2.6M152.75 565.3v2.6M173.88 791v-2.6M173.88 565.3v2.6M195 791v-2.6M195 565.3v2.6M216.12 791v-2.6M216.12 565.3v2.6M237.25 791v-2.6M237.25 565.3v2.6M258.38 791v-2.6M258.38 565.3v2.6M279.5 791v-2.6M279.5 565.3v2.6M26 565.3h2.6M279.5 565.3h-2.6M26 584.11h2.6M279.5 584.11h-2.6M26 602.92h2.6M279.5 602.92h-2.6M26 621.72h2.6M279.5 621.72h-2.6M26 640.53h2.6M279.5 640.53h-2.6M26 659.34h2.6M279.5 659.34h-2.6M26 678.15h2.6M279.5 678.15h-2.6M26 696.96h2.6M279.5 696.96h-2.6M26 715.77h2.6M279.5 715.77h-2.6M26 734.57h2.6M279.5 734.57h-2.6M26 753.38h2.6M279.5 753.38h-2.6M26 772.19h2.6M279.5 772.19h-2.6M26 791h2.6M279.5 791h-2.6" stroke="#222" stroke-width="0.6" fill="none"/>
<rect x="26" y="565.3" width="253.5" height="225.7" fill="none" stroke="#222" stroke-width="0.8"/>
<text x="23.2" y="802" text-anchor="middle">−180</text>
<text x="44.33" y="802" text-anchor="middle">−150</text>
<text x="65.45" y="802" text-anchor="middle">−120</text>
<text x="86.58" y="802" text-anchor="middle">−90</text>
<text x="107.7" y="802" text-anchor="middle">−60</text>
<text x="128.82" y="802" text-anchor="middle">−30</text>
<text x="152.75" y="802" text-anchor="middle">0</text>
<text x="173.88" y="802" text-anchor="middle">30</text>
<text x="195" y="802" text-anchor="middle">60</text>
<text x="216.12" y="802" text-anchor="middle">90</text>
<text x="237.25" y="802" text-anchor="middle">120</text>
<text x="258.38" y="802" text-anchor="middle">150</text>
<text x="279.5" y="802" text-anchor="middle">180</text>
<text x="23.8" y="794.4" text-anchor="end">0</text>
<text x="23.8" y="775.59" text-anchor="end">2</text>
<text x="23.8" y="756.78" text-anchor="end">4</text>
<text x="23.8" y="737.98" text-anchor="end">6</text>
<text x="23.8" y="719.17" text-anchor="end">8</text>
<text x="23.8" y="700.36" text-anchor="end">10</text>
<text x="23.8" y="681.55" text-anchor="end">12</text>
<text x="23.8" y="662.74" text-anchor="end">14</text>
<text x="23.8" y="643.93" text-anchor="end">16</text>
<text x="23.8" y="625.12" text-anchor="end">18</text>
<text x="23.8" y="606.32" text-anchor="end">20</text>
<text x="23.8" y="587.51" text-anchor="end">22</text>
<text x="23.8" y="568.7" text-anchor="end">24</text>
<text x="152.75" y="811.6" text-anchor="middle">Geographic longitude [°]</text>
<text transform="translate(8.4 678.15) rotate(-90)" text-anchor="middle">Magnetic local Time [h]</text>
<text x="22" y="557.3">Migrating tides total wind Northern Hemi[ 40  °~60°] 400km</text>
<linearGradient id="cb20" x1="0" y1="0" x2="0" y2="1"><stop offset="0.0000%" stop-color="#800000"/><stop offset="1.5625%" stop-color="#800000"/><stop offset="1.5625%" stop-color="#8f0000"/><stop offset="3.1250%" stop-color="#8f0000"/><stop offset="3.1250%" stop-color="#9f0000"/><stop offset="4.6875%" stop-color="#9f0000"/><stop offset="4.6875%" stop-color="#af0000"/><stop offset="6.2500%" stop-color="#af0000"/><stop offset="6.2500%" stop-color="#bf0000"/><stop offset="7.8125%" stop-color="#bf0000"/><stop offset="7.8125%" stop-color="#cf0000"/><stop offset="9.3750%" stop-color="#cf0000"/><stop offset="9.3750%" stop-color="#df0000"/><stop offset="10.9375%" stop-color="#df0000"/><stop offset="10.9375%" stop-color="#ef0000"/><stop offset="12.5000%" stop-color="#ef0000"/><stop offset="12.5000%" stop-color="#ff0000"/><stop offset="14.0625%" stop-color="#ff0000"/><stop offset="14.0625%" stop-color="#ff1000"/><stop offset="15.6250%" stop-color="#ff1000"/><stop offset="15.6250%" stop-color="#ff2000"/><stop offset="17.1875%" stop-color="#ff2000"/><stop offset="17.1875%" stop-color="#ff3000"/><stop offset="18.7500%" stop-color="#ff3000"/><stop offset="18.7500%" stop-color="#ff4000"/><stop offset="20.3125%" stop-color="#ff4000"/><stop offset="20.3125%" stop-color="#ff5000"/><stop offset="21.8750%" stop-color="#ff5000"/><stop offset="21.8750%" stop-color="#ff6000"/><stop offset="23.4375%" stop-color="#ff6000"/><stop offset="23.4375%" stop-color="#ff7000"/><stop offset="25.0000%" stop-color="#ff7000"/><stop offset="25.0000%" stop-color="#ff8000"/><stop offset="26.5625%" stop-color="#ff8000"/><stop offset="26.5625%" stop-color="#ff8f00"/><stop offset="28.1250%" stop-color="#ff8f00"/><stop offset="28.1250%" stop-color="#ff9f00"/><stop offset="29.6875%" stop-color="#ff9f00"/><stop offset="29.6875%" stop-color="#ffaf00"/><stop offset="31.2500%" stop-color="#ffaf00"/><stop offset="31.2500%" stop-color="#ffbf00"/><stop offset="32.8125%" stop-color="#ffbf00"/><stop offset="32.8125%" stop-color="#ffcf00"/><stop offset="34.3750%" stop-color="#ffcf00"/><stop offset="34.3750%" stop-color="#ffdf00"/><stop offset="35.9375%" stop-color="#ffdf00"/><stop offset="35.9375%" stop-color="#ffef00"/><stop offset="37.5000%" stop-color="#ffef00"/><stop offset="37.5000%" stop-color="#ffff00"/><stop offset="39.0625%" stop-color="#ffff00"/><stop offset="39.0625%" stop-color="#efff10"/><stop offset="40.6250%" stop-color="#efff10"/><stop offset="40.6250%" stop-color="#dfff20"/><stop offset="42.1875%" stop-color="#dfff20"/><stop offset="42.1875%" stop-color="#cfff30"/><stop offset="43.7500%" stop-color="#cfff30"/><stop offset="43.7500%" stop-color="#bfff40"/><stop offset="45.3125%" stop-color="#bfff40"/><stop offset="45.3125%" stop-color="#afff50"/><stop offset="46.8750%" stop-color="#afff50"/><stop offset="46.8750%" stop-color="#9fff60"/><stop offset="48.4375%" stop-color="#9fff60"/><stop offset="48.4375%" stop-color="#8fff70"/><stop offset="50.0000%" stop-color="#8fff70"/><stop offset="50.0000%" stop-color="#80ff80"/><stop offset="51.5625%" stop-color="#80ff80"/><stop offset="51.5625%" stop-color="#70ff8f"/><stop offset="53.1250%" stop-color="#70ff8f"/><stop offset="53.1250%" stop-color="#60ff9f"/><stop offset="54.6875%" stop-color="#60ff9f"/><stop offset="54.6875%" stop-color="#50ffaf"/><stop offset="56.2500%" stop-color="#50ffaf"/><stop offset="56.2500%" stop-color="#40ffbf"/><stop offset="57.8125%" stop-color="#40ffbf"/><stop offset="57.8125%" stop-color="#30ffcf"/><stop offset="59.3750%" stop-color="#30ffcf"/><stop offset="59.3750%" stop-color="#20ffdf"/><stop offset="60.9375%" stop-color="#20ffdf"/><stop offset="60.9375%" stop-color="#10ffef"/><stop offset="62.5000%" stop-color="#10ffef"/><stop offset="62.5000%" stop-color="#00ffff"/><stop offset="64.0625%" stop-color="#00ffff"/><stop offset="64.0625%" stop-color="#00efff"/><stop offset="65.6250%" stop-color="#00efff"/><stop offset="65.6250%" stop-color="#00dfff"/><stop offset="67.1875%" stop-color="#00dfff"/><stop offset="67.1875%" stop-color="#00cfff"/><stop offset="68.7500%" stop-color="#00cfff"/><stop offset="68.7500%" stop-color="#00bfff"/><stop offset="70.3125%" stop-color="#00bfff"/><stop offset="70.3125%" stop-color="#00afff"/><stop offset="71.8750%" stop-color="#00afff"/><stop offset="71.8750%" stop-color="#009fff"/><stop offset="73.4375%" stop-color="#009fff"/><stop offset="73.4375%" stop-color="#008fff"/><stop offset="75.0000%" stop-color="#008fff"/><stop offset="75.0000%" stop-color="#0080ff"/><stop offset="76.5625%" stop-color="#0080ff"/><stop offset="76.5625%" stop-color="#0070ff"/><stop offset="78.1250%" stop-color="#0070ff"/><stop offset="78.1250%" stop-color="#0060ff"/><stop offset="79.6875%" stop-color="#0060ff"/><stop offset="79.6875%" stop-color="#0050ff"/><stop offset="81.2500%" stop-color="#0050ff"/><stop offset="81.2500%" stop-color="#0040ff"/><stop offset="82.8125%" stop-color="#0040ff"/><stop offset="82.8125%" stop-color="#0030ff"/><stop offset="84.3750%" stop-color="#0030ff"/><stop offset="84.3750%" stop-color="#0020ff"/><stop offset="85.9375%" stop-color="#0020ff"/><stop offset="85.9375%" stop-color="#0010ff"/><stop offset="87.5000%" stop-color="#0010ff"/><stop offset="87.5000%" stop-color="#0000ff"/><stop offset="89.0625%" stop-color="#0000ff"/><stop offset="89.0625%" stop-color="#0000ef"/><stop offset="90.6250%" stop-color="#0000ef"/><stop offset="90.6250%" stop-color="#0000df"/><stop offset="92.1875%" stop-color="#0000df"/><stop offset="92.1875%" stop-color="#0000cf"/><stop offset="93.7500%" stop-color="#0000cf"/><stop offset="93.7500%" stop-color="#0000bf"/><stop offset="95.3125%" stop-color="#0000bf"/><stop offset="95.3125%" stop-color="#0000af"/><stop offset="96.8750%" stop-color="#0000af"/><stop offset="96.8750%" stop-color="#00009f"/><stop offset="98.4375%" stop-color="#00009f"/><stop offset="98.4375%" stop-color="#00008f"/><stop offset="100.0000%" stop-color="#00008f"/></linearGradient>
<rect x="289.1" y="565.3" width="13.5" height="225.7" fill="url(#cb20)"/>
<path d="M289.1 791h2M302.6 791h-2M289.1 768.43h2M302.6 768.43h-2M289.1 745.86h2M302.6 745.86h-2M289.1 723.29h2M302.6 723.29h-2M289.1 700.72h2M302.6 700.72h-2M289.1 678.15h2M302.6 678.15h-2M289.1 655.58h2M302.6 655.58h-2M289.1 633.01h2M302.6 633.01h-2M289.1 610.44h2M302.6 610.44h-2M289.1 587.87h2M302.6 587.87h-2M289.1 565.3h2M302.6 565.3h-2" stroke="#222" stroke-width="0.6" fill="none"/>
<rect x="289.1" y="565.3" width="13.5" height="225.7" fill="none" stroke="#222" stroke-width="0.8"/>
<text x="303.8" y="794.4">−10</text>
<text x="303.8" y="771.83">−8</text>
<text x="303.8" y="749.26">−6</text>
<text x="303.8" y="726.69">−4</text>
<text x="303.8" y="704.12">−2</text>
<text x="303.8" y="681.55">0</text>
<text x="303.8" y="658.98">2</text>
<text x="303.8" y="636.41">4</text>
<text x="303.8" y="613.84">6</text>
<text x="303.8" y="591.27">8</text>
<text x="303.8" y="568.7">10</text>
<text transform="translate(333.6 678.15) rotate(-90)" text-anchor="middle">Δ Ne 10<tspan dy="-3.5" font-size="7">10</tspan><tspan dy="3.5"> m</tspan><tspan dy="-3.5" font-size="7">−3</tspan></text>
<clipPath id="clip21"><rect x="373.8" y="565.3" width="253.5" height="225.7"/></clipPath>
<g clip-path="url(#clip21)">
<path d="M416.05 718.83L426.61 720.32L437.18 720.91L447.67 715.77L443.57 706.36L437.18 700.28L433.33 696.96L426.61 691.63L420.85 687.55L416.05 684.84L405.49 683.65L394.93 683.76L388.75 687.55L387.1 696.96L390.9 706.36L394.93 709.47L405.49 714.59L407.84 715.77Z" fill="#0000bf" stroke="#0000bf" stroke-width="0.3" fill-rule="evenodd"/>
<path d="M416.05 725.95L426.61 727.67L437.18 727.99L447.74 726.75L450.13 725.17L458 715.77L453.89 706.36L447.74 697.63L447.04 696.96L437.7 687.55L437.18 687.07L426.61 680.07L421.27 678.15L416.05 676.83L405.49 676.06L394.93 675.87L386.56 678.15L384.36 679.05L373.8 687.08L373.8 687.55L373.8 696.96L373.8 702.98L374.37 706.36L384.36 713.28L387.86 715.77L394.93 718.98L405.49 723.41L412.89 725.17ZM407.84 715.77L405.49 714.59L394.93 709.47L390.9 706.36L387.1 696.96L388.75 687.55L394.93 683.76L405.49 683.65L416.05 684.84L420.85 687.55L426.61 691.63L433.33 696.96L437.18 700.28L443.57 706.36L447.67 715.77L437.18 720.91L426.61 720.32L416.05 718.83Z" fill="#0030ff" stroke="#0030ff" stroke-width="0.3" fill-rule="evenodd"/>
<path d="M426.61 791L437.18 791L447.74 791L458.3 791L468.86 791L473.2 791L473.81 781.6L468.86 774.56L466.52 772.19L458.3 767.43L447.74 766.73L437.18 769.89L431.85 772.19L426.61 774.05L420.21 781.6L420.28 791ZM416.05 735.59L426.61 736.3L437.18 735.01L440.06 734.57L447.74 733.65L458.3 728.02L460.47 725.17L464.31 715.77L462.92 706.36L462.16 696.96L458.3 691.94L451.24 687.55L447.74 682.07L443.63 678.15L437.18 672.84L428.37 668.75L426.61 668.44L416.05 668.03L405.49 666.75L394.93 665.8L384.36 660.62L373.8 662.91L373.8 668.75L373.8 678.15L373.8 687.08L384.36 679.05L386.56 678.15L394.93 675.87L405.49 676.06L416.05 676.83L421.27 678.15L426.61 680.07L437.18 687.07L437.7 687.55L447.04 696.96L447.74 697.63L453.89 706.36L458 715.77L450.13 725.17L447.74 726.75L437.18 727.99L426.61 727.67L416.05 725.95L412.89 725.17L405.49 723.41L394.93 718.98L387.86 715.77L384.36 713.28L374.37 706.36L373.8 702.98L373.8 706.36L373.8 715.77L373.8 725.17L373.8 730.64L384.36 732.28L394.93 732.39L405.49 734.37L408.26 734.57ZM627.3 723.86L627.3 715.77L627.3 706.36L627.3 696.96L627.3 687.55L627.3 678.15L627.3 668.75L627.3 659.34L627.3 659.34L627.3 659.34L623.59 668.75L620.57 678.15L616.74 687.19L616.32 687.55L612.38 696.96L613.34 706.36L616.74 714.94L617.23 715.77ZM585.05 666.39L595.61 667.25L602.35 659.34L602.84 649.94L601.26 640.53L595.61 635.52L585.05 640.53L585.05 640.53L577.05 649.94L577.74 659.34ZM437.18 576.58L447.74 577.28L454.07 574.7L457.34 565.3L447.74 565.3L437.18 565.3L426.61 565.3L423.81 565.3L426.61 569.92L432.94 574.7ZM468.86 575.86L470.62 574.7L475.46 565.3L468.86 565.3L459.26 565.3L463.58 574.7Z" fill="#008fff" stroke="#008fff" stroke-width="0.3" fill-rule="evenodd"/>
<path d="M405.49 791L416.05 791L420.28 791L420.21 781.6L426.61 774.05L431.85 772.19L437.18 769.89L447.74 766.73L458.3 767.43L466.52 772.19L468.86 774.56L473.81 781.6L473.2 791L479.43 791L489.99 791L490.91 791L489.99 786.59L488.9 781.6L480.7 772.19L479.43 771.29L469.7 762.79L468.86 762.08L458.3 756.02L451.26 753.38L447.74 751.03L437.18 744.43L436.83 743.98L437.18 743.8L447.74 741.56L458.3 739.28L467.56 734.57L468.86 731.66L470.2 725.17L470.54 715.77L470.2 706.36L468.86 698.13L468.59 696.96L461.92 687.55L458.3 683.4L453.82 678.15L447.74 668.95L447.49 668.75L437.18 662.54L426.61 661.56L416.05 660.79L410.14 659.34L405.49 657.07L394.93 651.58L390.67 649.94L384.36 645.81L373.8 641.89L373.8 649.94L373.8 659.34L373.8 662.91L384.36 660.62L394.93 665.8L405.49 666.75L416.05 668.03L426.61 668.44L428.37 668.75L437.18 672.84L443.63 678.15L447.74 682.07L451.24 687.55L458.3 691.94L462.16 696.96L462.92 706.36L464.31 715.77L460.47 725.17L458.3 728.02L447.74 733.65L440.06 734.57L437.18 735.01L426.61 736.3L416.05 735.59L408.26 734.57L405.49 734.37L394.93 732.39L384.36 732.28L373.8 730.64L373.8 734.57L373.8 743.98L373.8 747L384.36 745.1L394.93 748.72L399.54 753.38L401.2 762.79L400.52 772.19L398.76 781.6L397.12 791ZM616.74 744.32L623.95 743.98L627.3 743.84L627.3 734.57L627.3 725.17L627.3 723.86L617.23 715.77L616.74 714.94L613.34 706.36L612.38 696.96L616.32 687.55L616.74 687.19L620.57 678.15L623.59 668.75L627.3 659.34L627.3 659.34L627.3 649.94L627.3 640.53L627.3 631.13L627.3 621.72L627.3 612.32L627.3 602.92L627.3 602.02L621.51 602.92L616.74 603.73L606.17 607.09L595.82 612.32L595.61 612.49L585.05 621.72L585.05 621.72L574.49 628.83L572.42 631.13L565.69 640.53L563.92 643.31L560.94 649.94L563.47 659.34L563.92 659.78L573.08 668.75L574.49 672.37L579.3 678.15L585.05 683.28L590.21 687.55L595.61 693.53L598.78 696.96L600.53 706.36L602.8 715.77L601.01 725.17L604.01 734.57L606.17 737.17L615.77 743.98ZM577.74 659.34L577.05 649.94L585.05 640.53L585.05 640.53L595.61 635.52L601.26 640.53L602.84 649.94L602.35 659.34L595.61 667.25L585.05 666.39ZM384.36 617.03L387.55 612.32L391.91 602.92L394.93 599.78L405.49 596.65L416.05 597.54L426.61 595.94L437.18 597.42L447.74 597.9L458.3 597.06L468.86 593.84L469.31 593.51L479.43 585.45L481.95 584.11L489.99 580.27L497.59 574.7L492.16 565.3L489.99 565.3L479.43 565.3L475.46 565.3L470.62 574.7L468.86 575.86L463.58 574.7L459.26 565.3L458.3 565.3L457.34 565.3L454.07 574.7L447.74 577.28L437.18 576.58L432.94 574.7L426.61 569.92L423.81 565.3L416.05 565.3L405.49 565.3L398.28 565.3L395.74 574.7L394.93 584.11L394.93 584.11L387.88 593.51L384.36 596.2L373.8 597.54L373.8 602.92L373.8 612.32L373.8 621.72Z" fill="#00dfff" stroke="#00dfff" stroke-width="0.3" fill-rule="evenodd"/>
<path d="M384.36 791L394.93 791L397.12 791L398.76 781.6L400.52 772.19L401.2 762.79L399.54 753.38L394.93 748.72L384.36 745.1L373.8 747L373.8 753.38L373.8 762.79L373.8 769.62L377.52 772.19L379.42 781.6L377.51 791ZM489.99 786.59L490.91 791L500.55 791L511.11 791L513.17 791L515.29 781.6L512.44 772.19L511.11 770.38L503.77 762.79L500.55 760.82L489.99 755.57L487.03 753.38L483.51 743.98L482.09 734.57L479.43 727.72L478.79 725.17L476.89 715.77L474.75 706.36L473.34 696.96L469.48 687.55L468.86 686.43L462.24 678.15L458.38 668.75L458.3 667.46L456.98 659.34L447.74 650.09L447.33 649.94L437.18 640.53L437.18 640.53L426.61 637.8L416.05 634.5L413.45 631.13L412.81 621.72L416.05 618.1L426.61 613.8L437.18 613.08L447.74 612.78L458.3 613.05L468.86 614.75L472.49 612.32L477.96 602.92L479.43 601.74L489.99 594.86L493.51 593.51L500.55 591.95L510 584.11L511.11 581.83L514.42 574.7L513.5 565.3L511.11 565.3L500.55 565.3L492.16 565.3L497.59 574.7L489.99 580.27L481.95 584.11L479.43 585.45L469.31 593.51L468.86 593.84L458.3 597.06L447.74 597.9L437.18 597.42L426.61 595.94L416.05 597.54L405.49 596.65L394.93 599.78L391.91 602.92L387.55 612.32L384.36 617.03L373.8 621.72L373.8 621.72L373.8 631.13L373.8 640.53L373.8 641.89L384.36 645.81L390.67 649.94L394.93 651.58L405.49 657.07L410.14 659.34L416.05 660.79L426.61 661.56L437.18 662.54L447.49 668.75L447.74 668.95L453.82 678.15L458.3 683.4L461.92 687.55L468.59 696.96L468.86 698.13L470.2 706.36L470.54 715.77L470.2 725.17L468.86 731.66L467.56 734.57L458.3 739.28L447.74 741.56L437.18 743.8L436.83 743.98L437.18 744.43L447.74 751.03L451.26 753.38L458.3 756.02L468.86 762.08L469.7 762.79L479.43 771.29L480.7 772.19L488.9 781.6ZM627.3 764.51L627.3 762.79L627.3 753.38L627.3 743.98L627.3 743.84L623.95 743.98L616.74 744.32L615.77 743.98L606.17 737.17L604.01 734.57L601.01 725.17L602.8 715.77L600.53 706.36L598.78 696.96L595.61 693.53L590.21 687.55L585.05 683.28L579.3 678.15L574.49 672.37L573.08 668.75L563.92 659.78L563.47 659.34L560.94 649.94L563.92 643.31L565.69 640.53L572.42 631.13L574.49 628.83L585.05 621.73L585.05 621.72L595.61 612.49L595.82 612.32L606.17 607.09L616.74 603.73L621.51 602.92L627.3 602.02L627.3 593.51L627.3 584.11L627.3 584.11L627.3 584.11L616.74 588.28L606.17 591.16L595.61 593.23L586.94 593.51L585.05 593.65L584.1 593.51L574.49 592.04L563.92 586.82L560.17 584.11L553.36 578.79L542.8 577.81L536.96 584.11L532.24 592.06L531.41 593.51L529.08 602.92L530.06 612.32L532.24 618.45L533.23 621.72L536.96 631.13L542.8 638.58L544.1 640.53L547.35 649.94L553.36 652.25L558.89 659.34L563.92 664.17L568.6 668.75L571.6 678.15L574.49 687.55L574.49 687.55L582.41 696.96L585.05 701.66L586.81 706.36L591.09 715.77L585.05 719.98L580.9 725.17L574.49 732.61L572.72 734.57L571.25 743.98L574.49 747.49L585.05 753.38L585.05 753.38L595.61 758.05L606.17 760.35L616.74 761.89L621.31 762.79ZM489.99 641.25L500.55 640.53L500.55 640.53L511.11 633.01L512.71 631.13L511.11 627.99L507.59 621.72L500.55 617.02L489.99 616.5L481.19 621.72L480.39 631.13L487.88 640.53ZM384.36 596.2L387.88 593.51L394.93 584.11L394.93 584.11L395.74 574.7L398.28 565.3L394.93 565.3L384.36 565.3L377.97 565.3L379.38 574.7L373.8 582.42L373.8 584.11L373.8 593.51L373.8 597.54Z" fill="#50ffaf" stroke="#50ffaf" stroke-width="0.3" fill-rule="evenodd"/>
<path d="M379.42 781.6L377.52 772.19L373.8 769.62L373.8 772.19L373.8 781.6L373.8 791L377.51 791ZM521.67 791L532.24 791L542.8 791L553.36 791L563.92 791L574.49 791L579.64 791L585.05 787.29L591.28 781.6L595.61 778.75L606.17 774.4L616.74 775.7L621.33 781.6L616.74 787.96L610.9 791L616.74 791L627.3 791L627.3 781.6L627.3 772.19L627.3 764.51L621.31 762.79L616.74 761.89L606.17 760.35L595.61 758.05L585.05 753.38L585.05 753.38L574.49 747.49L571.25 743.98L572.72 734.57L574.49 732.61L580.9 725.17L585.05 719.98L591.09 715.77L586.81 706.36L585.05 701.66L582.41 696.96L574.49 687.55L574.49 687.55L571.6 678.15L568.6 668.75L563.92 664.17L558.89 659.34L553.36 652.25L547.35 649.94L544.1 640.53L542.8 638.58L536.96 631.13L533.23 621.72L532.24 618.45L530.06 612.32L529.08 602.92L531.41 593.51L532.24 592.06L536.96 584.11L542.8 577.81L553.36 578.79L560.17 584.11L563.92 586.82L574.49 592.04L584.1 593.51L585.05 593.65L586.94 593.51L595.61 593.23L606.17 591.16L616.74 588.28L627.3 584.11L627.3 584.11L627.3 574.7L627.3 565.3L617.6 565.3L616.74 566.61L611.19 574.7L606.17 577.39L597.37 584.11L595.61 584.94L593.5 584.11L585.05 576.58L581.96 574.7L585.05 565.3L574.49 565.3L563.92 565.3L553.36 565.3L542.8 565.3L532.24 565.3L521.67 565.3L513.5 565.3L514.42 574.7L511.11 581.83L510 584.11L500.55 591.95L493.51 593.51L489.99 594.86L479.43 601.74L477.96 602.92L472.49 612.32L468.86 614.75L458.3 613.05L447.74 612.78L437.18 613.08L426.61 613.8L416.05 618.1L412.81 621.72L413.45 631.13L416.05 634.5L426.61 637.8L437.18 640.53L437.18 640.53L447.33 649.94L447.74 650.09L456.98 659.34L458.3 667.46L458.38 668.75L462.24 678.15L468.86 686.43L469.48 687.55L473.34 696.96L474.75 706.36L476.89 715.77L478.79 725.17L479.43 727.72L482.09 734.57L483.51 743.98L487.03 753.38L489.99 755.57L500.55 760.82L503.77 762.79L511.11 770.38L512.44 772.19L515.29 781.6L513.17 791ZM497.07 734.57L489.99 726.33L489.37 725.17L485.51 715.77L479.43 706.75L479.31 706.36L478.02 696.96L476.32 687.55L472.77 678.15L468.86 670.01L468.35 668.75L468.12 659.34L468.86 658.21L479.43 656.66L489.99 655.51L500.55 654.29L510.87 649.94L511.11 649.83L521.67 647.94L532.24 647.06L535.34 649.94L542.8 655.24L553.36 658.13L554.31 659.34L563.92 668.55L564.12 668.75L565.81 678.15L563.92 682.37L562.06 687.55L563.52 696.96L563.92 701.66L565.43 706.36L568.62 715.77L568.29 725.17L563.92 729.55L557.45 734.57L553.36 739.35L542.8 740.36L532.24 742.99L521.67 740.91L511.11 740.39L500.55 738.21ZM487.88 640.53L480.39 631.13L481.19 621.72L489.99 616.5L500.55 617.02L507.59 621.72L511.11 627.99L512.71 631.13L511.11 633.01L500.55 640.53L500.55 640.53L489.99 641.25ZM379.38 574.7L377.97 565.3L373.8 565.3L373.8 574.7L373.8 582.42Z" fill="#afff50" stroke="#afff50" stroke-width="0.3" fill-rule="evenodd"/>
<path d="M585.05 791L595.61 791L606.17 791L610.9 791L616.74 787.96L621.33 781.6L616.74 775.7L606.17 774.4L595.61 778.75L591.28 781.6L585.05 787.29L579.64 791ZM500.55 738.21L511.11 740.39L521.67 740.91L532.24 742.99L542.8 740.36L553.36 739.35L557.45 734.57L563.92 729.55L568.29 725.17L568.62 715.77L565.43 706.36L563.92 701.66L563.52 696.96L562.06 687.55L563.92 682.37L565.81 678.15L564.12 668.75L563.92 668.55L554.31 659.34L553.36 658.13L542.8 655.24L535.34 649.94L532.24 647.06L521.67 647.94L511.11 649.83L510.87 649.94L500.55 654.29L489.99 655.51L479.43 656.66L468.86 658.21L468.12 659.34L468.35 668.75L468.86 670.01L472.77 678.15L476.32 687.55L478.02 696.96L479.31 706.36L479.43 706.75L485.51 715.77L489.37 725.17L489.99 726.33L497.07 734.57ZM498.78 715.77L492.41 706.36L489.99 699.65L488.71 696.96L487.57 687.55L487.09 678.15L489.99 674.52L500.55 668.76L500.58 668.75L511.11 665.36L521.67 662.76L532.24 662.03L542.8 665.86L546.97 668.75L553.36 676.74L554.15 678.15L557.39 687.55L559.46 696.96L560.08 706.36L558.6 715.77L553.36 721.95L542.8 724.46L532.24 724.81L521.67 724.19L511.11 721.18L500.55 717.02ZM595.61 584.94L597.37 584.11L606.17 577.39L611.19 574.7L616.74 566.61L617.6 565.3L616.74 565.3L606.17 565.3L595.61 565.3L585.05 565.3L585.05 565.3L581.96 574.7L585.05 576.58L593.5 584.11Z" fill="#ffff00" stroke="#ffff00" stroke-width="0.3" fill-rule="evenodd"/>
<path d="M500.55 717.02L511.11 721.18L521.67 724.19L532.24 724.81L542.8 724.46L553.36 721.95L558.6 715.77L560.08 706.36L559.46 696.96L557.39 687.55L554.15 678.15L553.36 676.74L546.97 668.75L542.8 665.86L532.24 662.03L521.67 662.76L511.11 665.36L500.58 668.75L500.55 668.76L489.99 674.52L487.09 678.15L487.57 687.55L488.71 696.96L489.99 699.65L492.41 706.36L498.78 715.77ZM512.7 715.77L511.11 713.96L502.06 706.36L500.94 696.96L500.55 691.55L500.17 687.55L500.55 686.99L511.11 680.75L516.69 678.15L521.67 675.85L532.24 674.56L542.73 678.15L542.8 678.17L552.34 687.55L553.36 689.59L555.39 696.96L555.8 706.36L553.36 711.83L551.03 715.77L542.8 720.91L532.24 721.73L521.67 720.93Z" fill="#ff9f00" stroke="#ff9f00" stroke-width="0.3" fill-rule="evenodd"/>
<path d="M521.67 720.93L532.24 721.73L542.8 720.91L551.03 715.77L553.36 711.83L555.8 706.36L555.39 696.96L553.36 689.59L552.34 687.55L542.8 678.17L542.73 678.15L532.24 674.56L521.67 675.85L516.69 678.15L511.11 680.75L500.55 686.99L500.17 687.55L500.55 691.55L500.94 696.96L502.06 706.36L511.11 713.96L512.7 715.77ZM518.36 715.77L511.11 707.52L509.74 706.36L510.07 696.96L511.11 695.06L517.54 687.55L521.67 685.07L532.24 682.78L542.8 685.51L544.88 687.55L550.42 696.96L550.84 706.36L545.35 715.77L542.8 717.36L532.24 718.65L521.67 717.67Z" fill="#ff5000" stroke="#ff5000" stroke-width="0.3" fill-rule="evenodd"/>
<path d="M521.67 717.67L532.24 718.65L542.8 717.36L545.35 715.77L550.84 706.36L550.42 696.96L544.88 687.55L542.8 685.51L532.24 682.78L521.67 685.07L517.54 687.55L511.11 695.06L510.07 696.96L509.74 706.36L511.11 707.52L518.36 715.77ZM517.68 706.36L518.5 696.96L521.67 693.67L532.24 690.38L542.8 694.23L544.54 696.96L544.98 706.36L542.8 710.15L532.24 715.15L521.67 711.49Z" fill="#ff0000" stroke="#ff0000" stroke-width="0.3" fill-rule="evenodd"/>
<path d="M521.67 711.49L532.24 715.15L542.8 710.15L544.98 706.36L544.54 696.96L542.8 694.23L532.24 690.38L521.67 693.67L518.5 696.96L517.68 706.36Z" fill="#8f0000" stroke="#8f0000" stroke-width="0.3" fill-rule="evenodd"/>
<path d="M416.05 718.83L407.84 715.77L405.49 714.59L394.93 709.47L390.9 706.36L387.1 696.96L388.75 687.55L394.93 683.76L405.49 683.65L416.05 684.84L420.85 687.55L426.61 691.63L433.33 696.96L437.18 700.28L443.57 706.36L447.67 715.77L437.18 720.91L426.61 720.32Z" fill="none" stroke="#111" stroke-width="0.8" stroke-linejoin="round"/>
<path d="M373.8 687.08L384.36 679.05L386.56 678.15L394.93 675.87L405.49 676.06L416.05 676.83L421.27 678.15L426.61 680.07L437.18 687.07L437.7 687.55L447.04 696.96L447.74 697.63L453.89 706.36L458 715.77L450.13 725.17L447.74 726.75L437.18 727.99L426.61 727.67L416.05 725.95L412.89 725.17L405.49 723.41L394.93 718.98L387.86 715.77L384.36 713.28L374.37 706.36L373.8 702.98" fill="none" stroke="#111" stroke-width="0.8" stroke-linejoin="round"/>
<path d="M420.28 791L420.21 781.6L426.61 774.05L431.85 772.19L437.18 769.89L447.74 766.73L458.3 767.43L466.52 772.19L468.86 774.56L473.81 781.6L473.2 791M627.3 723.86L617.23 715.77L616.74 714.94L613.34 706.36L612.38 696.96L616.32 687.55L616.74 687.19L620.57 678.15L623.59 668.75L627.3 659.34L627.3 659.34M373.8 662.91L384.36 660.62L394.93 665.8L405.49 666.75L416.05 668.03L426.61 668.44L428.37 668.75L437.18 672.84L443.63 678.15L447.74 682.07L451.24 687.55L458.3 691.94L462.16 696.96L462.92 706.36L464.31 715.77L460.47 725.17L458.3 728.02L447.74 733.65L440.06 734.57L437.18 735.01L426.61 736.3L416.05 735.59L408.26 734.57L405.49 734.37L394.93 732.39L384.36 732.28L373.8 730.64M457.34 565.3L454.07 574.7L447.74 577.28L437.18 576.58L432.94 574.7L426.61 569.92L423.81 565.3M475.46 565.3L470.62 574.7L468.86 575.86L463.58 574.7L459.26 565.3M585.05 666.39L577.74 659.34L577.05 649.94L585.05 640.53L585.05 640.53L595.61 635.52L601.26 640.53L602.84 649.94L602.35 659.34L595.61 667.25Z" fill="none" stroke="#111" stroke-width="0.8" stroke-linejoin="round"/>
<path d="M397.12 791L398.76 781.6L400.52 772.19L401.2 762.79L399.54 753.38L394.93 748.72L384.36 745.1L373.8 747M627.3 743.84L623.95 743.98L616.74 744.32L615.77 743.98L606.17 737.17L604.01 734.57L601.01 725.17L602.8 715.77L600.53 706.36L598.78 696.96L595.61 693.53L590.21 687.55L585.05 683.28L579.3 678.15L574.49 672.37L573.08 668.75L563.92 659.78L563.47 659.34L560.94 649.94L563.92 643.31L565.69 640.53L572.42 631.13L574.49 628.83L585.05 621.73L585.05 621.72L595.61 612.49L595.82 612.32L606.17 607.09L616.74 603.73L621.51 602.92L627.3 602.02M373.8 641.89L384.36 645.81L390.67 649.94L394.93 651.58L405.49 657.07L410.14 659.34L416.05 660.79L426.61 661.56L437.18 662.54L447.49 668.75L447.74 668.95L453.82 678.15L458.3 683.4L461.92 687.55L468.59 696.96L468.86 698.13L470.2 706.36L470.54 715.77L470.2 725.17L468.86 731.66L467.56 734.57L458.3 739.28L447.74 741.56L437.18 743.8L436.83 743.98L437.18 744.43L447.74 751.03L451.26 753.38L458.3 756.02L468.86 762.08L469.7 762.79L479.43 771.29L480.7 772.19L488.9 781.6L489.99 786.59L490.91 791M373.8 597.54L384.36 596.2L387.88 593.51L394.93 584.11L394.93 584.11L395.74 574.7L398.28 565.3M492.16 565.3L497.59 574.7L489.99 580.27L481.95 584.11L479.43 585.45L469.31 593.51L468.86 593.84L458.3 597.06L447.74 597.9L437.18 597.42L426.61 595.94L416.05 597.54L405.49 596.65L394.93 599.78L391.91 602.92L387.55 612.32L384.36 617.03L373.8 621.72" fill="none" stroke="#111" stroke-width="0.8" stroke-linejoin="round"/>
<path d="M377.51 791L379.42 781.6L377.52 772.19L373.8 769.62M627.3 764.51L621.31 762.79L616.74 761.89L606.17 760.35L595.61 758.05L585.05 753.38L585.05 753.38L574.49 747.49L571.25 743.98L572.72 734.57L574.49 732.61L580.9 725.17L585.05 719.98L591.09 715.77L586.81 706.36L585.05 701.66L582.41 696.96L574.49 687.55L574.49 687.55L571.6 678.15L568.6 668.75L563.92 664.17L558.89 659.34L553.36 652.25L547.35 649.94L544.1 640.53L542.8 638.58L536.96 631.13L533.23 621.72L532.24 618.45L530.06 612.32L529.08 602.92L531.41 593.51L532.24 592.06L536.96 584.11L542.8 577.81L553.36 578.79L560.17 584.11L563.92 586.82L574.49 592.04L584.1 593.51L585.05 593.65L586.94 593.51L595.61 593.23L606.17 591.16L616.74 588.28L627.3 584.11L627.3 584.11M373.8 582.42L379.38 574.7L377.97 565.3M513.5 565.3L514.42 574.7L511.11 581.83L510 584.11L500.55 591.95L493.51 593.51L489.99 594.86L479.43 601.74L477.96 602.92L472.49 612.32L468.86 614.75L458.3 613.05L447.74 612.78L437.18 613.08L426.61 613.8L416.05 618.1L412.81 621.72L413.45 631.13L416.05 634.5L426.61 637.8L437.18 640.53L437.18 640.53L447.33 649.94L447.74 650.09L456.98 659.34L458.3 667.46L458.38 668.75L462.24 678.15L468.86 686.43L469.48 687.55L473.34 696.96L474.75 706.36L476.89 715.77L478.79 725.17L479.43 727.72L482.09 734.57L483.51 743.98L487.03 753.38L489.99 755.57L500.55 760.82L503.77 762.79L511.11 770.38L512.44 772.19L515.29 781.6L513.17 791M489.99 641.25L487.88 640.53L480.39 631.13L481.19 621.72L489.99 616.5L500.55 617.02L507.59 621.72L511.11 627.99L512.71 631.13L511.11 633.01L500.55 640.53L500.55 640.53Z" fill="none" stroke="#111" stroke-width="0.8" stroke-linejoin="round"/>
<path d="M610.9 791L616.74 787.96L621.33 781.6L616.74 775.7L606.17 774.4L595.61 778.75L591.28 781.6L585.05 787.29L579.64 791M585.05 565.3L581.96 574.7L585.05 576.58L593.5 584.11L595.61 584.94L597.37 584.11L606.17 577.39L611.19 574.7L616.74 566.61L617.6 565.3M500.55 738.21L511.11 740.39L521.67 740.91L532.24 742.99L542.8 740.36L553.36 739.35L557.45 734.57L563.92 729.55L568.29 725.17L568.62 715.77L565.43 706.36L563.92 701.66L563.52 696.96L562.06 687.55L563.92 682.37L565.81 678.15L564.12 668.75L563.92 668.55L554.31 659.34L553.36 658.13L542.8 655.24L535.34 649.94L532.24 647.06L521.67 647.94L511.11 649.83L510.87 649.94L500.55 654.29L489.99 655.51L479.43 656.66L468.86 658.21L468.12 659.34L468.35 668.75L468.86 670.01L472.77 678.15L476.32 687.55L478.02 696.96L479.31 706.36L479.43 706.75L485.51 715.77L489.37 725.17L489.99 726.33L497.07 734.57Z" fill="none" stroke="#111" stroke-width="0.8" stroke-linejoin="round"/>
<path d="M500.55 717.02L511.11 721.18L521.67 724.19L532.24 724.81L542.8 724.46L553.36 721.95L558.6 715.77L560.08 706.36L559.46 696.96L557.39 687.55L554.15 678.15L553.36 676.74L546.97 668.75L542.8 665.86L532.24 662.03L521.67 662.76L511.11 665.36L500.58 668.75L500.55 668.76L489.99 674.52L487.09 678.15L487.57 687.55L488.71 696.96L489.99 699.65L492.41 706.36L498.78 715.77Z" fill="none" stroke="#111" stroke-width="0.8" stroke-linejoin="round"/>
<path d="M521.67 720.93L532.24 721.73L542.8 720.91L551.03 715.77L553.36 711.83L555.8 706.36L555.39 696.96L553.36 689.59L552.34 687.55L542.8 678.17L542.73 678.15L532.24 674.56L521.67 675.85L516.69 678.15L511.11 680.75L500.55 686.99L500.17 687.55L500.55 691.55L500.94 696.96L502.06 706.36L511.11 713.96L512.7 715.77Z" fill="none" stroke="#111" stroke-width="0.8" stroke-linejoin="round"/>
<path d="M521.67 717.67L532.24 718.65L542.8 717.36L545.35 715.77L550.84 706.36L550.42 696.96L544.88 687.55L542.8 685.51L532.24 682.78L521.67 685.07L517.54 687.55L511.11 695.06L510.07 696.96L509.74 706.36L511.11 707.52L518.36 715.77Z" fill="none" stroke="#111" stroke-width="0.8" stroke-linejoin="round"/>
<path d="M521.67 711.49L532.24 715.15L542.8 710.15L544.98 706.36L544.54 696.96L542.8 694.23L532.24 690.38L521.67 693.67L518.5 696.96L517.68 706.36Z" fill="none" stroke="#111" stroke-width="0.8" stroke-linejoin="round"/>
</g>
<path d="M373.8 791v-2.6M373.8 565.3v2.6M394.93 791v-2.6M394.93 565.3v2.6M416.05 791v-2.6M416.05 565.3v2.6M437.18 791v-2.6M437.18 565.3v2.6M458.3 791v-2.6M458.3 565.3v2.6M479.43 791v-2.6M479.43 565.3v2.6M500.55 791v-2.6M500.55 565.3v2.6M521.67 791v-2.6M521.67 565.3v2.6M542.8 791v-2.6M542.8 565.3v2.6M563.92 791v-2.6M563.92 565.3v2.6M585.05 791v-2.6M585.05 565.3v2.6M606.17 791v-2.6M606.17 565.3v2.6M627.3 791v-2.6M627.3 565.3v2.6M373.8 565.3h2.6M627.3 565.3h-2.6M373.8 584.11h2.6M627.3 584.11h-2.6M373.8 602.92h2.6M627.3 602.92h-2.6M373.8 621.72h2.6M627.3 621.72h-2.6M373.8 640.53h2.6M627.3 640.53h-2.6M373.8 659.34h2.6M627.3 659.34h-2.6M373.8 678.15h2.6M627.3 678.15h-2.6M373.8 696.96h2.6M627.3 696.96h-2.6M373.8 715.77h2.6M627.3 715.77h-2.6M373.8 734.57h2.6M627.3 734.57h-2.6M373.8 753.38h2.6M627.3 753.38h-2.6M373.8 772.19h2.6M627.3 772.19h-2.6M373.8 791h2.6M627.3 791h-2.6" stroke="#222" stroke-width="0.6" fill="none"/>
<rect x="373.8" y="565.3" width="253.5" height="225.7" fill="none" stroke="#222" stroke-width="0.8"/>
<text x="371" y="802" text-anchor="middle">−180</text>
<text x="392.12" y="802" text-anchor="middle">−150</text>
<text x="413.25" y="802" text-anchor="middle">−120</text>
<text x="434.38" y="802" text-anchor="middle">−90</text>
<text x="455.5" y="802" text-anchor="middle">−60</text>
<text x="476.62" y="802" text-anchor="middle">−30</text>
<text x="500.55" y="802" text-anchor="middle">0</text>
<text x="521.67" y="802" text-anchor="middle">30</text>
<text x="542.8" y="802" text-anchor="middle">60</text>
<text x="563.92" y="802" text-anchor="middle">90</text>
<text x="585.05" y="802" text-anchor="middle">120</text>
<text x="606.17" y="802" text-anchor="middle">150</text>
<text x="627.3" y="802" text-anchor="middle">180</text>
<text x="371.6" y="794.4" text-anchor="end">0</text>
<text x="371.6" y="775.59" text-anchor="end">2</text>
<text x="371.6" y="756.78" text-anchor="end">4</text>
<text x="371.6" y="737.98" text-anchor="end">6</text>
<text x="371.6" y="719.17" text-anchor="end">8</text>
<text x="371.6" y="700.36" text-anchor="end">10</text>
<text x="371.6" y="681.55" text-anchor="end">12</text>
<text x="371.6" y="662.74" text-anchor="end">14</text>
<text x="371.6" y="643.93" text-anchor="end">16</text>
<text x="371.6" y="625.12" text-anchor="end">18</text>
<text x="371.6" y="606.32" text-anchor="end">20</text>
<text x="371.6" y="587.51" text-anchor="end">22</text>
<text x="371.6" y="568.7" text-anchor="end">24</text>
<text x="500.55" y="811.6" text-anchor="middle">Geographic longitude [°]</text>
<text transform="translate(356.2 678.15) rotate(-90)" text-anchor="middle">Magnetic local Time [h]</text>
<text x="369.2" y="557.3">Migrating tides total wind Southern Hemi[−40  °~−60°] 400km</text>
<linearGradient id="cb21" x1="0" y1="0" x2="0" y2="1"><stop offset="0.0000%" stop-color="#800000"/><stop offset="1.5625%" stop-color="#800000"/><stop offset="1.5625%" stop-color="#8f0000"/><stop offset="3.1250%" stop-color="#8f0000"/><stop offset="3.1250%" stop-color="#9f0000"/><stop offset="4.6875%" stop-color="#9f0000"/><stop offset="4.6875%" stop-color="#af0000"/><stop offset="6.2500%" stop-color="#af0000"/><stop offset="6.2500%" stop-color="#bf0000"/><stop offset="7.8125%" stop-color="#bf0000"/><stop offset="7.8125%" stop-color="#cf0000"/><stop offset="9.3750%" stop-color="#cf0000"/><stop offset="9.3750%" stop-color="#df0000"/><stop offset="10.9375%" stop-color="#df0000"/><stop offset="10.9375%" stop-color="#ef0000"/><stop offset="12.5000%" stop-color="#ef0000"/><stop offset="12.5000%" stop-color="#ff0000"/><stop offset="14.0625%" stop-color="#ff0000"/><stop offset="14.0625%" stop-color="#ff1000"/><stop offset="15.6250%" stop-color="#ff1000"/><stop offset="15.6250%" stop-color="#ff2000"/><stop offset="17.1875%" stop-color="#ff2000"/><stop offset="17.1875%" stop-color="#ff3000"/><stop offset="18.7500%" stop-color="#ff3000"/><stop offset="18.7500%" stop-color="#ff4000"/><stop offset="20.3125%" stop-color="#ff4000"/><stop offset="20.3125%" stop-color="#ff5000"/><stop offset="21.8750%" stop-color="#ff5000"/><stop offset="21.8750%" stop-color="#ff6000"/><stop offset="23.4375%" stop-color="#ff6000"/><stop offset="23.4375%" stop-color="#ff7000"/><stop offset="25.0000%" stop-color="#ff7000"/><stop offset="25.0000%" stop-color="#ff8000"/><stop offset="26.5625%" stop-color="#ff8000"/><stop offset="26.5625%" stop-color="#ff8f00"/><stop offset="28.1250%" stop-color="#ff8f00"/><stop offset="28.1250%" stop-color="#ff9f00"/><stop offset="29.6875%" stop-color="#ff9f00"/><stop offset="29.6875%" stop-color="#ffaf00"/><stop offset="31.2500%" stop-color="#ffaf00"/><stop offset="31.2500%" stop-color="#ffbf00"/><stop offset="32.8125%" stop-color="#ffbf00"/><stop offset="32.8125%" stop-color="#ffcf00"/><stop offset="34.3750%" stop-color="#ffcf00"/><stop offset="34.3750%" stop-color="#ffdf00"/><stop offset="35.9375%" stop-color="#ffdf00"/><stop offset="35.9375%" stop-color="#ffef00"/><stop offset="37.5000%" stop-color="#ffef00"/><stop offset="37.5000%" stop-color="#ffff00"/><stop offset="39.0625%" stop-color="#ffff00"/><stop offset="39.0625%" stop-color="#efff10"/><stop offset="40.6250%" stop-color="#efff10"/><stop offset="40.6250%" stop-color="#dfff20"/><stop offset="42.1875%" stop-color="#dfff20"/><stop offset="42.1875%" stop-color="#cfff30"/><stop offset="43.7500%" stop-color="#cfff30"/><stop offset="43.7500%" stop-color="#bfff40"/><stop offset="45.3125%" stop-color="#bfff40"/><stop offset="45.3125%" stop-color="#afff50"/><stop offset="46.8750%" stop-color="#afff50"/><stop offset="46.8750%" stop-color="#9fff60"/><stop offset="48.4375%" stop-color="#9fff60"/><stop offset="48.4375%" stop-color="#8fff70"/><stop offset="50.0000%" stop-color="#8fff70"/><stop offset="50.0000%" stop-color="#80ff80"/><stop offset="51.5625%" stop-color="#80ff80"/><stop offset="51.5625%" stop-color="#70ff8f"/><stop offset="53.1250%" stop-color="#70ff8f"/><stop offset="53.1250%" stop-color="#60ff9f"/><stop offset="54.6875%" stop-color="#60ff9f"/><stop offset="54.6875%" stop-color="#50ffaf"/><stop offset="56.2500%" stop-color="#50ffaf"/><stop offset="56.2500%" stop-color="#40ffbf"/><stop offset="57.8125%" stop-color="#40ffbf"/><stop offset="57.8125%" stop-color="#30ffcf"/><stop offset="59.3750%" stop-color="#30ffcf"/><stop offset="59.3750%" stop-color="#20ffdf"/><stop offset="60.9375%" stop-color="#20ffdf"/><stop offset="60.9375%" stop-color="#10ffef"/><stop offset="62.5000%" stop-color="#10ffef"/><stop offset="62.5000%" stop-color="#00ffff"/><stop offset="64.0625%" stop-color="#00ffff"/><stop offset="64.0625%" stop-color="#00efff"/><stop offset="65.6250%" stop-color="#00efff"/><stop offset="65.6250%" stop-color="#00dfff"/><stop offset="67.1875%" stop-color="#00dfff"/><stop offset="67.1875%" stop-color="#00cfff"/><stop offset="68.7500%" stop-color="#00cfff"/><stop offset="68.7500%" stop-color="#00bfff"/><stop offset="70.3125%" stop-color="#00bfff"/><stop offset="70.3125%" stop-color="#00afff"/><stop offset="71.8750%" stop-color="#00afff"/><stop offset="71.8750%" stop-color="#009fff"/><stop offset="73.4375%" stop-color="#009fff"/><stop offset="73.4375%" stop-color="#008fff"/><stop offset="75.0000%" stop-color="#008fff"/><stop offset="75.0000%" stop-color="#0080ff"/><stop offset="76.5625%" stop-color="#0080ff"/><stop offset="76.5625%" stop-color="#0070ff"/><stop offset="78.1250%" stop-color="#0070ff"/><stop offset="78.1250%" stop-color="#0060ff"/><stop offset="79.6875%" stop-color="#0060ff"/><stop offset="79.6875%" stop-color="#0050ff"/><stop offset="81.2500%" stop-color="#0050ff"/><stop offset="81.2500%" stop-color="#0040ff"/><stop offset="82.8125%" stop-color="#0040ff"/><stop offset="82.8125%" stop-color="#0030ff"/><stop offset="84.3750%" stop-color="#0030ff"/><stop offset="84.3750%" stop-color="#0020ff"/><stop offset="85.9375%" stop-color="#0020ff"/><stop offset="85.9375%" stop-color="#0010ff"/><stop offset="87.5000%" stop-color="#0010ff"/><stop offset="87.5000%" stop-color="#0000ff"/><stop offset="89.0625%" stop-color="#0000ff"/><stop offset="89.0625%" stop-color="#0000ef"/><stop offset="90.6250%" stop-color="#0000ef"/><stop offset="90.6250%" stop-color="#0000df"/><stop offset="92.1875%" stop-color="#0000df"/><stop offset="92.1875%" stop-color="#0000cf"/><stop offset="93.7500%" stop-color="#0000cf"/><stop offset="93.7500%" stop-color="#0000bf"/><stop offset="95.3125%" stop-color="#0000bf"/><stop offset="95.3125%" stop-color="#0000af"/><stop offset="96.8750%" stop-color="#0000af"/><stop offset="96.8750%" stop-color="#00009f"/><stop offset="98.4375%" stop-color="#00009f"/><stop offset="98.4375%" stop-color="#00008f"/><stop offset="100.0000%" stop-color="#00008f"/></linearGradient>
<rect x="636.9" y="565.3" width="13.5" height="225.7" fill="url(#cb21)"/>
<path d="M636.9 791h2M650.4 791h-2M636.9 768.43h2M650.4 768.43h-2M636.9 745.86h2M650.4 745.86h-2M636.9 723.29h2M650.4 723.29h-2M636.9 700.72h2M650.4 700.72h-2M636.9 678.15h2M650.4 678.15h-2M636.9 655.58h2M650.4 655.58h-2M636.9 633.01h2M650.4 633.01h-2M636.9 610.44h2M650.4 610.44h-2M636.9 587.87h2M650.4 587.87h-2M636.9 565.3h2M650.4 565.3h-2" stroke="#222" stroke-width="0.6" fill="none"/>
<rect x="636.9" y="565.3" width="13.5" height="225.7" fill="none" stroke="#222" stroke-width="0.8"/>
<text x="651.6" y="794.4">−10</text>
<text x="651.6" y="771.83">−8</text>
<text x="651.6" y="749.26">−6</text>
<text x="651.6" y="726.69">−4</text>
<text x="651.6" y="704.12">−2</text>
<text x="651.6" y="681.55">0</text>
<text x="651.6" y="658.98">2</text>
<text x="651.6" y="636.41">4</text>
<text x="651.6" y="613.84">6</text>
<text x="651.6" y="591.27">8</text>
<text x="651.6" y="568.7">10</text>
<text transform="translate(681.4 678.15) rotate(-90)" text-anchor="middle">Δ Ne 10<tspan dy="-3.5" font-size="7">10</tspan><tspan dy="3.5"> m</tspan><tspan dy="-3.5" font-size="7">−3</tspan></text>
</svg>
</body></html>
